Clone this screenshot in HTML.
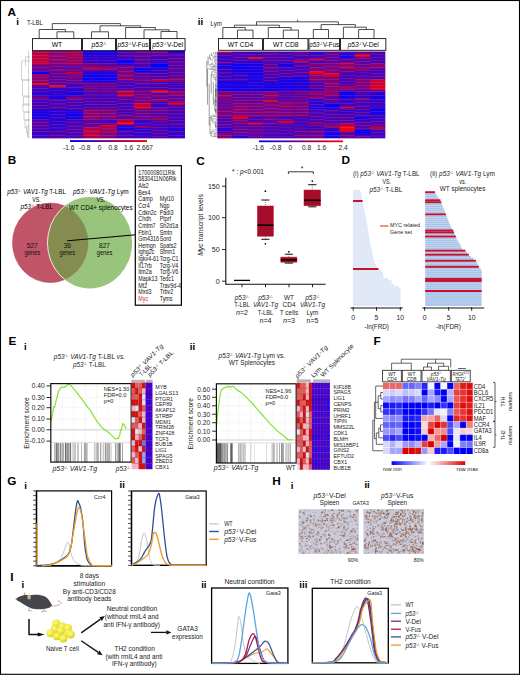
<!DOCTYPE html>
<html><head><meta charset="utf-8"><style>
html,body{margin:0;padding:0;background:#fff;width:520px;height:675px;overflow:hidden}
svg{display:block;font-family:"Liberation Sans",sans-serif}
</style></head><body>
<svg width="520" height="675" viewBox="0 0 520 675" font-family="Liberation Sans, sans-serif">
<rect x="0" y="0" width="520" height="675" fill="#fff"/>
<rect x="32" y="51" width="17.5" height="1.79" fill="#b4004b"/>
<rect x="32" y="52.44" width="17.5" height="1.79" fill="#b0004f"/>
<rect x="32" y="53.89" width="17.5" height="1.79" fill="#bb0044"/>
<rect x="32" y="55.33" width="17.5" height="1.91" fill="#bd0042"/>
<rect x="32" y="56.89" width="17.5" height="1.91" fill="#c80037"/>
<rect x="32" y="58.44" width="17.5" height="1.91" fill="#c4003b"/>
<rect x="32" y="60" width="17.5" height="1.91" fill="#bd0042"/>
<rect x="32" y="61.56" width="17.5" height="1.91" fill="#c70038"/>
<rect x="32" y="63.11" width="17.5" height="1.91" fill="#bc0043"/>
<rect x="32" y="64.67" width="17.5" height="1.68" fill="#71008e"/>
<rect x="32" y="66" width="17.5" height="1.68" fill="#690096"/>
<rect x="32" y="67.33" width="17.5" height="1.68" fill="#690096"/>
<rect x="32" y="68.67" width="17.5" height="1.68" fill="#71008e"/>
<rect x="32" y="70" width="17.5" height="1.68" fill="#7a0085"/>
<rect x="32" y="71.33" width="17.5" height="1.68" fill="#1100ee"/>
<rect x="32" y="72.67" width="17.5" height="1.68" fill="#1300ec"/>
<rect x="32" y="74" width="17.5" height="1.91" fill="#8f0070"/>
<rect x="32" y="75.56" width="17.5" height="1.91" fill="#970068"/>
<rect x="32" y="77.11" width="17.5" height="1.91" fill="#8e0071"/>
<rect x="32" y="78.67" width="17.5" height="1.91" fill="#8a0075"/>
<rect x="32" y="80.22" width="17.5" height="1.91" fill="#970068"/>
<rect x="32" y="81.78" width="17.5" height="1.91" fill="#82007d"/>
<rect x="32" y="83.33" width="17.5" height="1.95" fill="#ff0000"/>
<rect x="32" y="84.93" width="17.5" height="2.04" fill="#5400ab"/>
<rect x="32" y="86.62" width="17.5" height="2.04" fill="#5100ae"/>
<rect x="32" y="88.31" width="17.5" height="2.04" fill="#5000af"/>
<rect x="32" y="90" width="17.5" height="1.68" fill="#2f00d0"/>
<rect x="32" y="91.33" width="17.5" height="1.68" fill="#3a00c5"/>
<rect x="32" y="92.67" width="17.5" height="1.68" fill="#2c00d3"/>
<rect x="32" y="94" width="17.5" height="1.68" fill="#3500ca"/>
<rect x="32" y="95.33" width="17.5" height="1.68" fill="#3600c9"/>
<rect x="32" y="96.67" width="17.5" height="1.68" fill="#7d0082"/>
<rect x="32" y="98" width="17.5" height="1.68" fill="#81007e"/>
<rect x="32" y="99.33" width="17.5" height="1.87" fill="#4200bd"/>
<rect x="32" y="100.86" width="17.5" height="1.87" fill="#4200bd"/>
<rect x="32" y="102.38" width="17.5" height="1.87" fill="#4600b9"/>
<rect x="32" y="103.9" width="17.5" height="1.87" fill="#5100ae"/>
<rect x="32" y="105.43" width="17.5" height="1.87" fill="#4b00b4"/>
<rect x="32" y="106.95" width="17.5" height="1.87" fill="#4800b7"/>
<rect x="32" y="108.48" width="17.5" height="1.87" fill="#4e00b1"/>
<rect x="32" y="110" width="17.5" height="1.91" fill="#1800e7"/>
<rect x="32" y="111.56" width="17.5" height="1.91" fill="#1500ea"/>
<rect x="32" y="113.11" width="17.5" height="1.91" fill="#2000df"/>
<rect x="32" y="114.67" width="17.5" height="1.91" fill="#1e00e1"/>
<rect x="32" y="116.22" width="17.5" height="1.91" fill="#1400eb"/>
<rect x="32" y="117.78" width="17.5" height="1.91" fill="#1b00e4"/>
<rect x="32" y="119.33" width="17.5" height="1.87" fill="#5a00a5"/>
<rect x="32" y="120.86" width="17.5" height="1.87" fill="#62009d"/>
<rect x="32" y="122.38" width="17.5" height="1.87" fill="#5f00a0"/>
<rect x="32" y="123.9" width="17.5" height="1.87" fill="#5400ab"/>
<rect x="32" y="125.43" width="17.5" height="1.87" fill="#64009b"/>
<rect x="32" y="126.95" width="17.5" height="1.87" fill="#5000af"/>
<rect x="32" y="128.48" width="17.5" height="1.87" fill="#5700a8"/>
<rect x="32" y="130" width="17.5" height="1.68" fill="#4600b9"/>
<rect x="32" y="131.33" width="17.5" height="1.68" fill="#3800c7"/>
<rect x="32" y="132.67" width="17.5" height="1.68" fill="#3f00c0"/>
<rect x="32" y="134" width="17.5" height="1.68" fill="#3500ca"/>
<rect x="32" y="135.33" width="17.5" height="1.68" fill="#4400bb"/>
<rect x="32" y="136.67" width="17.5" height="1.68" fill="#4600b9"/>
<rect x="49" y="51" width="17.5" height="1.72" fill="#8e0071"/>
<rect x="49" y="52.37" width="17.5" height="1.72" fill="#95006a"/>
<rect x="49" y="53.74" width="17.5" height="1.72" fill="#880077"/>
<rect x="49" y="55.11" width="17.5" height="1.72" fill="#91006e"/>
<rect x="49" y="56.48" width="17.5" height="1.72" fill="#8e0071"/>
<rect x="49" y="57.85" width="17.5" height="1.72" fill="#8e0071"/>
<rect x="49" y="59.22" width="17.5" height="1.72" fill="#8b0074"/>
<rect x="49" y="60.59" width="17.5" height="1.72" fill="#94006b"/>
<rect x="49" y="61.96" width="17.5" height="1.72" fill="#960069"/>
<rect x="49" y="63.33" width="17.5" height="1.79" fill="#72008d"/>
<rect x="49" y="64.78" width="17.5" height="1.79" fill="#770088"/>
<rect x="49" y="66.22" width="17.5" height="1.79" fill="#690096"/>
<rect x="49" y="67.67" width="17.5" height="1.79" fill="#770088"/>
<rect x="49" y="69.11" width="17.5" height="1.79" fill="#760089"/>
<rect x="49" y="70.56" width="17.5" height="1.79" fill="#7e0081"/>
<rect x="49" y="72" width="17.5" height="1.83" fill="#6d0092"/>
<rect x="49" y="73.48" width="17.5" height="1.83" fill="#61009e"/>
<rect x="49" y="74.96" width="17.5" height="1.83" fill="#63009c"/>
<rect x="49" y="76.44" width="17.5" height="1.83" fill="#6a0095"/>
<rect x="49" y="77.93" width="17.5" height="1.83" fill="#5b00a4"/>
<rect x="49" y="79.41" width="17.5" height="1.83" fill="#65009a"/>
<rect x="49" y="80.89" width="17.5" height="1.83" fill="#5e00a1"/>
<rect x="49" y="82.37" width="17.5" height="1.83" fill="#5d00a2"/>
<rect x="49" y="83.85" width="17.5" height="1.83" fill="#5c00a3"/>
<rect x="49" y="85.33" width="17.5" height="2.35" fill="#ff0000"/>
<rect x="49" y="87.33" width="17.5" height="1.91" fill="#2a00d5"/>
<rect x="49" y="88.89" width="17.5" height="1.91" fill="#2d00d2"/>
<rect x="49" y="90.44" width="17.5" height="1.91" fill="#3000cf"/>
<rect x="49" y="92" width="17.5" height="1.91" fill="#3c00c3"/>
<rect x="49" y="93.56" width="17.5" height="1.91" fill="#2900d6"/>
<rect x="49" y="95.11" width="17.5" height="1.91" fill="#3200cd"/>
<rect x="49" y="96.67" width="17.5" height="1.55" fill="#0e00f1"/>
<rect x="49" y="97.87" width="17.5" height="1.55" fill="#1600e9"/>
<rect x="49" y="99.07" width="17.5" height="1.72" fill="#5400ab"/>
<rect x="49" y="100.43" width="17.5" height="1.72" fill="#5500aa"/>
<rect x="49" y="101.8" width="17.5" height="1.72" fill="#4700b8"/>
<rect x="49" y="103.17" width="17.5" height="1.72" fill="#4b00b4"/>
<rect x="49" y="104.53" width="17.5" height="1.72" fill="#4900b6"/>
<rect x="49" y="105.9" width="17.5" height="1.72" fill="#5500aa"/>
<rect x="49" y="107.27" width="17.5" height="1.72" fill="#5700a8"/>
<rect x="49" y="108.63" width="17.5" height="1.72" fill="#4400bb"/>
<rect x="49" y="110" width="17.5" height="1.78" fill="#2c00d3"/>
<rect x="49" y="111.43" width="17.5" height="1.78" fill="#2d00d2"/>
<rect x="49" y="112.86" width="17.5" height="1.78" fill="#2d00d2"/>
<rect x="49" y="114.29" width="17.5" height="1.78" fill="#3300cc"/>
<rect x="49" y="115.71" width="17.5" height="1.78" fill="#3500ca"/>
<rect x="49" y="117.14" width="17.5" height="1.78" fill="#2e00d1"/>
<rect x="49" y="118.57" width="17.5" height="1.78" fill="#2800d7"/>
<rect x="49" y="120" width="17.5" height="1.78" fill="#3100ce"/>
<rect x="49" y="121.43" width="17.5" height="1.78" fill="#3000cf"/>
<rect x="49" y="122.86" width="17.5" height="1.78" fill="#3500ca"/>
<rect x="49" y="124.29" width="17.5" height="1.78" fill="#3d00c2"/>
<rect x="49" y="125.71" width="17.5" height="1.78" fill="#3700c8"/>
<rect x="49" y="127.14" width="17.5" height="1.78" fill="#3300cc"/>
<rect x="49" y="128.57" width="17.5" height="1.78" fill="#3600c9"/>
<rect x="49" y="130" width="17.5" height="1.68" fill="#5100ae"/>
<rect x="49" y="131.33" width="17.5" height="1.68" fill="#4200bd"/>
<rect x="49" y="132.67" width="17.5" height="1.68" fill="#5600a9"/>
<rect x="49" y="134" width="17.5" height="1.68" fill="#5300ac"/>
<rect x="49" y="135.33" width="17.5" height="1.68" fill="#5500aa"/>
<rect x="49" y="136.67" width="17.5" height="1.68" fill="#5300ac"/>
<rect x="66" y="51" width="17.5" height="1.87" fill="#a3005c"/>
<rect x="66" y="52.52" width="17.5" height="1.87" fill="#a3005c"/>
<rect x="66" y="54.04" width="17.5" height="1.87" fill="#9d0062"/>
<rect x="66" y="55.56" width="17.5" height="1.87" fill="#a90056"/>
<rect x="66" y="57.07" width="17.5" height="1.87" fill="#9c0063"/>
<rect x="66" y="58.59" width="17.5" height="1.87" fill="#9c0063"/>
<rect x="66" y="60.11" width="17.5" height="1.87" fill="#9f0060"/>
<rect x="66" y="61.63" width="17.5" height="1.87" fill="#9e0061"/>
<rect x="66" y="63.15" width="17.5" height="1.87" fill="#a2005d"/>
<rect x="66" y="64.67" width="17.5" height="1.82" fill="#680097"/>
<rect x="66" y="66.13" width="17.5" height="1.82" fill="#670098"/>
<rect x="66" y="67.6" width="17.5" height="1.82" fill="#6b0094"/>
<rect x="66" y="69.07" width="17.5" height="1.82" fill="#6a0095"/>
<rect x="66" y="70.53" width="17.5" height="1.82" fill="#70008f"/>
<rect x="66" y="72" width="17.5" height="2.35" fill="#c1003e"/>
<rect x="66" y="74" width="17.5" height="1.91" fill="#7b0084"/>
<rect x="66" y="75.56" width="17.5" height="1.91" fill="#75008a"/>
<rect x="66" y="77.11" width="17.5" height="1.91" fill="#6b0094"/>
<rect x="66" y="78.67" width="17.5" height="1.91" fill="#6d0092"/>
<rect x="66" y="80.22" width="17.5" height="1.91" fill="#6f0090"/>
<rect x="66" y="81.78" width="17.5" height="1.91" fill="#70008f"/>
<rect x="66" y="83.33" width="17.5" height="1.68" fill="#3700c8"/>
<rect x="66" y="84.67" width="17.5" height="1.68" fill="#4800b7"/>
<rect x="66" y="86" width="17.5" height="1.68" fill="#4b00b4"/>
<rect x="66" y="87.33" width="17.5" height="1.68" fill="#3f00c0"/>
<rect x="66" y="88.67" width="17.5" height="1.68" fill="#3f00c0"/>
<rect x="66" y="90" width="17.5" height="1.68" fill="#1d00e2"/>
<rect x="66" y="91.33" width="17.5" height="1.68" fill="#1d00e2"/>
<rect x="66" y="92.67" width="17.5" height="1.68" fill="#2300dc"/>
<rect x="66" y="94" width="17.5" height="1.68" fill="#2100de"/>
<rect x="66" y="95.33" width="17.5" height="1.68" fill="#2e00d1"/>
<rect x="66" y="96.67" width="17.5" height="1.68" fill="#91006e"/>
<rect x="66" y="98" width="17.5" height="1.68" fill="#8e0071"/>
<rect x="66" y="99.33" width="17.5" height="1.87" fill="#5700a8"/>
<rect x="66" y="100.86" width="17.5" height="1.87" fill="#4d00b2"/>
<rect x="66" y="102.38" width="17.5" height="1.87" fill="#4400bb"/>
<rect x="66" y="103.9" width="17.5" height="1.87" fill="#4d00b2"/>
<rect x="66" y="105.43" width="17.5" height="1.87" fill="#4200bd"/>
<rect x="66" y="106.95" width="17.5" height="1.87" fill="#4d00b2"/>
<rect x="66" y="108.48" width="17.5" height="1.87" fill="#5700a8"/>
<rect x="66" y="110" width="17.5" height="1.91" fill="#2200dd"/>
<rect x="66" y="111.56" width="17.5" height="1.91" fill="#1e00e1"/>
<rect x="66" y="113.11" width="17.5" height="1.91" fill="#1400eb"/>
<rect x="66" y="114.67" width="17.5" height="1.91" fill="#1600e9"/>
<rect x="66" y="116.22" width="17.5" height="1.91" fill="#1200ed"/>
<rect x="66" y="117.78" width="17.5" height="1.91" fill="#2000df"/>
<rect x="66" y="119.33" width="17.5" height="1.79" fill="#4d00b2"/>
<rect x="66" y="120.77" width="17.5" height="1.79" fill="#5300ac"/>
<rect x="66" y="122.21" width="17.5" height="1.79" fill="#4900b6"/>
<rect x="66" y="123.64" width="17.5" height="1.79" fill="#4600b9"/>
<rect x="66" y="125.08" width="17.5" height="1.79" fill="#5400ab"/>
<rect x="66" y="126.51" width="17.5" height="1.79" fill="#5800a7"/>
<rect x="66" y="127.95" width="17.5" height="1.79" fill="#5500aa"/>
<rect x="66" y="129.38" width="17.5" height="1.79" fill="#5400ab"/>
<rect x="66" y="130.82" width="17.5" height="1.79" fill="#5400ab"/>
<rect x="66" y="132.26" width="17.5" height="1.79" fill="#5200ad"/>
<rect x="66" y="133.69" width="17.5" height="1.79" fill="#4600b9"/>
<rect x="66" y="135.13" width="17.5" height="1.79" fill="#4d00b2"/>
<rect x="66" y="136.56" width="17.5" height="1.79" fill="#4900b6"/>
<rect x="83" y="51" width="17.5" height="1.85" fill="#0f00f0"/>
<rect x="83" y="52.5" width="17.5" height="1.85" fill="#0f00f0"/>
<rect x="83" y="54" width="17.5" height="1.91" fill="#2e00d1"/>
<rect x="83" y="55.56" width="17.5" height="1.91" fill="#2d00d2"/>
<rect x="83" y="57.11" width="17.5" height="1.91" fill="#3700c8"/>
<rect x="83" y="58.67" width="17.5" height="1.91" fill="#3d00c2"/>
<rect x="83" y="60.22" width="17.5" height="1.91" fill="#3200cd"/>
<rect x="83" y="61.78" width="17.5" height="1.91" fill="#3d00c2"/>
<rect x="83" y="63.33" width="17.5" height="2.02" fill="#71008e"/>
<rect x="83" y="65" width="17.5" height="2.02" fill="#70008f"/>
<rect x="83" y="66.67" width="17.5" height="1.68" fill="#bc0043"/>
<rect x="83" y="68" width="17.5" height="1.68" fill="#b90046"/>
<rect x="83" y="69.33" width="17.5" height="2.02" fill="#5300ac"/>
<rect x="83" y="71" width="17.5" height="2.02" fill="#5200ad"/>
<rect x="83" y="72.67" width="17.5" height="1.91" fill="#0600f9"/>
<rect x="83" y="74.22" width="17.5" height="1.91" fill="#1000ef"/>
<rect x="83" y="75.78" width="17.5" height="1.91" fill="#1600e9"/>
<rect x="83" y="77.33" width="17.5" height="1.91" fill="#1500ea"/>
<rect x="83" y="78.89" width="17.5" height="1.91" fill="#0c00f3"/>
<rect x="83" y="80.44" width="17.5" height="1.91" fill="#1000ef"/>
<rect x="83" y="82" width="17.5" height="1.87" fill="#6d0092"/>
<rect x="83" y="83.52" width="17.5" height="1.87" fill="#5c00a3"/>
<rect x="83" y="85.05" width="17.5" height="1.87" fill="#6a0095"/>
<rect x="83" y="86.57" width="17.5" height="1.87" fill="#6f0090"/>
<rect x="83" y="88.1" width="17.5" height="1.87" fill="#6c0093"/>
<rect x="83" y="89.62" width="17.5" height="1.87" fill="#6c0093"/>
<rect x="83" y="91.14" width="17.5" height="1.87" fill="#65009a"/>
<rect x="83" y="92.67" width="17.5" height="1.8" fill="#4500ba"/>
<rect x="83" y="94.12" width="17.5" height="1.8" fill="#5300ac"/>
<rect x="83" y="95.58" width="17.5" height="1.8" fill="#4900b6"/>
<rect x="83" y="97.03" width="17.5" height="1.8" fill="#5300ac"/>
<rect x="83" y="98.48" width="17.5" height="1.8" fill="#5700a8"/>
<rect x="83" y="99.94" width="17.5" height="1.8" fill="#4a00b5"/>
<rect x="83" y="101.39" width="17.5" height="1.8" fill="#4a00b5"/>
<rect x="83" y="102.85" width="17.5" height="1.8" fill="#5700a8"/>
<rect x="83" y="104.3" width="17.5" height="1.8" fill="#5200ad"/>
<rect x="83" y="105.76" width="17.5" height="1.8" fill="#4500ba"/>
<rect x="83" y="107.21" width="17.5" height="1.8" fill="#4400bb"/>
<rect x="83" y="108.67" width="17.5" height="1.87" fill="#84007b"/>
<rect x="83" y="110.19" width="17.5" height="1.87" fill="#960069"/>
<rect x="83" y="111.71" width="17.5" height="1.87" fill="#93006c"/>
<rect x="83" y="113.24" width="17.5" height="1.87" fill="#84007b"/>
<rect x="83" y="114.76" width="17.5" height="1.87" fill="#94006b"/>
<rect x="83" y="116.29" width="17.5" height="1.87" fill="#970068"/>
<rect x="83" y="117.81" width="17.5" height="1.87" fill="#90006f"/>
<rect x="83" y="119.33" width="17.5" height="1.68" fill="#63009c"/>
<rect x="83" y="120.67" width="17.5" height="1.68" fill="#670098"/>
<rect x="83" y="122" width="17.5" height="1.68" fill="#5e00a1"/>
<rect x="83" y="123.33" width="17.5" height="1.68" fill="#5b00a4"/>
<rect x="83" y="124.67" width="17.5" height="1.68" fill="#71008e"/>
<rect x="83" y="126" width="17.5" height="1.68" fill="#690096"/>
<rect x="83" y="127.33" width="17.5" height="1.68" fill="#b3004c"/>
<rect x="83" y="128.67" width="17.5" height="1.68" fill="#bc0043"/>
<rect x="83" y="130" width="17.5" height="1.68" fill="#b1004e"/>
<rect x="83" y="131.33" width="17.5" height="1.68" fill="#bb0044"/>
<rect x="83" y="132.67" width="17.5" height="1.68" fill="#ba0045"/>
<rect x="83" y="134" width="17.5" height="1.68" fill="#df0020"/>
<rect x="83" y="135.33" width="17.5" height="1.68" fill="#a0005f"/>
<rect x="83" y="136.67" width="17.5" height="1.68" fill="#a1005e"/>
<rect x="100" y="51" width="17.5" height="1.85" fill="#0700f8"/>
<rect x="100" y="52.5" width="17.5" height="1.85" fill="#0f00f0"/>
<rect x="100" y="54" width="17.5" height="1.91" fill="#2d00d2"/>
<rect x="100" y="55.56" width="17.5" height="1.91" fill="#3100ce"/>
<rect x="100" y="57.11" width="17.5" height="1.91" fill="#2b00d4"/>
<rect x="100" y="58.67" width="17.5" height="1.91" fill="#3c00c3"/>
<rect x="100" y="60.22" width="17.5" height="1.91" fill="#3000cf"/>
<rect x="100" y="61.78" width="17.5" height="1.91" fill="#3200cd"/>
<rect x="100" y="63.33" width="17.5" height="2.02" fill="#5b00a4"/>
<rect x="100" y="65" width="17.5" height="2.02" fill="#63009c"/>
<rect x="100" y="66.67" width="17.5" height="1.68" fill="#a4005b"/>
<rect x="100" y="68" width="17.5" height="1.68" fill="#af0050"/>
<rect x="100" y="69.33" width="17.5" height="2.02" fill="#4d00b2"/>
<rect x="100" y="71" width="17.5" height="2.02" fill="#4d00b2"/>
<rect x="100" y="72.67" width="17.5" height="1.91" fill="#1a00e5"/>
<rect x="100" y="74.22" width="17.5" height="1.91" fill="#0e00f1"/>
<rect x="100" y="75.78" width="17.5" height="1.91" fill="#1800e7"/>
<rect x="100" y="77.33" width="17.5" height="1.91" fill="#1200ed"/>
<rect x="100" y="78.89" width="17.5" height="1.91" fill="#0e00f1"/>
<rect x="100" y="80.44" width="17.5" height="1.91" fill="#2000df"/>
<rect x="100" y="82" width="17.5" height="1.87" fill="#5e00a1"/>
<rect x="100" y="83.52" width="17.5" height="1.87" fill="#65009a"/>
<rect x="100" y="85.05" width="17.5" height="1.87" fill="#6b0094"/>
<rect x="100" y="86.57" width="17.5" height="1.87" fill="#670098"/>
<rect x="100" y="88.1" width="17.5" height="1.87" fill="#62009d"/>
<rect x="100" y="89.62" width="17.5" height="1.87" fill="#660099"/>
<rect x="100" y="91.14" width="17.5" height="1.87" fill="#670098"/>
<rect x="100" y="92.67" width="17.5" height="1.8" fill="#5300ac"/>
<rect x="100" y="94.12" width="17.5" height="1.8" fill="#4300bc"/>
<rect x="100" y="95.58" width="17.5" height="1.8" fill="#4e00b1"/>
<rect x="100" y="97.03" width="17.5" height="1.8" fill="#4700b8"/>
<rect x="100" y="98.48" width="17.5" height="1.8" fill="#4700b8"/>
<rect x="100" y="99.94" width="17.5" height="1.8" fill="#5300ac"/>
<rect x="100" y="101.39" width="17.5" height="1.8" fill="#4d00b2"/>
<rect x="100" y="102.85" width="17.5" height="1.8" fill="#4e00b1"/>
<rect x="100" y="104.3" width="17.5" height="1.8" fill="#5200ad"/>
<rect x="100" y="105.76" width="17.5" height="1.8" fill="#5600a9"/>
<rect x="100" y="107.21" width="17.5" height="1.8" fill="#4b00b4"/>
<rect x="100" y="108.67" width="17.5" height="1.87" fill="#82007d"/>
<rect x="100" y="110.19" width="17.5" height="1.87" fill="#80007f"/>
<rect x="100" y="111.71" width="17.5" height="1.87" fill="#80007f"/>
<rect x="100" y="113.24" width="17.5" height="1.87" fill="#84007b"/>
<rect x="100" y="114.76" width="17.5" height="1.87" fill="#7e0081"/>
<rect x="100" y="116.29" width="17.5" height="1.87" fill="#80007f"/>
<rect x="100" y="117.81" width="17.5" height="1.87" fill="#7f0080"/>
<rect x="100" y="119.33" width="17.5" height="1.68" fill="#4a00b5"/>
<rect x="100" y="120.67" width="17.5" height="1.68" fill="#4400bb"/>
<rect x="100" y="122" width="17.5" height="1.68" fill="#4800b7"/>
<rect x="100" y="123.33" width="17.5" height="1.68" fill="#4a00b5"/>
<rect x="100" y="124.67" width="17.5" height="2.35" fill="#ed0012"/>
<rect x="100" y="126.67" width="17.5" height="1.82" fill="#9a0065"/>
<rect x="100" y="128.13" width="17.5" height="1.82" fill="#a3005c"/>
<rect x="100" y="129.6" width="17.5" height="1.82" fill="#a1005e"/>
<rect x="100" y="131.07" width="17.5" height="1.82" fill="#91006e"/>
<rect x="100" y="132.53" width="17.5" height="1.82" fill="#90006f"/>
<rect x="100" y="134" width="17.5" height="1.68" fill="#8b0074"/>
<rect x="100" y="135.33" width="17.5" height="1.68" fill="#82007d"/>
<rect x="100" y="136.67" width="17.5" height="1.68" fill="#860079"/>
<rect x="117" y="51" width="17.5" height="1.74" fill="#4300bc"/>
<rect x="117" y="52.39" width="17.5" height="1.74" fill="#5000af"/>
<rect x="117" y="53.78" width="17.5" height="1.74" fill="#5300ac"/>
<rect x="117" y="55.17" width="17.5" height="1.74" fill="#5600a9"/>
<rect x="117" y="56.56" width="17.5" height="1.74" fill="#4500ba"/>
<rect x="117" y="57.94" width="17.5" height="1.74" fill="#5100ae"/>
<rect x="117" y="59.33" width="17.5" height="1.68" fill="#1000ef"/>
<rect x="117" y="60.67" width="17.5" height="1.68" fill="#0500fa"/>
<rect x="117" y="62" width="17.5" height="1.68" fill="#1600e9"/>
<rect x="117" y="63.33" width="17.5" height="1.68" fill="#1700e8"/>
<rect x="117" y="64.67" width="17.5" height="1.68" fill="#6c0093"/>
<rect x="117" y="66" width="17.5" height="1.68" fill="#7d0082"/>
<rect x="117" y="67.33" width="17.5" height="1.68" fill="#70008f"/>
<rect x="117" y="68.67" width="17.5" height="1.68" fill="#72008d"/>
<rect x="117" y="70" width="17.5" height="1.68" fill="#7e0081"/>
<rect x="117" y="71.33" width="17.5" height="1.68" fill="#7a0085"/>
<rect x="117" y="72.67" width="17.5" height="1.68" fill="#84007b"/>
<rect x="117" y="74" width="17.5" height="1.68" fill="#8b0074"/>
<rect x="117" y="75.33" width="17.5" height="1.68" fill="#8d0072"/>
<rect x="117" y="76.67" width="17.5" height="1.68" fill="#890076"/>
<rect x="117" y="78" width="17.5" height="1.68" fill="#85007a"/>
<rect x="117" y="79.33" width="17.5" height="1.68" fill="#880077"/>
<rect x="117" y="80.67" width="17.5" height="1.91" fill="#5200ad"/>
<rect x="117" y="82.22" width="17.5" height="1.91" fill="#4100be"/>
<rect x="117" y="83.78" width="17.5" height="1.91" fill="#4e00b1"/>
<rect x="117" y="85.33" width="17.5" height="1.91" fill="#4b00b4"/>
<rect x="117" y="86.89" width="17.5" height="1.91" fill="#4100be"/>
<rect x="117" y="88.44" width="17.5" height="1.91" fill="#4900b6"/>
<rect x="117" y="90" width="17.5" height="1.68" fill="#b5004a"/>
<rect x="117" y="91.33" width="17.5" height="1.68" fill="#b3004c"/>
<rect x="117" y="92.67" width="17.5" height="1.68" fill="#a90056"/>
<rect x="117" y="94" width="17.5" height="1.68" fill="#be0041"/>
<rect x="117" y="95.33" width="17.5" height="1.68" fill="#b90046"/>
<rect x="117" y="96.67" width="17.5" height="1.68" fill="#64009b"/>
<rect x="117" y="98" width="17.5" height="1.68" fill="#5000af"/>
<rect x="117" y="99.33" width="17.5" height="1.68" fill="#5400ab"/>
<rect x="117" y="100.67" width="17.5" height="1.68" fill="#4f00b0"/>
<rect x="117" y="102" width="17.5" height="1.68" fill="#60009f"/>
<rect x="117" y="103.33" width="17.5" height="1.87" fill="#4700b8"/>
<rect x="117" y="104.86" width="17.5" height="1.87" fill="#4400bb"/>
<rect x="117" y="106.38" width="17.5" height="1.87" fill="#4b00b4"/>
<rect x="117" y="107.9" width="17.5" height="1.87" fill="#5600a9"/>
<rect x="117" y="109.43" width="17.5" height="1.87" fill="#5400ab"/>
<rect x="117" y="110.95" width="17.5" height="1.87" fill="#4700b8"/>
<rect x="117" y="112.48" width="17.5" height="1.87" fill="#4400bb"/>
<rect x="117" y="114" width="17.5" height="1.68" fill="#70008f"/>
<rect x="117" y="115.33" width="17.5" height="1.68" fill="#680097"/>
<rect x="117" y="116.67" width="17.5" height="1.68" fill="#6b0094"/>
<rect x="117" y="118" width="17.5" height="1.68" fill="#5d00a2"/>
<rect x="117" y="119.33" width="17.5" height="1.68" fill="#a80057"/>
<rect x="117" y="120.67" width="17.5" height="1.68" fill="#b70048"/>
<rect x="117" y="122" width="17.5" height="1.68" fill="#fd0002"/>
<rect x="117" y="123.33" width="17.5" height="1.68" fill="#f5000a"/>
<rect x="117" y="124.67" width="17.5" height="1.68" fill="#2400db"/>
<rect x="117" y="126" width="17.5" height="1.68" fill="#1d00e2"/>
<rect x="117" y="127.33" width="17.5" height="1.68" fill="#2000df"/>
<rect x="117" y="128.67" width="17.5" height="1.68" fill="#1000ef"/>
<rect x="117" y="130" width="17.5" height="1.68" fill="#5500aa"/>
<rect x="117" y="131.33" width="17.5" height="1.68" fill="#4300bc"/>
<rect x="117" y="132.67" width="17.5" height="1.68" fill="#5500aa"/>
<rect x="117" y="134" width="17.5" height="1.68" fill="#4b00b4"/>
<rect x="117" y="135.33" width="17.5" height="1.68" fill="#4900b6"/>
<rect x="117" y="136.67" width="17.5" height="1.68" fill="#4e00b1"/>
<rect x="134" y="51" width="17.5" height="1.72" fill="#70008f"/>
<rect x="134" y="52.37" width="17.5" height="1.72" fill="#61009e"/>
<rect x="134" y="53.74" width="17.5" height="1.72" fill="#5d00a2"/>
<rect x="134" y="55.11" width="17.5" height="1.72" fill="#670098"/>
<rect x="134" y="56.48" width="17.5" height="1.72" fill="#60009f"/>
<rect x="134" y="57.85" width="17.5" height="1.72" fill="#5d00a2"/>
<rect x="134" y="59.22" width="17.5" height="1.72" fill="#5e00a1"/>
<rect x="134" y="60.59" width="17.5" height="1.72" fill="#5c00a3"/>
<rect x="134" y="61.96" width="17.5" height="1.72" fill="#5f00a0"/>
<rect x="134" y="63.33" width="17.5" height="1.68" fill="#4800b7"/>
<rect x="134" y="64.67" width="17.5" height="1.68" fill="#4800b7"/>
<rect x="134" y="66" width="17.5" height="1.68" fill="#5200ad"/>
<rect x="134" y="67.33" width="17.5" height="1.68" fill="#4800b7"/>
<rect x="134" y="68.67" width="17.5" height="2.02" fill="#0000ff"/>
<rect x="134" y="70.33" width="17.5" height="2.02" fill="#0000ff"/>
<rect x="134" y="72" width="17.5" height="1.76" fill="#62009d"/>
<rect x="134" y="73.41" width="17.5" height="1.76" fill="#5b00a4"/>
<rect x="134" y="74.81" width="17.5" height="1.76" fill="#60009f"/>
<rect x="134" y="76.22" width="17.5" height="1.76" fill="#5b00a4"/>
<rect x="134" y="77.63" width="17.5" height="1.76" fill="#6b0094"/>
<rect x="134" y="79.04" width="17.5" height="1.76" fill="#670098"/>
<rect x="134" y="80.44" width="17.5" height="1.76" fill="#5f00a0"/>
<rect x="134" y="81.85" width="17.5" height="1.76" fill="#65009a"/>
<rect x="134" y="83.26" width="17.5" height="1.76" fill="#70008f"/>
<rect x="134" y="84.67" width="17.5" height="1.68" fill="#4300bc"/>
<rect x="134" y="86" width="17.5" height="1.68" fill="#5400ab"/>
<rect x="134" y="87.33" width="17.5" height="1.68" fill="#4b00b4"/>
<rect x="134" y="88.67" width="17.5" height="1.68" fill="#4c00b3"/>
<rect x="134" y="90" width="17.5" height="1.83" fill="#7a0085"/>
<rect x="134" y="91.48" width="17.5" height="1.83" fill="#70008f"/>
<rect x="134" y="92.96" width="17.5" height="1.83" fill="#73008c"/>
<rect x="134" y="94.44" width="17.5" height="1.83" fill="#770088"/>
<rect x="134" y="95.93" width="17.5" height="1.83" fill="#7e0081"/>
<rect x="134" y="97.41" width="17.5" height="1.83" fill="#6f0090"/>
<rect x="134" y="98.89" width="17.5" height="1.83" fill="#7a0085"/>
<rect x="134" y="100.37" width="17.5" height="1.83" fill="#770088"/>
<rect x="134" y="101.85" width="17.5" height="1.83" fill="#760089"/>
<rect x="134" y="103.33" width="17.5" height="1.68" fill="#d70028"/>
<rect x="134" y="104.67" width="17.5" height="1.68" fill="#d5002a"/>
<rect x="134" y="106" width="17.5" height="1.68" fill="#cf0030"/>
<rect x="134" y="107.33" width="17.5" height="1.68" fill="#d0002f"/>
<rect x="134" y="108.67" width="17.5" height="1.87" fill="#690096"/>
<rect x="134" y="110.19" width="17.5" height="1.87" fill="#780087"/>
<rect x="134" y="111.71" width="17.5" height="1.87" fill="#6d0092"/>
<rect x="134" y="113.24" width="17.5" height="1.87" fill="#6b0094"/>
<rect x="134" y="114.76" width="17.5" height="1.87" fill="#690096"/>
<rect x="134" y="116.29" width="17.5" height="1.87" fill="#7b0084"/>
<rect x="134" y="117.81" width="17.5" height="1.87" fill="#7b0084"/>
<rect x="134" y="119.33" width="17.5" height="1.68" fill="#4400bb"/>
<rect x="134" y="120.67" width="17.5" height="1.68" fill="#3b00c4"/>
<rect x="134" y="122" width="17.5" height="1.68" fill="#3a00c5"/>
<rect x="134" y="123.33" width="17.5" height="1.68" fill="#3b00c4"/>
<rect x="134" y="124.67" width="17.5" height="1.68" fill="#3f00c0"/>
<rect x="134" y="126" width="17.5" height="2.35" fill="#91006e"/>
<rect x="134" y="128" width="17.5" height="1.78" fill="#3200cd"/>
<rect x="134" y="129.43" width="17.5" height="1.78" fill="#2e00d1"/>
<rect x="134" y="130.86" width="17.5" height="1.78" fill="#3e00c1"/>
<rect x="134" y="132.29" width="17.5" height="1.78" fill="#3e00c1"/>
<rect x="134" y="133.71" width="17.5" height="1.78" fill="#3400cb"/>
<rect x="134" y="135.14" width="17.5" height="1.78" fill="#2d00d2"/>
<rect x="134" y="136.57" width="17.5" height="1.78" fill="#3e00c1"/>
<rect x="151" y="51" width="17.5" height="1.79" fill="#6e0091"/>
<rect x="151" y="52.44" width="17.5" height="1.79" fill="#6f0090"/>
<rect x="151" y="53.89" width="17.5" height="1.79" fill="#670098"/>
<rect x="151" y="55.33" width="17.5" height="1.68" fill="#4a00b5"/>
<rect x="151" y="56.67" width="17.5" height="1.68" fill="#4c00b3"/>
<rect x="151" y="58" width="17.5" height="1.68" fill="#4d00b2"/>
<rect x="151" y="59.33" width="17.5" height="1.68" fill="#4600b9"/>
<rect x="151" y="60.67" width="17.5" height="1.68" fill="#4d00b2"/>
<rect x="151" y="62" width="17.5" height="1.68" fill="#4100be"/>
<rect x="151" y="63.33" width="17.5" height="1.68" fill="#0000ff"/>
<rect x="151" y="64.67" width="17.5" height="1.68" fill="#0000ff"/>
<rect x="151" y="66" width="17.5" height="1.68" fill="#0000ff"/>
<rect x="151" y="67.33" width="17.5" height="1.68" fill="#0000ff"/>
<rect x="151" y="68.67" width="17.5" height="1.87" fill="#4200bd"/>
<rect x="151" y="70.19" width="17.5" height="1.87" fill="#4800b7"/>
<rect x="151" y="71.71" width="17.5" height="1.87" fill="#4600b9"/>
<rect x="151" y="73.24" width="17.5" height="1.87" fill="#4e00b1"/>
<rect x="151" y="74.76" width="17.5" height="1.87" fill="#4d00b2"/>
<rect x="151" y="76.29" width="17.5" height="1.87" fill="#5200ad"/>
<rect x="151" y="77.81" width="17.5" height="1.87" fill="#5000af"/>
<rect x="151" y="79.33" width="17.5" height="1.68" fill="#ab0054"/>
<rect x="151" y="80.67" width="17.5" height="1.68" fill="#ae0051"/>
<rect x="151" y="82" width="17.5" height="1.68" fill="#4a00b5"/>
<rect x="151" y="83.33" width="17.5" height="1.68" fill="#4900b6"/>
<rect x="151" y="84.67" width="17.5" height="1.68" fill="#5800a7"/>
<rect x="151" y="86" width="17.5" height="1.68" fill="#4400bb"/>
<rect x="151" y="87.33" width="17.5" height="1.68" fill="#5200ad"/>
<rect x="151" y="88.67" width="17.5" height="1.68" fill="#5000af"/>
<rect x="151" y="90" width="17.5" height="1.55" fill="#db0024"/>
<rect x="151" y="91.2" width="17.5" height="1.55" fill="#ed0012"/>
<rect x="151" y="92.4" width="17.5" height="1.74" fill="#6f0090"/>
<rect x="151" y="93.79" width="17.5" height="1.74" fill="#690096"/>
<rect x="151" y="95.17" width="17.5" height="1.74" fill="#6b0094"/>
<rect x="151" y="96.56" width="17.5" height="1.74" fill="#6d0092"/>
<rect x="151" y="97.95" width="17.5" height="1.74" fill="#5e00a1"/>
<rect x="151" y="99.33" width="17.5" height="1.68" fill="#9a0065"/>
<rect x="151" y="100.67" width="17.5" height="1.68" fill="#990066"/>
<rect x="151" y="102" width="17.5" height="1.68" fill="#3b00c4"/>
<rect x="151" y="103.33" width="17.5" height="1.68" fill="#3a00c5"/>
<rect x="151" y="104.67" width="17.5" height="1.68" fill="#3a00c5"/>
<rect x="151" y="106" width="17.5" height="1.68" fill="#3500ca"/>
<rect x="151" y="107.33" width="17.5" height="1.87" fill="#6f0090"/>
<rect x="151" y="108.86" width="17.5" height="1.87" fill="#6a0095"/>
<rect x="151" y="110.38" width="17.5" height="1.87" fill="#6a0095"/>
<rect x="151" y="111.9" width="17.5" height="1.87" fill="#60009f"/>
<rect x="151" y="113.43" width="17.5" height="1.87" fill="#5b00a4"/>
<rect x="151" y="114.95" width="17.5" height="1.87" fill="#5e00a1"/>
<rect x="151" y="116.48" width="17.5" height="1.87" fill="#63009c"/>
<rect x="151" y="118" width="17.5" height="2.35" fill="#a90056"/>
<rect x="151" y="120" width="17.5" height="1.85" fill="#5400ab"/>
<rect x="151" y="121.5" width="17.5" height="1.85" fill="#4e00b1"/>
<rect x="151" y="123" width="17.5" height="1.85" fill="#4f00b0"/>
<rect x="151" y="124.5" width="17.5" height="1.85" fill="#4f00b0"/>
<rect x="151" y="126" width="17.5" height="1.85" fill="#5100ae"/>
<rect x="151" y="127.5" width="17.5" height="1.85" fill="#4c00b3"/>
<rect x="151" y="129" width="17.5" height="1.85" fill="#4100be"/>
<rect x="151" y="130.5" width="17.5" height="1.85" fill="#5300ac"/>
<rect x="151" y="132" width="17.5" height="1.85" fill="#5200ad"/>
<rect x="151" y="133.5" width="17.5" height="1.85" fill="#4d00b2"/>
<rect x="151" y="135" width="17.5" height="1.85" fill="#4d00b2"/>
<rect x="151" y="136.5" width="17.5" height="1.85" fill="#5000af"/>
<rect x="168" y="51" width="17" height="2.02" fill="#1000ef"/>
<rect x="168" y="52.67" width="17" height="1.76" fill="#5f00a0"/>
<rect x="168" y="54.08" width="17" height="1.76" fill="#5400ab"/>
<rect x="168" y="55.49" width="17" height="1.76" fill="#4f00b0"/>
<rect x="168" y="56.9" width="17" height="1.76" fill="#5400ab"/>
<rect x="168" y="58.31" width="17" height="1.76" fill="#5f00a0"/>
<rect x="168" y="59.73" width="17" height="1.76" fill="#5200ad"/>
<rect x="168" y="61.14" width="17" height="1.76" fill="#5f00a0"/>
<rect x="168" y="62.55" width="17" height="1.76" fill="#64009b"/>
<rect x="168" y="63.96" width="17" height="1.76" fill="#5900a6"/>
<rect x="168" y="65.37" width="17" height="1.76" fill="#5700a8"/>
<rect x="168" y="66.78" width="17" height="1.76" fill="#5900a6"/>
<rect x="168" y="68.2" width="17" height="1.76" fill="#5d00a2"/>
<rect x="168" y="69.61" width="17" height="1.76" fill="#5f00a0"/>
<rect x="168" y="71.02" width="17" height="1.76" fill="#5c00a3"/>
<rect x="168" y="72.43" width="17" height="1.76" fill="#5d00a2"/>
<rect x="168" y="73.84" width="17" height="1.76" fill="#5000af"/>
<rect x="168" y="75.25" width="17" height="1.76" fill="#5100ae"/>
<rect x="168" y="76.67" width="17" height="1.68" fill="#7a0085"/>
<rect x="168" y="78" width="17" height="1.68" fill="#85007a"/>
<rect x="168" y="79.33" width="17" height="1.68" fill="#7b0084"/>
<rect x="168" y="80.67" width="17" height="1.68" fill="#81007e"/>
<rect x="168" y="82" width="17" height="1.91" fill="#4100be"/>
<rect x="168" y="83.56" width="17" height="1.91" fill="#4200bd"/>
<rect x="168" y="85.11" width="17" height="1.91" fill="#4700b8"/>
<rect x="168" y="86.67" width="17" height="1.91" fill="#5000af"/>
<rect x="168" y="88.22" width="17" height="1.91" fill="#5100ae"/>
<rect x="168" y="89.78" width="17" height="1.91" fill="#5100ae"/>
<rect x="168" y="91.33" width="17" height="1.68" fill="#94006b"/>
<rect x="168" y="92.67" width="17" height="1.68" fill="#990066"/>
<rect x="168" y="94" width="17" height="1.68" fill="#980067"/>
<rect x="168" y="95.33" width="17" height="1.82" fill="#65009a"/>
<rect x="168" y="96.8" width="17" height="1.82" fill="#5d00a2"/>
<rect x="168" y="98.27" width="17" height="1.82" fill="#6f0090"/>
<rect x="168" y="99.73" width="17" height="1.82" fill="#5f00a0"/>
<rect x="168" y="101.2" width="17" height="1.82" fill="#71008e"/>
<rect x="168" y="102.67" width="17" height="2.35" fill="#ff0000"/>
<rect x="168" y="104.67" width="17" height="1.77" fill="#4100be"/>
<rect x="168" y="106.08" width="17" height="1.77" fill="#4c00b3"/>
<rect x="168" y="107.5" width="17" height="1.77" fill="#5400ab"/>
<rect x="168" y="108.92" width="17" height="1.77" fill="#5700a8"/>
<rect x="168" y="110.33" width="17" height="1.77" fill="#4b00b4"/>
<rect x="168" y="111.75" width="17" height="1.77" fill="#4700b8"/>
<rect x="168" y="113.17" width="17" height="1.77" fill="#4600b9"/>
<rect x="168" y="114.58" width="17" height="1.77" fill="#5700a8"/>
<rect x="168" y="116" width="17" height="1.77" fill="#4600b9"/>
<rect x="168" y="117.42" width="17" height="1.77" fill="#4e00b1"/>
<rect x="168" y="118.83" width="17" height="1.77" fill="#4400bb"/>
<rect x="168" y="120.25" width="17" height="1.77" fill="#4d00b2"/>
<rect x="168" y="121.67" width="17" height="1.77" fill="#5700a8"/>
<rect x="168" y="123.08" width="17" height="1.77" fill="#4400bb"/>
<rect x="168" y="124.5" width="17" height="1.77" fill="#5400ab"/>
<rect x="168" y="125.92" width="17" height="1.77" fill="#4d00b2"/>
<rect x="168" y="127.33" width="17" height="1.68" fill="#2200dd"/>
<rect x="168" y="128.67" width="17" height="1.68" fill="#1e00e1"/>
<rect x="168" y="130" width="17" height="1.68" fill="#3a00c5"/>
<rect x="168" y="131.33" width="17" height="1.68" fill="#4900b6"/>
<rect x="168" y="132.67" width="17" height="1.68" fill="#3f00c0"/>
<rect x="168" y="134" width="17" height="1.68" fill="#3500ca"/>
<rect x="168" y="135.33" width="17" height="1.68" fill="#3400cb"/>
<rect x="168" y="136.67" width="17" height="1.68" fill="#4000bf"/>
<rect x="217.3" y="51.5" width="15.77" height="1.52" fill="#e4001b"/>
<rect x="217.3" y="52.67" width="15.77" height="1.68" fill="#4800b7"/>
<rect x="217.3" y="54" width="15.77" height="1.68" fill="#4400bb"/>
<rect x="217.3" y="55.33" width="15.77" height="1.68" fill="#4900b6"/>
<rect x="217.3" y="56.67" width="15.77" height="1.68" fill="#4800b7"/>
<rect x="217.3" y="58" width="15.77" height="1.68" fill="#5400ab"/>
<rect x="217.3" y="59.33" width="15.77" height="1.68" fill="#0e00f1"/>
<rect x="217.3" y="60.67" width="15.77" height="2.02" fill="#5f00a0"/>
<rect x="217.3" y="62.33" width="15.77" height="2.02" fill="#61009e"/>
<rect x="217.3" y="64" width="15.77" height="1.68" fill="#1100ee"/>
<rect x="217.3" y="65.33" width="15.77" height="1.68" fill="#2300dc"/>
<rect x="217.3" y="66.67" width="15.77" height="1.68" fill="#1e00e1"/>
<rect x="217.3" y="68" width="15.77" height="1.75" fill="#4900b6"/>
<rect x="217.3" y="69.4" width="15.77" height="1.75" fill="#3b00c4"/>
<rect x="217.3" y="70.8" width="15.77" height="1.75" fill="#3d00c2"/>
<rect x="217.3" y="72.2" width="15.77" height="1.75" fill="#3d00c2"/>
<rect x="217.3" y="73.6" width="15.77" height="1.75" fill="#4b00b4"/>
<rect x="217.3" y="75" width="15.77" height="1.75" fill="#4200bd"/>
<rect x="217.3" y="76.4" width="15.77" height="1.75" fill="#3d00c2"/>
<rect x="217.3" y="77.8" width="15.77" height="1.75" fill="#3e00c1"/>
<rect x="217.3" y="79.2" width="15.77" height="1.75" fill="#3b00c4"/>
<rect x="217.3" y="80.6" width="15.77" height="1.75" fill="#3500ca"/>
<rect x="217.3" y="82" width="15.77" height="1.91" fill="#1000ef"/>
<rect x="217.3" y="83.56" width="15.77" height="1.91" fill="#2100de"/>
<rect x="217.3" y="85.11" width="15.77" height="1.91" fill="#1500ea"/>
<rect x="217.3" y="86.67" width="15.77" height="1.91" fill="#2300dc"/>
<rect x="217.3" y="88.22" width="15.77" height="1.91" fill="#1400eb"/>
<rect x="217.3" y="89.78" width="15.77" height="1.91" fill="#1400eb"/>
<rect x="217.3" y="91.33" width="15.77" height="1.68" fill="#8d0072"/>
<rect x="217.3" y="92.67" width="15.77" height="1.68" fill="#85007a"/>
<rect x="217.3" y="94" width="15.77" height="1.68" fill="#890076"/>
<rect x="217.3" y="95.33" width="15.77" height="1.68" fill="#970068"/>
<rect x="217.3" y="96.67" width="15.77" height="1.68" fill="#95006a"/>
<rect x="217.3" y="98" width="15.77" height="1.87" fill="#6d0092"/>
<rect x="217.3" y="99.52" width="15.77" height="1.87" fill="#690096"/>
<rect x="217.3" y="101.05" width="15.77" height="1.87" fill="#6f0090"/>
<rect x="217.3" y="102.57" width="15.77" height="1.87" fill="#70008f"/>
<rect x="217.3" y="104.1" width="15.77" height="1.87" fill="#670098"/>
<rect x="217.3" y="105.62" width="15.77" height="1.87" fill="#6b0094"/>
<rect x="217.3" y="107.14" width="15.77" height="1.87" fill="#5c00a3"/>
<rect x="217.3" y="108.67" width="15.77" height="1.68" fill="#85007a"/>
<rect x="217.3" y="110" width="15.77" height="1.68" fill="#7e0081"/>
<rect x="217.3" y="111.33" width="15.77" height="1.68" fill="#85007a"/>
<rect x="217.3" y="112.67" width="15.77" height="1.68" fill="#83007c"/>
<rect x="217.3" y="114" width="15.77" height="1.68" fill="#7b0084"/>
<rect x="217.3" y="115.33" width="15.77" height="1.68" fill="#75008a"/>
<rect x="217.3" y="116.67" width="15.77" height="1.87" fill="#63009c"/>
<rect x="217.3" y="118.19" width="15.77" height="1.87" fill="#5100ae"/>
<rect x="217.3" y="119.71" width="15.77" height="1.87" fill="#5900a6"/>
<rect x="217.3" y="121.24" width="15.77" height="1.87" fill="#5600a9"/>
<rect x="217.3" y="122.76" width="15.77" height="1.87" fill="#5500aa"/>
<rect x="217.3" y="124.29" width="15.77" height="1.87" fill="#5f00a0"/>
<rect x="217.3" y="125.81" width="15.77" height="1.87" fill="#64009b"/>
<rect x="217.3" y="127.33" width="15.77" height="1.68" fill="#2d00d2"/>
<rect x="217.3" y="128.67" width="15.77" height="1.68" fill="#3700c8"/>
<rect x="217.3" y="130" width="15.77" height="1.68" fill="#2e00d1"/>
<rect x="217.3" y="131.33" width="15.77" height="1.68" fill="#3400cb"/>
<rect x="217.3" y="132.67" width="15.77" height="1.68" fill="#8a0075"/>
<rect x="217.3" y="134" width="15.77" height="1.68" fill="#85007a"/>
<rect x="217.3" y="135.33" width="15.77" height="1.68" fill="#84007b"/>
<rect x="217.3" y="136.67" width="15.77" height="1.68" fill="#860079"/>
<rect x="232.57" y="51.5" width="15.77" height="1.83" fill="#5600a9"/>
<rect x="232.57" y="52.98" width="15.77" height="1.83" fill="#4c00b3"/>
<rect x="232.57" y="54.46" width="15.77" height="1.83" fill="#4600b9"/>
<rect x="232.57" y="55.94" width="15.77" height="1.83" fill="#5600a9"/>
<rect x="232.57" y="57.42" width="15.77" height="1.83" fill="#5800a7"/>
<rect x="232.57" y="58.9" width="15.77" height="1.83" fill="#4b00b4"/>
<rect x="232.57" y="60.38" width="15.77" height="1.83" fill="#4400bb"/>
<rect x="232.57" y="61.85" width="15.77" height="1.83" fill="#4500ba"/>
<rect x="232.57" y="63.33" width="15.77" height="1.87" fill="#1000ef"/>
<rect x="232.57" y="64.86" width="15.77" height="1.87" fill="#1600e9"/>
<rect x="232.57" y="66.38" width="15.77" height="1.87" fill="#1000ef"/>
<rect x="232.57" y="67.9" width="15.77" height="1.87" fill="#1400eb"/>
<rect x="232.57" y="69.43" width="15.77" height="1.87" fill="#1400eb"/>
<rect x="232.57" y="70.95" width="15.77" height="1.87" fill="#1b00e4"/>
<rect x="232.57" y="72.48" width="15.77" height="1.87" fill="#2200dd"/>
<rect x="232.57" y="74" width="15.77" height="1.68" fill="#4500ba"/>
<rect x="232.57" y="75.33" width="15.77" height="1.68" fill="#3e00c1"/>
<rect x="232.57" y="76.67" width="15.77" height="1.68" fill="#3e00c1"/>
<rect x="232.57" y="78" width="15.77" height="1.68" fill="#4000bf"/>
<rect x="232.57" y="79.33" width="15.77" height="1.68" fill="#3d00c2"/>
<rect x="232.57" y="80.67" width="15.77" height="1.68" fill="#3c00c3"/>
<rect x="232.57" y="82" width="15.77" height="1.91" fill="#0f00f0"/>
<rect x="232.57" y="83.56" width="15.77" height="1.91" fill="#1400eb"/>
<rect x="232.57" y="85.11" width="15.77" height="1.91" fill="#2400db"/>
<rect x="232.57" y="86.67" width="15.77" height="1.91" fill="#1100ee"/>
<rect x="232.57" y="88.22" width="15.77" height="1.91" fill="#1a00e5"/>
<rect x="232.57" y="89.78" width="15.77" height="1.91" fill="#1c00e3"/>
<rect x="232.57" y="91.33" width="15.77" height="1.85" fill="#6e0091"/>
<rect x="232.57" y="92.83" width="15.77" height="1.85" fill="#5f00a0"/>
<rect x="232.57" y="94.33" width="15.77" height="1.85" fill="#61009e"/>
<rect x="232.57" y="95.83" width="15.77" height="1.85" fill="#60009f"/>
<rect x="232.57" y="97.33" width="15.77" height="1.85" fill="#64009b"/>
<rect x="232.57" y="98.83" width="15.77" height="1.85" fill="#65009a"/>
<rect x="232.57" y="100.33" width="15.77" height="1.85" fill="#70008f"/>
<rect x="232.57" y="101.83" width="15.77" height="1.85" fill="#6e0091"/>
<rect x="232.57" y="103.33" width="15.77" height="1.83" fill="#95006a"/>
<rect x="232.57" y="104.81" width="15.77" height="1.83" fill="#81007e"/>
<rect x="232.57" y="106.3" width="15.77" height="1.83" fill="#82007d"/>
<rect x="232.57" y="107.78" width="15.77" height="1.83" fill="#91006e"/>
<rect x="232.57" y="109.26" width="15.77" height="1.83" fill="#95006a"/>
<rect x="232.57" y="110.74" width="15.77" height="1.83" fill="#8c0073"/>
<rect x="232.57" y="112.22" width="15.77" height="1.83" fill="#8e0071"/>
<rect x="232.57" y="113.7" width="15.77" height="1.83" fill="#81007e"/>
<rect x="232.57" y="115.19" width="15.77" height="1.83" fill="#8a0075"/>
<rect x="232.57" y="116.67" width="15.77" height="2.35" fill="#fc0003"/>
<rect x="232.57" y="118.67" width="15.77" height="1.85" fill="#7a0085"/>
<rect x="232.57" y="120.17" width="15.77" height="1.85" fill="#7b0084"/>
<rect x="232.57" y="121.67" width="15.77" height="1.85" fill="#7e0081"/>
<rect x="232.57" y="123.17" width="15.77" height="1.85" fill="#6d0092"/>
<rect x="232.57" y="124.67" width="15.77" height="1.87" fill="#5d00a2"/>
<rect x="232.57" y="126.19" width="15.77" height="1.87" fill="#5e00a1"/>
<rect x="232.57" y="127.71" width="15.77" height="1.87" fill="#670098"/>
<rect x="232.57" y="129.24" width="15.77" height="1.87" fill="#6a0095"/>
<rect x="232.57" y="130.76" width="15.77" height="1.87" fill="#70008f"/>
<rect x="232.57" y="132.29" width="15.77" height="1.87" fill="#6b0094"/>
<rect x="232.57" y="133.81" width="15.77" height="1.87" fill="#690096"/>
<rect x="232.57" y="135.33" width="15.77" height="1.68" fill="#2c00d3"/>
<rect x="232.57" y="136.67" width="15.77" height="1.68" fill="#2500da"/>
<rect x="247.85" y="51.5" width="15.77" height="1.81" fill="#4e00b1"/>
<rect x="247.85" y="52.96" width="15.77" height="1.81" fill="#4200bd"/>
<rect x="247.85" y="54.42" width="15.77" height="1.81" fill="#5300ac"/>
<rect x="247.85" y="55.88" width="15.77" height="1.81" fill="#4600b9"/>
<rect x="247.85" y="57.33" width="15.77" height="2.08" fill="#fc0003"/>
<rect x="247.85" y="59.07" width="15.77" height="1.77" fill="#4300bc"/>
<rect x="247.85" y="60.49" width="15.77" height="1.77" fill="#3b00c4"/>
<rect x="247.85" y="61.91" width="15.77" height="1.77" fill="#3700c8"/>
<rect x="247.85" y="63.33" width="15.77" height="1.82" fill="#1900e6"/>
<rect x="247.85" y="64.81" width="15.77" height="1.82" fill="#2200dd"/>
<rect x="247.85" y="66.28" width="15.77" height="1.82" fill="#2300dc"/>
<rect x="247.85" y="67.75" width="15.77" height="1.82" fill="#1600e9"/>
<rect x="247.85" y="69.23" width="15.77" height="1.82" fill="#1500ea"/>
<rect x="247.85" y="70.7" width="15.77" height="1.82" fill="#1f00e0"/>
<rect x="247.85" y="72.18" width="15.77" height="1.82" fill="#2100de"/>
<rect x="247.85" y="73.65" width="15.77" height="1.82" fill="#1c00e3"/>
<rect x="247.85" y="75.12" width="15.77" height="1.82" fill="#1800e7"/>
<rect x="247.85" y="76.6" width="15.77" height="1.82" fill="#2100de"/>
<rect x="247.85" y="78.07" width="15.77" height="1.82" fill="#1300ec"/>
<rect x="247.85" y="79.54" width="15.77" height="1.82" fill="#1a00e5"/>
<rect x="247.85" y="81.02" width="15.77" height="1.82" fill="#1e00e1"/>
<rect x="247.85" y="82.49" width="15.77" height="1.82" fill="#2900d6"/>
<rect x="247.85" y="83.96" width="15.77" height="1.82" fill="#2200dd"/>
<rect x="247.85" y="85.44" width="15.77" height="1.82" fill="#2700d8"/>
<rect x="247.85" y="86.91" width="15.77" height="1.82" fill="#1e00e1"/>
<rect x="247.85" y="88.39" width="15.77" height="1.82" fill="#1900e6"/>
<rect x="247.85" y="89.86" width="15.77" height="1.82" fill="#1900e6"/>
<rect x="247.85" y="91.33" width="15.77" height="1.85" fill="#71008e"/>
<rect x="247.85" y="92.83" width="15.77" height="1.85" fill="#6b0094"/>
<rect x="247.85" y="94.33" width="15.77" height="1.85" fill="#62009d"/>
<rect x="247.85" y="95.83" width="15.77" height="1.85" fill="#5b00a4"/>
<rect x="247.85" y="97.33" width="15.77" height="1.85" fill="#660099"/>
<rect x="247.85" y="98.83" width="15.77" height="1.85" fill="#6a0095"/>
<rect x="247.85" y="100.33" width="15.77" height="1.85" fill="#64009b"/>
<rect x="247.85" y="101.83" width="15.77" height="1.85" fill="#60009f"/>
<rect x="247.85" y="103.33" width="15.77" height="1.83" fill="#83007c"/>
<rect x="247.85" y="104.81" width="15.77" height="1.83" fill="#890076"/>
<rect x="247.85" y="106.3" width="15.77" height="1.83" fill="#790086"/>
<rect x="247.85" y="107.78" width="15.77" height="1.83" fill="#75008a"/>
<rect x="247.85" y="109.26" width="15.77" height="1.83" fill="#7c0083"/>
<rect x="247.85" y="110.74" width="15.77" height="1.83" fill="#7e0081"/>
<rect x="247.85" y="112.22" width="15.77" height="1.83" fill="#84007b"/>
<rect x="247.85" y="113.7" width="15.77" height="1.83" fill="#790086"/>
<rect x="247.85" y="115.19" width="15.77" height="1.83" fill="#860079"/>
<rect x="247.85" y="116.67" width="15.77" height="1.68" fill="#5200ad"/>
<rect x="247.85" y="118" width="15.77" height="1.68" fill="#4d00b2"/>
<rect x="247.85" y="119.33" width="15.77" height="1.68" fill="#4600b9"/>
<rect x="247.85" y="120.67" width="15.77" height="1.68" fill="#5700a8"/>
<rect x="247.85" y="122" width="15.77" height="1.68" fill="#ae0051"/>
<rect x="247.85" y="123.33" width="15.77" height="1.68" fill="#ba0045"/>
<rect x="247.85" y="124.67" width="15.77" height="1.83" fill="#60009f"/>
<rect x="247.85" y="126.15" width="15.77" height="1.83" fill="#60009f"/>
<rect x="247.85" y="127.63" width="15.77" height="1.83" fill="#6c0093"/>
<rect x="247.85" y="129.11" width="15.77" height="1.83" fill="#61009e"/>
<rect x="247.85" y="130.59" width="15.77" height="1.83" fill="#70008f"/>
<rect x="247.85" y="132.07" width="15.77" height="1.83" fill="#660099"/>
<rect x="247.85" y="133.56" width="15.77" height="1.83" fill="#5f00a0"/>
<rect x="247.85" y="135.04" width="15.77" height="1.83" fill="#60009f"/>
<rect x="247.85" y="136.52" width="15.77" height="1.83" fill="#64009b"/>
<rect x="263.12" y="51.5" width="15.77" height="1.79" fill="#5d00a2"/>
<rect x="263.12" y="52.94" width="15.77" height="1.79" fill="#64009b"/>
<rect x="263.12" y="54.38" width="15.77" height="1.79" fill="#5100ae"/>
<rect x="263.12" y="55.82" width="15.77" height="1.79" fill="#5700a8"/>
<rect x="263.12" y="57.26" width="15.77" height="1.79" fill="#5300ac"/>
<rect x="263.12" y="58.7" width="15.77" height="1.79" fill="#64009b"/>
<rect x="263.12" y="60.14" width="15.77" height="1.79" fill="#5100ae"/>
<rect x="263.12" y="61.58" width="15.77" height="1.79" fill="#4f00b0"/>
<rect x="263.12" y="63.02" width="15.77" height="1.79" fill="#4f00b0"/>
<rect x="263.12" y="64.45" width="15.77" height="1.79" fill="#5700a8"/>
<rect x="263.12" y="65.89" width="15.77" height="1.79" fill="#62009d"/>
<rect x="263.12" y="67.33" width="15.77" height="1.68" fill="#6f0090"/>
<rect x="263.12" y="68.67" width="15.77" height="1.68" fill="#6b0094"/>
<rect x="263.12" y="70" width="15.77" height="1.68" fill="#71008e"/>
<rect x="263.12" y="71.33" width="15.77" height="1.87" fill="#5600a9"/>
<rect x="263.12" y="72.86" width="15.77" height="1.87" fill="#4900b6"/>
<rect x="263.12" y="74.38" width="15.77" height="1.87" fill="#4500ba"/>
<rect x="263.12" y="75.9" width="15.77" height="1.87" fill="#5700a8"/>
<rect x="263.12" y="77.43" width="15.77" height="1.87" fill="#5200ad"/>
<rect x="263.12" y="78.95" width="15.77" height="1.87" fill="#4200bd"/>
<rect x="263.12" y="80.48" width="15.77" height="1.87" fill="#5000af"/>
<rect x="263.12" y="82" width="15.77" height="1.91" fill="#1c00e3"/>
<rect x="263.12" y="83.56" width="15.77" height="1.91" fill="#1c00e3"/>
<rect x="263.12" y="85.11" width="15.77" height="1.91" fill="#1b00e4"/>
<rect x="263.12" y="86.67" width="15.77" height="1.91" fill="#1700e8"/>
<rect x="263.12" y="88.22" width="15.77" height="1.91" fill="#1300ec"/>
<rect x="263.12" y="89.78" width="15.77" height="1.91" fill="#1a00e5"/>
<rect x="263.12" y="91.33" width="15.77" height="1.68" fill="#890076"/>
<rect x="263.12" y="92.67" width="15.77" height="1.68" fill="#970068"/>
<rect x="263.12" y="94" width="15.77" height="1.68" fill="#84007b"/>
<rect x="263.12" y="95.33" width="15.77" height="1.68" fill="#970068"/>
<rect x="263.12" y="96.67" width="15.77" height="1.68" fill="#860079"/>
<rect x="263.12" y="98" width="15.77" height="2.35" fill="#63009c"/>
<rect x="263.12" y="100" width="15.77" height="1.68" fill="#fa0005"/>
<rect x="263.12" y="101.33" width="15.77" height="1.74" fill="#870078"/>
<rect x="263.12" y="102.73" width="15.77" height="1.74" fill="#7e0081"/>
<rect x="263.12" y="104.12" width="15.77" height="1.74" fill="#75008a"/>
<rect x="263.12" y="105.52" width="15.77" height="1.74" fill="#7f0080"/>
<rect x="263.12" y="106.91" width="15.77" height="1.74" fill="#7d0082"/>
<rect x="263.12" y="108.3" width="15.77" height="1.74" fill="#890076"/>
<rect x="263.12" y="109.7" width="15.77" height="1.74" fill="#780087"/>
<rect x="263.12" y="111.09" width="15.77" height="1.74" fill="#7c0083"/>
<rect x="263.12" y="112.48" width="15.77" height="1.74" fill="#890076"/>
<rect x="263.12" y="113.88" width="15.77" height="1.74" fill="#75008a"/>
<rect x="263.12" y="115.27" width="15.77" height="1.74" fill="#7d0082"/>
<rect x="263.12" y="116.67" width="15.77" height="1.68" fill="#6d0092"/>
<rect x="263.12" y="118" width="15.77" height="1.68" fill="#6c0093"/>
<rect x="263.12" y="119.33" width="15.77" height="1.68" fill="#5b00a4"/>
<rect x="263.12" y="120.67" width="15.77" height="1.68" fill="#5b00a4"/>
<rect x="263.12" y="122" width="15.77" height="1.68" fill="#5c00a3"/>
<rect x="263.12" y="123.33" width="15.77" height="1.68" fill="#70008f"/>
<rect x="263.12" y="124.67" width="15.77" height="1.83" fill="#4700b8"/>
<rect x="263.12" y="126.15" width="15.77" height="1.83" fill="#5200ad"/>
<rect x="263.12" y="127.63" width="15.77" height="1.83" fill="#5600a9"/>
<rect x="263.12" y="129.11" width="15.77" height="1.83" fill="#4900b6"/>
<rect x="263.12" y="130.59" width="15.77" height="1.83" fill="#4700b8"/>
<rect x="263.12" y="132.07" width="15.77" height="1.83" fill="#5700a8"/>
<rect x="263.12" y="133.56" width="15.77" height="1.83" fill="#4f00b0"/>
<rect x="263.12" y="135.04" width="15.77" height="1.83" fill="#4700b8"/>
<rect x="263.12" y="136.52" width="15.77" height="1.83" fill="#5100ae"/>
<rect x="278.39" y="51.5" width="15.77" height="1.83" fill="#4800b7"/>
<rect x="278.39" y="52.98" width="15.77" height="1.83" fill="#4700b8"/>
<rect x="278.39" y="54.46" width="15.77" height="1.83" fill="#4100be"/>
<rect x="278.39" y="55.94" width="15.77" height="1.83" fill="#5200ad"/>
<rect x="278.39" y="57.42" width="15.77" height="1.83" fill="#5600a9"/>
<rect x="278.39" y="58.9" width="15.77" height="1.83" fill="#5000af"/>
<rect x="278.39" y="60.38" width="15.77" height="1.83" fill="#5700a8"/>
<rect x="278.39" y="61.85" width="15.77" height="1.83" fill="#4200bd"/>
<rect x="278.39" y="63.33" width="15.77" height="1.68" fill="#1300ec"/>
<rect x="278.39" y="64.67" width="15.77" height="1.68" fill="#1900e6"/>
<rect x="278.39" y="66" width="15.77" height="1.68" fill="#2400db"/>
<rect x="278.39" y="67.33" width="15.77" height="1.87" fill="#5700a8"/>
<rect x="278.39" y="68.86" width="15.77" height="1.87" fill="#4a00b5"/>
<rect x="278.39" y="70.38" width="15.77" height="1.87" fill="#4700b8"/>
<rect x="278.39" y="71.9" width="15.77" height="1.87" fill="#4b00b4"/>
<rect x="278.39" y="73.43" width="15.77" height="1.87" fill="#4c00b3"/>
<rect x="278.39" y="74.95" width="15.77" height="1.87" fill="#5600a9"/>
<rect x="278.39" y="76.48" width="15.77" height="1.87" fill="#4500ba"/>
<rect x="278.39" y="78" width="15.77" height="1.85" fill="#1b00e4"/>
<rect x="278.39" y="79.5" width="15.77" height="1.85" fill="#1a00e5"/>
<rect x="278.39" y="81" width="15.77" height="1.85" fill="#1c00e3"/>
<rect x="278.39" y="82.5" width="15.77" height="1.85" fill="#1b00e4"/>
<rect x="278.39" y="84" width="15.77" height="1.85" fill="#1700e8"/>
<rect x="278.39" y="85.5" width="15.77" height="1.85" fill="#1000ef"/>
<rect x="278.39" y="87" width="15.77" height="1.85" fill="#1000ef"/>
<rect x="278.39" y="88.5" width="15.77" height="1.85" fill="#1100ee"/>
<rect x="278.39" y="90" width="15.77" height="1.87" fill="#60009f"/>
<rect x="278.39" y="91.52" width="15.77" height="1.87" fill="#5000af"/>
<rect x="278.39" y="93.05" width="15.77" height="1.87" fill="#5200ad"/>
<rect x="278.39" y="94.57" width="15.77" height="1.87" fill="#5f00a0"/>
<rect x="278.39" y="96.1" width="15.77" height="1.87" fill="#5300ac"/>
<rect x="278.39" y="97.62" width="15.77" height="1.87" fill="#4f00b0"/>
<rect x="278.39" y="99.14" width="15.77" height="1.87" fill="#4f00b0"/>
<rect x="278.39" y="100.67" width="15.77" height="1.8" fill="#81007e"/>
<rect x="278.39" y="102.12" width="15.77" height="1.8" fill="#7c0083"/>
<rect x="278.39" y="103.58" width="15.77" height="1.8" fill="#8b0074"/>
<rect x="278.39" y="105.03" width="15.77" height="1.8" fill="#880077"/>
<rect x="278.39" y="106.48" width="15.77" height="1.8" fill="#8b0074"/>
<rect x="278.39" y="107.94" width="15.77" height="1.8" fill="#7a0085"/>
<rect x="278.39" y="109.39" width="15.77" height="1.8" fill="#760089"/>
<rect x="278.39" y="110.85" width="15.77" height="1.8" fill="#760089"/>
<rect x="278.39" y="112.3" width="15.77" height="1.8" fill="#7f0080"/>
<rect x="278.39" y="113.76" width="15.77" height="1.8" fill="#84007b"/>
<rect x="278.39" y="115.21" width="15.77" height="1.8" fill="#7e0081"/>
<rect x="278.39" y="116.67" width="15.77" height="1.68" fill="#4600b9"/>
<rect x="278.39" y="118" width="15.77" height="1.68" fill="#4b00b4"/>
<rect x="278.39" y="119.33" width="15.77" height="1.68" fill="#4f00b0"/>
<rect x="278.39" y="120.67" width="15.77" height="1.55" fill="#dd0022"/>
<rect x="278.39" y="121.87" width="15.77" height="1.55" fill="#de0021"/>
<rect x="278.39" y="123.07" width="15.77" height="1.84" fill="#5400ab"/>
<rect x="278.39" y="124.56" width="15.77" height="1.84" fill="#5000af"/>
<rect x="278.39" y="126.05" width="15.77" height="1.84" fill="#4400bb"/>
<rect x="278.39" y="127.55" width="15.77" height="1.84" fill="#5400ab"/>
<rect x="278.39" y="129.04" width="15.77" height="1.84" fill="#4800b7"/>
<rect x="278.39" y="130.53" width="15.77" height="1.84" fill="#4e00b1"/>
<rect x="278.39" y="132.03" width="15.77" height="1.84" fill="#4a00b5"/>
<rect x="278.39" y="133.52" width="15.77" height="1.84" fill="#5200ad"/>
<rect x="278.39" y="135.01" width="15.77" height="1.84" fill="#4600b9"/>
<rect x="278.39" y="136.51" width="15.77" height="1.84" fill="#4700b8"/>
<rect x="293.66" y="51.5" width="15.77" height="1.6" fill="#6d0092"/>
<rect x="293.66" y="52.75" width="15.77" height="1.6" fill="#6b0094"/>
<rect x="293.66" y="54" width="15.77" height="1.68" fill="#5500aa"/>
<rect x="293.66" y="55.33" width="15.77" height="1.68" fill="#4e00b1"/>
<rect x="293.66" y="56.67" width="15.77" height="1.68" fill="#4900b6"/>
<rect x="293.66" y="58" width="15.77" height="1.68" fill="#4a00b5"/>
<rect x="293.66" y="59.33" width="15.77" height="1.68" fill="#5800a7"/>
<rect x="293.66" y="60.67" width="15.77" height="1.95" fill="#e60019"/>
<rect x="293.66" y="62.27" width="15.77" height="1.78" fill="#4600b9"/>
<rect x="293.66" y="63.7" width="15.77" height="1.78" fill="#5400ab"/>
<rect x="293.66" y="65.13" width="15.77" height="1.78" fill="#5000af"/>
<rect x="293.66" y="66.56" width="15.77" height="1.78" fill="#5800a7"/>
<rect x="293.66" y="67.99" width="15.77" height="1.78" fill="#4300bc"/>
<rect x="293.66" y="69.42" width="15.77" height="1.78" fill="#4c00b3"/>
<rect x="293.66" y="70.85" width="15.77" height="1.78" fill="#5400ab"/>
<rect x="293.66" y="72.28" width="15.77" height="1.78" fill="#5400ab"/>
<rect x="293.66" y="73.71" width="15.77" height="1.78" fill="#5600a9"/>
<rect x="293.66" y="75.14" width="15.77" height="1.78" fill="#4200bd"/>
<rect x="293.66" y="76.57" width="15.77" height="1.78" fill="#4800b7"/>
<rect x="293.66" y="78" width="15.77" height="1.85" fill="#1600e9"/>
<rect x="293.66" y="79.5" width="15.77" height="1.85" fill="#1700e8"/>
<rect x="293.66" y="81" width="15.77" height="1.85" fill="#2900d6"/>
<rect x="293.66" y="82.5" width="15.77" height="1.85" fill="#2100de"/>
<rect x="293.66" y="84" width="15.77" height="1.85" fill="#2800d7"/>
<rect x="293.66" y="85.5" width="15.77" height="1.85" fill="#1c00e3"/>
<rect x="293.66" y="87" width="15.77" height="1.85" fill="#2700d8"/>
<rect x="293.66" y="88.5" width="15.77" height="1.85" fill="#1d00e2"/>
<rect x="293.66" y="90" width="15.77" height="1.87" fill="#60009f"/>
<rect x="293.66" y="91.52" width="15.77" height="1.87" fill="#6c0093"/>
<rect x="293.66" y="93.05" width="15.77" height="1.87" fill="#70008f"/>
<rect x="293.66" y="94.57" width="15.77" height="1.87" fill="#5d00a2"/>
<rect x="293.66" y="96.1" width="15.77" height="1.87" fill="#680097"/>
<rect x="293.66" y="97.62" width="15.77" height="1.87" fill="#690096"/>
<rect x="293.66" y="99.14" width="15.77" height="1.87" fill="#60009f"/>
<rect x="293.66" y="100.67" width="15.77" height="1.8" fill="#7c0083"/>
<rect x="293.66" y="102.12" width="15.77" height="1.8" fill="#770088"/>
<rect x="293.66" y="103.58" width="15.77" height="1.8" fill="#790086"/>
<rect x="293.66" y="105.03" width="15.77" height="1.8" fill="#7a0085"/>
<rect x="293.66" y="106.48" width="15.77" height="1.8" fill="#82007d"/>
<rect x="293.66" y="107.94" width="15.77" height="1.8" fill="#83007c"/>
<rect x="293.66" y="109.39" width="15.77" height="1.8" fill="#790086"/>
<rect x="293.66" y="110.85" width="15.77" height="1.8" fill="#74008b"/>
<rect x="293.66" y="112.3" width="15.77" height="1.8" fill="#7c0083"/>
<rect x="293.66" y="113.76" width="15.77" height="1.8" fill="#84007b"/>
<rect x="293.66" y="115.21" width="15.77" height="1.8" fill="#780087"/>
<rect x="293.66" y="116.67" width="15.77" height="1.83" fill="#4800b7"/>
<rect x="293.66" y="118.15" width="15.77" height="1.83" fill="#4600b9"/>
<rect x="293.66" y="119.63" width="15.77" height="1.83" fill="#5300ac"/>
<rect x="293.66" y="121.11" width="15.77" height="1.83" fill="#4e00b1"/>
<rect x="293.66" y="122.59" width="15.77" height="1.83" fill="#4200bd"/>
<rect x="293.66" y="124.07" width="15.77" height="1.83" fill="#4300bc"/>
<rect x="293.66" y="125.56" width="15.77" height="1.83" fill="#4a00b5"/>
<rect x="293.66" y="127.04" width="15.77" height="1.83" fill="#4e00b1"/>
<rect x="293.66" y="128.52" width="15.77" height="1.83" fill="#5000af"/>
<rect x="293.66" y="130" width="15.77" height="1.68" fill="#5d00a2"/>
<rect x="293.66" y="131.33" width="15.77" height="1.68" fill="#5e00a1"/>
<rect x="293.66" y="132.67" width="15.77" height="1.68" fill="#6a0095"/>
<rect x="293.66" y="134" width="15.77" height="1.68" fill="#64009b"/>
<rect x="293.66" y="135.33" width="15.77" height="1.68" fill="#61009e"/>
<rect x="293.66" y="136.67" width="15.77" height="1.68" fill="#62009d"/>
<rect x="308.94" y="51.5" width="15.77" height="1.63" fill="#3d00c2"/>
<rect x="308.94" y="52.78" width="15.77" height="1.63" fill="#2f00d0"/>
<rect x="308.94" y="54.06" width="15.77" height="1.63" fill="#3500ca"/>
<rect x="308.94" y="55.33" width="15.77" height="1.68" fill="#4900b6"/>
<rect x="308.94" y="56.67" width="15.77" height="1.68" fill="#4b00b4"/>
<rect x="308.94" y="58" width="15.77" height="1.68" fill="#a1005e"/>
<rect x="308.94" y="59.33" width="15.77" height="1.68" fill="#a4005b"/>
<rect x="308.94" y="60.67" width="15.77" height="1.68" fill="#4900b6"/>
<rect x="308.94" y="62" width="15.77" height="1.68" fill="#4600b9"/>
<rect x="308.94" y="63.33" width="15.77" height="1.68" fill="#85007a"/>
<rect x="308.94" y="64.67" width="15.77" height="1.68" fill="#790086"/>
<rect x="308.94" y="66" width="15.77" height="1.68" fill="#74008b"/>
<rect x="308.94" y="67.33" width="15.77" height="1.68" fill="#890076"/>
<rect x="308.94" y="68.67" width="15.77" height="1.68" fill="#7e0081"/>
<rect x="308.94" y="70" width="15.77" height="1.68" fill="#6d0092"/>
<rect x="308.94" y="71.33" width="15.77" height="1.68" fill="#f0000f"/>
<rect x="308.94" y="72.67" width="15.77" height="1.68" fill="#fb0004"/>
<rect x="308.94" y="74" width="15.77" height="1.68" fill="#8b0074"/>
<rect x="308.94" y="75.33" width="15.77" height="1.68" fill="#85007a"/>
<rect x="308.94" y="76.67" width="15.77" height="1.68" fill="#81007e"/>
<rect x="308.94" y="78" width="15.77" height="1.68" fill="#8d0072"/>
<rect x="308.94" y="79.33" width="15.77" height="1.68" fill="#8f0070"/>
<rect x="308.94" y="80.67" width="15.77" height="1.85" fill="#63009c"/>
<rect x="308.94" y="82.17" width="15.77" height="1.85" fill="#5000af"/>
<rect x="308.94" y="83.67" width="15.77" height="1.85" fill="#5c00a3"/>
<rect x="308.94" y="85.17" width="15.77" height="1.85" fill="#5600a9"/>
<rect x="308.94" y="86.67" width="15.77" height="1.85" fill="#5900a6"/>
<rect x="308.94" y="88.17" width="15.77" height="1.85" fill="#5100ae"/>
<rect x="308.94" y="89.67" width="15.77" height="1.85" fill="#5400ab"/>
<rect x="308.94" y="91.17" width="15.77" height="1.85" fill="#5a00a5"/>
<rect x="308.94" y="92.67" width="15.77" height="2.35" fill="#bc0043"/>
<rect x="308.94" y="94.67" width="15.77" height="2.35" fill="#5d00a2"/>
<rect x="308.94" y="96.67" width="15.77" height="1.95" fill="#b2004d"/>
<rect x="308.94" y="98.27" width="15.77" height="1.86" fill="#3a00c5"/>
<rect x="308.94" y="99.78" width="15.77" height="1.86" fill="#3e00c1"/>
<rect x="308.94" y="101.29" width="15.77" height="1.86" fill="#2c00d3"/>
<rect x="308.94" y="102.8" width="15.77" height="1.86" fill="#2a00d5"/>
<rect x="308.94" y="104.31" width="15.77" height="1.86" fill="#3d00c2"/>
<rect x="308.94" y="105.82" width="15.77" height="1.86" fill="#3e00c1"/>
<rect x="308.94" y="107.33" width="15.77" height="2.35" fill="#0c00f3"/>
<rect x="308.94" y="109.33" width="15.77" height="1.76" fill="#4200bd"/>
<rect x="308.94" y="110.74" width="15.77" height="1.76" fill="#5600a9"/>
<rect x="308.94" y="112.15" width="15.77" height="1.76" fill="#4a00b5"/>
<rect x="308.94" y="113.56" width="15.77" height="1.76" fill="#5600a9"/>
<rect x="308.94" y="114.96" width="15.77" height="1.76" fill="#4f00b0"/>
<rect x="308.94" y="116.37" width="15.77" height="1.76" fill="#5400ab"/>
<rect x="308.94" y="117.78" width="15.77" height="1.76" fill="#4500ba"/>
<rect x="308.94" y="119.19" width="15.77" height="1.76" fill="#5300ac"/>
<rect x="308.94" y="120.59" width="15.77" height="1.76" fill="#4600b9"/>
<rect x="308.94" y="122" width="15.77" height="2.35" fill="#a4005b"/>
<rect x="308.94" y="124" width="15.77" height="1.85" fill="#5400ab"/>
<rect x="308.94" y="125.5" width="15.77" height="1.85" fill="#5400ab"/>
<rect x="308.94" y="127" width="15.77" height="1.85" fill="#4500ba"/>
<rect x="308.94" y="128.5" width="15.77" height="1.85" fill="#4600b9"/>
<rect x="308.94" y="130" width="15.77" height="1.68" fill="#70008f"/>
<rect x="308.94" y="131.33" width="15.77" height="1.68" fill="#73008c"/>
<rect x="308.94" y="132.67" width="15.77" height="1.68" fill="#70008f"/>
<rect x="308.94" y="134" width="15.77" height="1.68" fill="#6a0095"/>
<rect x="308.94" y="135.33" width="15.77" height="1.68" fill="#6d0092"/>
<rect x="308.94" y="136.67" width="15.77" height="1.68" fill="#780087"/>
<rect x="324.21" y="51.5" width="15.77" height="1.83" fill="#6f0090"/>
<rect x="324.21" y="52.98" width="15.77" height="1.83" fill="#5b00a4"/>
<rect x="324.21" y="54.46" width="15.77" height="1.83" fill="#670098"/>
<rect x="324.21" y="55.94" width="15.77" height="1.83" fill="#6c0093"/>
<rect x="324.21" y="57.42" width="15.77" height="1.83" fill="#5b00a4"/>
<rect x="324.21" y="58.9" width="15.77" height="1.83" fill="#6e0091"/>
<rect x="324.21" y="60.38" width="15.77" height="1.83" fill="#5d00a2"/>
<rect x="324.21" y="61.85" width="15.77" height="1.83" fill="#680097"/>
<rect x="324.21" y="63.33" width="15.77" height="1.78" fill="#81007e"/>
<rect x="324.21" y="64.76" width="15.77" height="1.78" fill="#82007d"/>
<rect x="324.21" y="66.19" width="15.77" height="1.78" fill="#7b0084"/>
<rect x="324.21" y="67.62" width="15.77" height="1.78" fill="#7e0081"/>
<rect x="324.21" y="69.05" width="15.77" height="1.78" fill="#81007e"/>
<rect x="324.21" y="70.48" width="15.77" height="1.78" fill="#7e0081"/>
<rect x="324.21" y="71.9" width="15.77" height="1.78" fill="#83007c"/>
<rect x="324.21" y="73.33" width="15.77" height="2.02" fill="#e4001b"/>
<rect x="324.21" y="75" width="15.77" height="2.02" fill="#e4001b"/>
<rect x="324.21" y="76.67" width="15.77" height="1.68" fill="#75008a"/>
<rect x="324.21" y="78" width="15.77" height="1.68" fill="#82007d"/>
<rect x="324.21" y="79.33" width="15.77" height="1.68" fill="#7f0080"/>
<rect x="324.21" y="80.67" width="15.77" height="1.68" fill="#790086"/>
<rect x="324.21" y="82" width="15.77" height="1.68" fill="#860079"/>
<rect x="324.21" y="83.33" width="15.77" height="1.91" fill="#93006c"/>
<rect x="324.21" y="84.89" width="15.77" height="1.91" fill="#8b0074"/>
<rect x="324.21" y="86.44" width="15.77" height="1.91" fill="#85007a"/>
<rect x="324.21" y="88" width="15.77" height="1.91" fill="#8c0073"/>
<rect x="324.21" y="89.56" width="15.77" height="1.91" fill="#83007c"/>
<rect x="324.21" y="91.11" width="15.77" height="1.91" fill="#84007b"/>
<rect x="324.21" y="92.67" width="15.77" height="1.68" fill="#a4005b"/>
<rect x="324.21" y="94" width="15.77" height="1.68" fill="#9c0063"/>
<rect x="324.21" y="95.33" width="15.77" height="1.68" fill="#65009a"/>
<rect x="324.21" y="96.67" width="15.77" height="1.68" fill="#660099"/>
<rect x="324.21" y="98" width="15.77" height="1.68" fill="#5b00a4"/>
<rect x="324.21" y="99.33" width="15.77" height="1.68" fill="#690096"/>
<rect x="324.21" y="100.67" width="15.77" height="1.68" fill="#5c00a3"/>
<rect x="324.21" y="102" width="15.77" height="1.68" fill="#6b0094"/>
<rect x="324.21" y="103.33" width="15.77" height="1.68" fill="#1300ec"/>
<rect x="324.21" y="104.67" width="15.77" height="1.68" fill="#0d00f2"/>
<rect x="324.21" y="106" width="15.77" height="1.68" fill="#0300fc"/>
<rect x="324.21" y="107.33" width="15.77" height="1.68" fill="#0d00f2"/>
<rect x="324.21" y="108.67" width="15.77" height="1.8" fill="#4a00b5"/>
<rect x="324.21" y="110.12" width="15.77" height="1.8" fill="#5700a8"/>
<rect x="324.21" y="111.58" width="15.77" height="1.8" fill="#4400bb"/>
<rect x="324.21" y="113.03" width="15.77" height="1.8" fill="#5500aa"/>
<rect x="324.21" y="114.48" width="15.77" height="1.8" fill="#5800a7"/>
<rect x="324.21" y="115.94" width="15.77" height="1.8" fill="#5200ad"/>
<rect x="324.21" y="117.39" width="15.77" height="1.8" fill="#5400ab"/>
<rect x="324.21" y="118.85" width="15.77" height="1.8" fill="#4500ba"/>
<rect x="324.21" y="120.3" width="15.77" height="1.8" fill="#5800a7"/>
<rect x="324.21" y="121.76" width="15.77" height="1.8" fill="#4c00b3"/>
<rect x="324.21" y="123.21" width="15.77" height="1.8" fill="#5700a8"/>
<rect x="324.21" y="124.67" width="15.77" height="1.68" fill="#af0050"/>
<rect x="324.21" y="126" width="15.77" height="1.68" fill="#9e0061"/>
<rect x="324.21" y="127.33" width="15.77" height="1.68" fill="#3a00c5"/>
<rect x="324.21" y="128.67" width="15.77" height="1.68" fill="#3d00c2"/>
<rect x="324.21" y="130" width="15.77" height="1.68" fill="#2900d6"/>
<rect x="324.21" y="131.33" width="15.77" height="1.68" fill="#3000cf"/>
<rect x="324.21" y="132.67" width="15.77" height="1.68" fill="#1f00e0"/>
<rect x="324.21" y="134" width="15.77" height="1.68" fill="#1200ed"/>
<rect x="324.21" y="135.33" width="15.77" height="1.68" fill="#2300dc"/>
<rect x="324.21" y="136.67" width="15.77" height="1.68" fill="#1400eb"/>
<rect x="339.48" y="51.5" width="15.77" height="1.6" fill="#5400ab"/>
<rect x="339.48" y="52.75" width="15.77" height="1.6" fill="#4400bb"/>
<rect x="339.48" y="54" width="15.77" height="1.68" fill="#1a00e5"/>
<rect x="339.48" y="55.33" width="15.77" height="1.68" fill="#2300dc"/>
<rect x="339.48" y="56.67" width="15.77" height="1.68" fill="#1300ec"/>
<rect x="339.48" y="58" width="15.77" height="1.68" fill="#5400ab"/>
<rect x="339.48" y="59.33" width="15.77" height="1.68" fill="#5900a6"/>
<rect x="339.48" y="60.67" width="15.77" height="1.68" fill="#5500aa"/>
<rect x="339.48" y="62" width="15.77" height="1.68" fill="#9b0064"/>
<rect x="339.48" y="63.33" width="15.77" height="1.68" fill="#9e0061"/>
<rect x="339.48" y="64.67" width="15.77" height="1.68" fill="#9e0061"/>
<rect x="339.48" y="66" width="15.77" height="1.68" fill="#b0004f"/>
<rect x="339.48" y="67.33" width="15.77" height="1.68" fill="#aa0055"/>
<rect x="339.48" y="68.67" width="15.77" height="1.68" fill="#6f0090"/>
<rect x="339.48" y="70" width="15.77" height="1.68" fill="#5e00a1"/>
<rect x="339.48" y="71.33" width="15.77" height="1.68" fill="#6d0092"/>
<rect x="339.48" y="72.67" width="15.77" height="1.68" fill="#5d00a2"/>
<rect x="339.48" y="74" width="15.77" height="1.85" fill="#4d00b2"/>
<rect x="339.48" y="75.5" width="15.77" height="1.85" fill="#5000af"/>
<rect x="339.48" y="77" width="15.77" height="1.85" fill="#4900b6"/>
<rect x="339.48" y="78.5" width="15.77" height="1.85" fill="#5500aa"/>
<rect x="339.48" y="80" width="15.77" height="1.85" fill="#4e00b1"/>
<rect x="339.48" y="81.5" width="15.77" height="1.85" fill="#4e00b1"/>
<rect x="339.48" y="83" width="15.77" height="1.85" fill="#5500aa"/>
<rect x="339.48" y="84.5" width="15.77" height="1.85" fill="#4300bc"/>
<rect x="339.48" y="86" width="15.77" height="2.02" fill="#b1004e"/>
<rect x="339.48" y="87.67" width="15.77" height="2.02" fill="#a90056"/>
<rect x="339.48" y="89.33" width="15.77" height="2.35" fill="#64009b"/>
<rect x="339.48" y="91.33" width="15.77" height="1.68" fill="#1400eb"/>
<rect x="339.48" y="92.67" width="15.77" height="1.68" fill="#0700f8"/>
<rect x="339.48" y="94" width="15.77" height="1.68" fill="#1800e7"/>
<rect x="339.48" y="95.33" width="15.77" height="1.68" fill="#0f00f0"/>
<rect x="339.48" y="96.67" width="15.77" height="1.68" fill="#0a00f5"/>
<rect x="339.48" y="98" width="15.77" height="1.68" fill="#4600b9"/>
<rect x="339.48" y="99.33" width="15.77" height="1.68" fill="#3e00c1"/>
<rect x="339.48" y="100.67" width="15.77" height="1.68" fill="#3800c7"/>
<rect x="339.48" y="102" width="15.77" height="1.68" fill="#4500ba"/>
<rect x="339.48" y="103.33" width="15.77" height="1.68" fill="#3500ca"/>
<rect x="339.48" y="104.67" width="15.77" height="1.68" fill="#4700b8"/>
<rect x="339.48" y="106" width="15.77" height="1.68" fill="#870078"/>
<rect x="339.48" y="107.33" width="15.77" height="1.68" fill="#8f0070"/>
<rect x="339.48" y="108.67" width="15.77" height="1.68" fill="#970068"/>
<rect x="339.48" y="110" width="15.77" height="1.68" fill="#1b00e4"/>
<rect x="339.48" y="111.33" width="15.77" height="1.68" fill="#1d00e2"/>
<rect x="339.48" y="112.67" width="15.77" height="1.87" fill="#5500aa"/>
<rect x="339.48" y="114.19" width="15.77" height="1.87" fill="#4e00b1"/>
<rect x="339.48" y="115.71" width="15.77" height="1.87" fill="#4f00b0"/>
<rect x="339.48" y="117.24" width="15.77" height="1.87" fill="#5100ae"/>
<rect x="339.48" y="118.76" width="15.77" height="1.87" fill="#5c00a3"/>
<rect x="339.48" y="120.29" width="15.77" height="1.87" fill="#5800a7"/>
<rect x="339.48" y="121.81" width="15.77" height="1.87" fill="#5a00a5"/>
<rect x="339.48" y="123.33" width="15.77" height="1.68" fill="#af0050"/>
<rect x="339.48" y="124.67" width="15.77" height="1.68" fill="#9d0062"/>
<rect x="339.48" y="126" width="15.77" height="1.68" fill="#f90006"/>
<rect x="339.48" y="127.33" width="15.77" height="1.68" fill="#ff0000"/>
<rect x="339.48" y="128.67" width="15.77" height="1.68" fill="#f4000b"/>
<rect x="339.48" y="130" width="15.77" height="1.68" fill="#f4000b"/>
<rect x="339.48" y="131.33" width="15.77" height="1.68" fill="#63009c"/>
<rect x="339.48" y="132.67" width="15.77" height="1.68" fill="#5d00a2"/>
<rect x="339.48" y="134" width="15.77" height="1.68" fill="#63009c"/>
<rect x="339.48" y="135.33" width="15.77" height="1.68" fill="#60009f"/>
<rect x="339.48" y="136.67" width="15.77" height="1.68" fill="#680097"/>
<rect x="354.75" y="51.5" width="15.77" height="1.6" fill="#680097"/>
<rect x="354.75" y="52.75" width="15.77" height="1.6" fill="#5f00a0"/>
<rect x="354.75" y="54" width="15.77" height="1.82" fill="#e80017"/>
<rect x="354.75" y="55.47" width="15.77" height="1.82" fill="#e5001a"/>
<rect x="354.75" y="56.93" width="15.77" height="1.82" fill="#5e00a1"/>
<rect x="354.75" y="58.4" width="15.77" height="1.82" fill="#70008f"/>
<rect x="354.75" y="59.87" width="15.77" height="1.82" fill="#60009f"/>
<rect x="354.75" y="61.33" width="15.77" height="1.82" fill="#5e00a1"/>
<rect x="354.75" y="62.8" width="15.77" height="1.82" fill="#5d00a2"/>
<rect x="354.75" y="64.27" width="15.77" height="1.82" fill="#690096"/>
<rect x="354.75" y="65.73" width="15.77" height="1.82" fill="#6f0090"/>
<rect x="354.75" y="67.2" width="15.77" height="1.82" fill="#6c0093"/>
<rect x="354.75" y="68.67" width="15.77" height="2.35" fill="#b0004f"/>
<rect x="354.75" y="70.67" width="15.77" height="1.82" fill="#4700b8"/>
<rect x="354.75" y="72.13" width="15.77" height="1.82" fill="#4100be"/>
<rect x="354.75" y="73.6" width="15.77" height="1.82" fill="#5000af"/>
<rect x="354.75" y="75.07" width="15.77" height="1.82" fill="#4e00b1"/>
<rect x="354.75" y="76.53" width="15.77" height="1.82" fill="#4900b6"/>
<rect x="354.75" y="78" width="15.77" height="1.85" fill="#83007c"/>
<rect x="354.75" y="79.5" width="15.77" height="1.85" fill="#7e0081"/>
<rect x="354.75" y="81" width="15.77" height="1.85" fill="#8a0075"/>
<rect x="354.75" y="82.5" width="15.77" height="1.85" fill="#85007a"/>
<rect x="354.75" y="84" width="15.77" height="1.85" fill="#7a0085"/>
<rect x="354.75" y="85.5" width="15.77" height="1.85" fill="#890076"/>
<rect x="354.75" y="87" width="15.77" height="1.85" fill="#75008a"/>
<rect x="354.75" y="88.5" width="15.77" height="1.85" fill="#80007f"/>
<rect x="354.75" y="90" width="15.77" height="1.68" fill="#5700a8"/>
<rect x="354.75" y="91.33" width="15.77" height="1.68" fill="#5300ac"/>
<rect x="354.75" y="92.67" width="15.77" height="1.68" fill="#4f00b0"/>
<rect x="354.75" y="94" width="15.77" height="1.68" fill="#4600b9"/>
<rect x="354.75" y="95.33" width="15.77" height="1.68" fill="#3500ca"/>
<rect x="354.75" y="96.67" width="15.77" height="1.68" fill="#4100be"/>
<rect x="354.75" y="98" width="15.77" height="1.68" fill="#960069"/>
<rect x="354.75" y="99.33" width="15.77" height="1.79" fill="#4400bb"/>
<rect x="354.75" y="100.78" width="15.77" height="1.79" fill="#4600b9"/>
<rect x="354.75" y="102.22" width="15.77" height="1.79" fill="#4f00b0"/>
<rect x="354.75" y="103.67" width="15.77" height="1.79" fill="#4d00b2"/>
<rect x="354.75" y="105.11" width="15.77" height="1.79" fill="#5000af"/>
<rect x="354.75" y="106.56" width="15.77" height="1.79" fill="#5400ab"/>
<rect x="354.75" y="108" width="15.77" height="1.79" fill="#4500ba"/>
<rect x="354.75" y="109.44" width="15.77" height="1.79" fill="#4800b7"/>
<rect x="354.75" y="110.89" width="15.77" height="1.79" fill="#4800b7"/>
<rect x="354.75" y="112.33" width="15.77" height="1.79" fill="#4200bd"/>
<rect x="354.75" y="113.78" width="15.77" height="1.79" fill="#5500aa"/>
<rect x="354.75" y="115.22" width="15.77" height="1.79" fill="#5300ac"/>
<rect x="354.75" y="116.67" width="15.77" height="1.68" fill="#1e00e1"/>
<rect x="354.75" y="118" width="15.77" height="1.68" fill="#0e00f1"/>
<rect x="354.75" y="119.33" width="15.77" height="1.68" fill="#2100de"/>
<rect x="354.75" y="120.67" width="15.77" height="1.91" fill="#5f00a0"/>
<rect x="354.75" y="122.22" width="15.77" height="1.91" fill="#5800a7"/>
<rect x="354.75" y="123.78" width="15.77" height="1.91" fill="#5f00a0"/>
<rect x="354.75" y="125.33" width="15.77" height="1.91" fill="#5800a7"/>
<rect x="354.75" y="126.89" width="15.77" height="1.91" fill="#5300ac"/>
<rect x="354.75" y="128.44" width="15.77" height="1.91" fill="#5000af"/>
<rect x="354.75" y="130" width="15.77" height="1.91" fill="#0700f8"/>
<rect x="354.75" y="131.56" width="15.77" height="1.91" fill="#0200fd"/>
<rect x="354.75" y="133.11" width="15.77" height="1.91" fill="#0900f6"/>
<rect x="354.75" y="134.67" width="15.77" height="2.02" fill="#5f00a0"/>
<rect x="354.75" y="136.33" width="15.77" height="2.02" fill="#5e00a1"/>
<rect x="370.03" y="51.5" width="15.27" height="1.83" fill="#5400ab"/>
<rect x="370.03" y="52.98" width="15.27" height="1.83" fill="#5100ae"/>
<rect x="370.03" y="54.46" width="15.27" height="1.83" fill="#4700b8"/>
<rect x="370.03" y="55.94" width="15.27" height="1.83" fill="#4e00b1"/>
<rect x="370.03" y="57.42" width="15.27" height="1.83" fill="#4b00b4"/>
<rect x="370.03" y="58.9" width="15.27" height="1.83" fill="#5300ac"/>
<rect x="370.03" y="60.38" width="15.27" height="1.83" fill="#4d00b2"/>
<rect x="370.03" y="61.85" width="15.27" height="1.83" fill="#4700b8"/>
<rect x="370.03" y="63.33" width="15.27" height="1.68" fill="#90006f"/>
<rect x="370.03" y="64.67" width="15.27" height="1.68" fill="#970068"/>
<rect x="370.03" y="66" width="15.27" height="1.68" fill="#860079"/>
<rect x="370.03" y="67.33" width="15.27" height="1.68" fill="#95006a"/>
<rect x="370.03" y="68.67" width="15.27" height="1.87" fill="#4100be"/>
<rect x="370.03" y="70.19" width="15.27" height="1.87" fill="#4700b8"/>
<rect x="370.03" y="71.71" width="15.27" height="1.87" fill="#4600b9"/>
<rect x="370.03" y="73.24" width="15.27" height="1.87" fill="#5200ad"/>
<rect x="370.03" y="74.76" width="15.27" height="1.87" fill="#5700a8"/>
<rect x="370.03" y="76.29" width="15.27" height="1.87" fill="#5200ad"/>
<rect x="370.03" y="77.81" width="15.27" height="1.87" fill="#4900b6"/>
<rect x="370.03" y="79.33" width="15.27" height="1.87" fill="#d5002a"/>
<rect x="370.03" y="80.86" width="15.27" height="1.87" fill="#c80037"/>
<rect x="370.03" y="82.38" width="15.27" height="1.87" fill="#c60039"/>
<rect x="370.03" y="83.9" width="15.27" height="1.87" fill="#d5002a"/>
<rect x="370.03" y="85.43" width="15.27" height="1.87" fill="#cf0030"/>
<rect x="370.03" y="86.95" width="15.27" height="1.87" fill="#d0002f"/>
<rect x="370.03" y="88.48" width="15.27" height="1.87" fill="#d0002f"/>
<rect x="370.03" y="90" width="15.27" height="1.68" fill="#71008e"/>
<rect x="370.03" y="91.33" width="15.27" height="1.68" fill="#65009a"/>
<rect x="370.03" y="92.67" width="15.27" height="1.68" fill="#2100de"/>
<rect x="370.03" y="94" width="15.27" height="1.68" fill="#1e00e1"/>
<rect x="370.03" y="95.33" width="15.27" height="1.68" fill="#2200dd"/>
<rect x="370.03" y="96.67" width="15.27" height="1.68" fill="#1800e7"/>
<rect x="370.03" y="98" width="15.27" height="1.68" fill="#1f00e0"/>
<rect x="370.03" y="99.33" width="15.27" height="1.91" fill="#4100be"/>
<rect x="370.03" y="100.89" width="15.27" height="1.91" fill="#3b00c4"/>
<rect x="370.03" y="102.44" width="15.27" height="1.91" fill="#3900c6"/>
<rect x="370.03" y="104" width="15.27" height="1.91" fill="#4300bc"/>
<rect x="370.03" y="105.56" width="15.27" height="1.91" fill="#3600c9"/>
<rect x="370.03" y="107.11" width="15.27" height="1.91" fill="#4900b6"/>
<rect x="370.03" y="108.67" width="15.27" height="1.68" fill="#1100ee"/>
<rect x="370.03" y="110" width="15.27" height="1.68" fill="#0f00f0"/>
<rect x="370.03" y="111.33" width="15.27" height="1.68" fill="#1000ef"/>
<rect x="370.03" y="112.67" width="15.27" height="1.68" fill="#2300dc"/>
<rect x="370.03" y="114" width="15.27" height="1.68" fill="#1600e9"/>
<rect x="370.03" y="115.33" width="15.27" height="1.87" fill="#4400bb"/>
<rect x="370.03" y="116.86" width="15.27" height="1.87" fill="#4200bd"/>
<rect x="370.03" y="118.38" width="15.27" height="1.87" fill="#4200bd"/>
<rect x="370.03" y="119.9" width="15.27" height="1.87" fill="#5100ae"/>
<rect x="370.03" y="121.43" width="15.27" height="1.87" fill="#5000af"/>
<rect x="370.03" y="122.95" width="15.27" height="1.87" fill="#5100ae"/>
<rect x="370.03" y="124.48" width="15.27" height="1.87" fill="#5200ad"/>
<rect x="370.03" y="126" width="15.27" height="2.02" fill="#a90056"/>
<rect x="370.03" y="127.67" width="15.27" height="2.02" fill="#b5004a"/>
<rect x="370.03" y="129.33" width="15.27" height="1.79" fill="#3d00c2"/>
<rect x="370.03" y="130.78" width="15.27" height="1.79" fill="#4700b8"/>
<rect x="370.03" y="132.22" width="15.27" height="1.79" fill="#4700b8"/>
<rect x="370.03" y="133.67" width="15.27" height="1.79" fill="#4900b6"/>
<rect x="370.03" y="135.11" width="15.27" height="1.79" fill="#3600c9"/>
<rect x="370.03" y="136.56" width="15.27" height="1.79" fill="#4800b7"/>
<rect x="32.45" y="38.6" width="49.1" height="12" fill="#fff" stroke="#111" stroke-width="0.9"/>
<rect x="82.45" y="38.6" width="33.1" height="12" fill="#fff" stroke="#111" stroke-width="0.9"/>
<rect x="116.45" y="38.6" width="33.1" height="12" fill="#fff" stroke="#111" stroke-width="0.9"/>
<rect x="150.45" y="38.6" width="34.6" height="12" fill="#fff" stroke="#111" stroke-width="0.9"/>
<rect x="218.45" y="38.6" width="44.1" height="11.7" fill="#fff" stroke="#111" stroke-width="0.9"/>
<rect x="263.45" y="38.6" width="44.5" height="11.7" fill="#fff" stroke="#111" stroke-width="0.9"/>
<rect x="308.85" y="38.6" width="30.7" height="11.7" fill="#fff" stroke="#111" stroke-width="0.9"/>
<rect x="340.45" y="38.6" width="45.4" height="11.7" fill="#fff" stroke="#111" stroke-width="0.9"/>
<text x="57" y="47.01" font-size="6.8" text-anchor="middle">WT</text>
<text x="99" y="47.01" font-size="6.8" text-anchor="middle"><tspan font-style="italic">p53</tspan><tspan font-size="4.08" baseline-shift="super">-/-</tspan></text>
<text x="133" y="47.01" font-size="6.8" text-anchor="middle" textLength="31" lengthAdjust="spacingAndGlyphs"><tspan font-style="italic">p53</tspan><tspan font-size="4.08" baseline-shift="super">-/-</tspan>V-Fus</text>
<text x="167.7" y="47.01" font-size="6.8" text-anchor="middle" textLength="31" lengthAdjust="spacingAndGlyphs"><tspan font-style="italic">p53</tspan><tspan font-size="4.08" baseline-shift="super">-/-</tspan>V-Del</text>
<text x="240.5" y="46.81" font-size="6.8" text-anchor="middle" textLength="25.5" lengthAdjust="spacingAndGlyphs">WT CD4</text>
<text x="285.7" y="46.81" font-size="6.8" text-anchor="middle" textLength="25.5" lengthAdjust="spacingAndGlyphs">WT CD8</text>
<text x="324.2" y="46.81" font-size="6.8" text-anchor="middle" textLength="30" lengthAdjust="spacingAndGlyphs"><tspan font-style="italic">p53</tspan><tspan font-size="4.08" baseline-shift="super">-/-</tspan>V-Fus</text>
<text x="363.2" y="46.81" font-size="6.8" text-anchor="middle" textLength="31" lengthAdjust="spacingAndGlyphs"><tspan font-style="italic">p53</tspan><tspan font-size="4.08" baseline-shift="super">-/-</tspan>V-Del</text>
<text x="7.6" y="16.49" font-size="11.8" font-weight="bold">A</text>
<text x="16.3" y="25.01" font-size="9.6" font-weight="bold">i</text>
<text x="27" y="24.85" font-size="6.9" fill="#222" textLength="15.8" lengthAdjust="spacingAndGlyphs">T-LBL</text>
<text x="197.8" y="24.71" font-size="9.6" font-weight="bold">ii</text>
<text x="210.5" y="25.85" font-size="6.9" fill="#222" textLength="11.2" lengthAdjust="spacingAndGlyphs">Lym</text>
<line x1="52.3" y1="23.6" x2="120.4" y2="23.6" stroke="#222" stroke-width="0.8"/>
<line x1="52.3" y1="23.6" x2="52.3" y2="29.5" stroke="#222" stroke-width="0.8"/>
<line x1="120.4" y1="23.6" x2="120.4" y2="25.8" stroke="#222" stroke-width="0.8"/>
<line x1="100" y1="25.8" x2="140.7" y2="25.8" stroke="#222" stroke-width="0.8"/>
<line x1="100" y1="25.8" x2="100" y2="31.8" stroke="#222" stroke-width="0.8"/>
<line x1="91.5" y1="31.8" x2="108.5" y2="31.8" stroke="#222" stroke-width="0.8"/>
<line x1="91.5" y1="31.8" x2="91.5" y2="38.5" stroke="#222" stroke-width="0.8"/>
<line x1="108.5" y1="31.8" x2="108.5" y2="38.5" stroke="#222" stroke-width="0.8"/>
<line x1="140.7" y1="25.8" x2="140.7" y2="27.5" stroke="#222" stroke-width="0.8"/>
<line x1="125.6" y1="27.5" x2="155.4" y2="27.5" stroke="#222" stroke-width="0.8"/>
<line x1="125.6" y1="27.5" x2="125.6" y2="38.5" stroke="#222" stroke-width="0.8"/>
<line x1="155.4" y1="27.5" x2="155.4" y2="29.8" stroke="#222" stroke-width="0.8"/>
<line x1="144" y1="29.8" x2="169.2" y2="29.8" stroke="#222" stroke-width="0.8"/>
<line x1="144" y1="29.8" x2="144" y2="38.5" stroke="#222" stroke-width="0.8"/>
<line x1="169.2" y1="29.8" x2="169.2" y2="31.5" stroke="#222" stroke-width="0.8"/>
<line x1="161" y1="31.5" x2="177" y2="31.5" stroke="#222" stroke-width="0.8"/>
<line x1="161" y1="31.5" x2="161" y2="38.5" stroke="#222" stroke-width="0.8"/>
<line x1="177" y1="31.5" x2="177" y2="38.5" stroke="#222" stroke-width="0.8"/>
<line x1="39.2" y1="29.5" x2="65.4" y2="29.5" stroke="#222" stroke-width="0.8"/>
<line x1="39.2" y1="29.5" x2="39.2" y2="38.5" stroke="#222" stroke-width="0.8"/>
<line x1="65.4" y1="29.5" x2="65.4" y2="31.8" stroke="#222" stroke-width="0.8"/>
<line x1="57" y1="31.8" x2="73.8" y2="31.8" stroke="#222" stroke-width="0.8"/>
<line x1="57" y1="31.8" x2="57" y2="38.5" stroke="#222" stroke-width="0.8"/>
<line x1="73.8" y1="31.8" x2="73.8" y2="38.5" stroke="#222" stroke-width="0.8"/>
<line x1="256.5" y1="21.8" x2="338.3" y2="21.8" stroke="#222" stroke-width="0.8"/>
<line x1="297.7" y1="19.7" x2="297.7" y2="21.8" stroke="#222" stroke-width="0.8"/>
<line x1="256.5" y1="21.8" x2="256.5" y2="25.2" stroke="#222" stroke-width="0.8"/>
<line x1="234.4" y1="25.2" x2="279.4" y2="25.2" stroke="#222" stroke-width="0.8"/>
<line x1="234.4" y1="25.2" x2="234.4" y2="27.5" stroke="#222" stroke-width="0.8"/>
<line x1="222.8" y1="27.5" x2="245.3" y2="27.5" stroke="#222" stroke-width="0.8"/>
<line x1="222.8" y1="27.5" x2="222.8" y2="38.5" stroke="#222" stroke-width="0.8"/>
<line x1="245.3" y1="27.5" x2="245.3" y2="30.1" stroke="#222" stroke-width="0.8"/>
<line x1="237.5" y1="30.1" x2="253" y2="30.1" stroke="#222" stroke-width="0.8"/>
<line x1="237.5" y1="30.1" x2="237.5" y2="38.5" stroke="#222" stroke-width="0.8"/>
<line x1="253" y1="30.1" x2="253" y2="38.5" stroke="#222" stroke-width="0.8"/>
<line x1="279.4" y1="25.2" x2="279.4" y2="27.5" stroke="#222" stroke-width="0.8"/>
<line x1="268.3" y1="27.5" x2="291.1" y2="27.5" stroke="#222" stroke-width="0.8"/>
<line x1="268.3" y1="27.5" x2="268.3" y2="38.5" stroke="#222" stroke-width="0.8"/>
<line x1="291.1" y1="27.5" x2="291.1" y2="30.1" stroke="#222" stroke-width="0.8"/>
<line x1="283.3" y1="30.1" x2="298.4" y2="30.1" stroke="#222" stroke-width="0.8"/>
<line x1="283.3" y1="30.1" x2="283.3" y2="38.5" stroke="#222" stroke-width="0.8"/>
<line x1="298.4" y1="30.1" x2="298.4" y2="38.5" stroke="#222" stroke-width="0.8"/>
<line x1="338.3" y1="21.8" x2="338.3" y2="24.6" stroke="#222" stroke-width="0.8"/>
<line x1="321.1" y1="24.6" x2="355.3" y2="24.6" stroke="#222" stroke-width="0.8"/>
<line x1="321.1" y1="24.6" x2="321.1" y2="29.5" stroke="#222" stroke-width="0.8"/>
<line x1="313.3" y1="29.5" x2="328.5" y2="29.5" stroke="#222" stroke-width="0.8"/>
<line x1="313.3" y1="29.5" x2="313.3" y2="38.5" stroke="#222" stroke-width="0.8"/>
<line x1="328.5" y1="29.5" x2="328.5" y2="38.5" stroke="#222" stroke-width="0.8"/>
<line x1="355.3" y1="24.6" x2="355.3" y2="27.2" stroke="#222" stroke-width="0.8"/>
<line x1="343.4" y1="27.2" x2="366.3" y2="27.2" stroke="#222" stroke-width="0.8"/>
<line x1="343.4" y1="27.2" x2="343.4" y2="38.5" stroke="#222" stroke-width="0.8"/>
<line x1="366.3" y1="27.2" x2="366.3" y2="29.5" stroke="#222" stroke-width="0.8"/>
<line x1="358.6" y1="29.5" x2="374" y2="29.5" stroke="#222" stroke-width="0.8"/>
<line x1="358.6" y1="29.5" x2="358.6" y2="38.5" stroke="#222" stroke-width="0.8"/>
<line x1="374" y1="29.5" x2="374" y2="38.5" stroke="#222" stroke-width="0.8"/>
<line x1="28.6" y1="51" x2="28.6" y2="138" stroke="#b4b4b4" stroke-width="0.6"/>
<line x1="21.5" y1="61" x2="21.5" y2="80" stroke="#b4b4b4" stroke-width="0.6"/>
<line x1="21.5" y1="61" x2="30" y2="61" stroke="#b4b4b4" stroke-width="0.6"/>
<line x1="21.5" y1="80" x2="30" y2="80" stroke="#b4b4b4" stroke-width="0.6"/>
<line x1="22.5" y1="80" x2="22.5" y2="96" stroke="#b4b4b4" stroke-width="0.6"/>
<line x1="22.5" y1="80" x2="30" y2="80" stroke="#b4b4b4" stroke-width="0.6"/>
<line x1="22.5" y1="96" x2="30" y2="96" stroke="#b4b4b4" stroke-width="0.6"/>
<line x1="23.5" y1="97" x2="23.5" y2="105" stroke="#b4b4b4" stroke-width="0.6"/>
<line x1="23.5" y1="97" x2="30" y2="97" stroke="#b4b4b4" stroke-width="0.6"/>
<line x1="23.5" y1="105" x2="30" y2="105" stroke="#b4b4b4" stroke-width="0.6"/>
<line x1="23" y1="104" x2="23" y2="112" stroke="#b4b4b4" stroke-width="0.6"/>
<line x1="23" y1="104" x2="30" y2="104" stroke="#b4b4b4" stroke-width="0.6"/>
<line x1="23" y1="112" x2="30" y2="112" stroke="#b4b4b4" stroke-width="0.6"/>
<line x1="24" y1="112" x2="24" y2="120" stroke="#b4b4b4" stroke-width="0.6"/>
<line x1="24" y1="112" x2="30" y2="112" stroke="#b4b4b4" stroke-width="0.6"/>
<line x1="24" y1="120" x2="30" y2="120" stroke="#b4b4b4" stroke-width="0.6"/>
<line x1="25" y1="120" x2="25" y2="128" stroke="#b4b4b4" stroke-width="0.6"/>
<line x1="25" y1="120" x2="30" y2="120" stroke="#b4b4b4" stroke-width="0.6"/>
<line x1="25" y1="128" x2="30" y2="128" stroke="#b4b4b4" stroke-width="0.6"/>
<line x1="26.5" y1="126" x2="26.5" y2="133" stroke="#b4b4b4" stroke-width="0.6"/>
<line x1="26.5" y1="126" x2="30" y2="126" stroke="#b4b4b4" stroke-width="0.6"/>
<line x1="26.5" y1="133" x2="30" y2="133" stroke="#b4b4b4" stroke-width="0.6"/>
<line x1="27.5" y1="130" x2="27.5" y2="137" stroke="#b4b4b4" stroke-width="0.6"/>
<line x1="27.5" y1="130" x2="30" y2="130" stroke="#b4b4b4" stroke-width="0.6"/>
<line x1="27.5" y1="137" x2="30" y2="137" stroke="#b4b4b4" stroke-width="0.6"/>
<line x1="25.5" y1="57" x2="25.5" y2="66" stroke="#b4b4b4" stroke-width="0.6"/>
<line x1="25.5" y1="57" x2="30" y2="57" stroke="#b4b4b4" stroke-width="0.6"/>
<line x1="214.93" y1="52.2" x2="216.8" y2="52.2" stroke="#5a5a5a" stroke-width="0.6"/>
<line x1="214.5" y1="53.63" x2="216.8" y2="53.63" stroke="#5a5a5a" stroke-width="0.6"/>
<line x1="213.53" y1="52.2" x2="213.53" y2="53.63" stroke="#5a5a5a" stroke-width="0.6"/>
<line x1="214.33" y1="55.06" x2="216.8" y2="55.06" stroke="#5a5a5a" stroke-width="0.6"/>
<line x1="213.52" y1="56.49" x2="216.8" y2="56.49" stroke="#5a5a5a" stroke-width="0.6"/>
<line x1="212.24" y1="55.06" x2="212.24" y2="56.49" stroke="#5a5a5a" stroke-width="0.6"/>
<line x1="211.63" y1="52.92" x2="211.63" y2="55.78" stroke="#5a5a5a" stroke-width="0.6"/>
<line x1="212.59" y1="57.92" x2="216.8" y2="57.92" stroke="#5a5a5a" stroke-width="0.6"/>
<line x1="214.42" y1="59.35" x2="216.8" y2="59.35" stroke="#5a5a5a" stroke-width="0.6"/>
<line x1="214.01" y1="60.78" x2="216.8" y2="60.78" stroke="#5a5a5a" stroke-width="0.6"/>
<line x1="212.23" y1="59.35" x2="212.23" y2="60.78" stroke="#5a5a5a" stroke-width="0.6"/>
<line x1="210.52" y1="57.92" x2="210.52" y2="60.06" stroke="#5a5a5a" stroke-width="0.6"/>
<line x1="209.68" y1="54.35" x2="209.68" y2="58.99" stroke="#5a5a5a" stroke-width="0.6"/>
<line x1="214.48" y1="62.21" x2="216.8" y2="62.21" stroke="#5a5a5a" stroke-width="0.6"/>
<line x1="214.94" y1="63.64" x2="216.8" y2="63.64" stroke="#5a5a5a" stroke-width="0.6"/>
<line x1="212.84" y1="62.21" x2="212.84" y2="63.64" stroke="#5a5a5a" stroke-width="0.6"/>
<line x1="212.01" y1="65.07" x2="216.8" y2="65.07" stroke="#5a5a5a" stroke-width="0.6"/>
<line x1="211.38" y1="62.92" x2="211.38" y2="65.07" stroke="#5a5a5a" stroke-width="0.6"/>
<line x1="211.85" y1="66.5" x2="216.8" y2="66.5" stroke="#5a5a5a" stroke-width="0.6"/>
<line x1="210.07" y1="64" x2="210.07" y2="66.5" stroke="#5a5a5a" stroke-width="0.6"/>
<line x1="208.07" y1="56.67" x2="208.07" y2="65.25" stroke="#5a5a5a" stroke-width="0.6"/>
<line x1="210.11" y1="67.93" x2="216.8" y2="67.93" stroke="#5a5a5a" stroke-width="0.6"/>
<line x1="209.71" y1="69.36" x2="216.8" y2="69.36" stroke="#5a5a5a" stroke-width="0.6"/>
<line x1="208.87" y1="67.93" x2="208.87" y2="69.36" stroke="#5a5a5a" stroke-width="0.6"/>
<line x1="213.64" y1="70.79" x2="216.8" y2="70.79" stroke="#5a5a5a" stroke-width="0.6"/>
<line x1="214.21" y1="72.22" x2="216.8" y2="72.22" stroke="#5a5a5a" stroke-width="0.6"/>
<line x1="212.84" y1="70.79" x2="212.84" y2="72.22" stroke="#5a5a5a" stroke-width="0.6"/>
<line x1="215.8" y1="73.65" x2="216.8" y2="73.65" stroke="#5a5a5a" stroke-width="0.6"/>
<line x1="215.8" y1="75.08" x2="216.8" y2="75.08" stroke="#5a5a5a" stroke-width="0.6"/>
<line x1="214.98" y1="73.65" x2="214.98" y2="75.08" stroke="#5a5a5a" stroke-width="0.6"/>
<line x1="215.8" y1="76.51" x2="216.8" y2="76.51" stroke="#5a5a5a" stroke-width="0.6"/>
<line x1="215.8" y1="77.94" x2="216.8" y2="77.94" stroke="#5a5a5a" stroke-width="0.6"/>
<line x1="215.8" y1="76.51" x2="215.8" y2="77.94" stroke="#5a5a5a" stroke-width="0.6"/>
<line x1="215.8" y1="79.37" x2="216.8" y2="79.37" stroke="#5a5a5a" stroke-width="0.6"/>
<line x1="215.8" y1="80.8" x2="216.8" y2="80.8" stroke="#5a5a5a" stroke-width="0.6"/>
<line x1="215.66" y1="79.37" x2="215.66" y2="80.8" stroke="#5a5a5a" stroke-width="0.6"/>
<line x1="215.02" y1="77.22" x2="215.02" y2="80.09" stroke="#5a5a5a" stroke-width="0.6"/>
<line x1="213.83" y1="74.37" x2="213.83" y2="78.66" stroke="#5a5a5a" stroke-width="0.6"/>
<line x1="211.91" y1="71.5" x2="211.91" y2="76.51" stroke="#5a5a5a" stroke-width="0.6"/>
<line x1="214.75" y1="82.23" x2="216.8" y2="82.23" stroke="#5a5a5a" stroke-width="0.6"/>
<line x1="215.8" y1="83.66" x2="216.8" y2="83.66" stroke="#5a5a5a" stroke-width="0.6"/>
<line x1="215.8" y1="85.09" x2="216.8" y2="85.09" stroke="#5a5a5a" stroke-width="0.6"/>
<line x1="215.8" y1="83.66" x2="215.8" y2="85.09" stroke="#5a5a5a" stroke-width="0.6"/>
<line x1="215.8" y1="86.52" x2="216.8" y2="86.52" stroke="#5a5a5a" stroke-width="0.6"/>
<line x1="215.8" y1="84.38" x2="215.8" y2="86.52" stroke="#5a5a5a" stroke-width="0.6"/>
<line x1="215.8" y1="87.95" x2="216.8" y2="87.95" stroke="#5a5a5a" stroke-width="0.6"/>
<line x1="215.8" y1="89.38" x2="216.8" y2="89.38" stroke="#5a5a5a" stroke-width="0.6"/>
<line x1="215.8" y1="90.81" x2="216.8" y2="90.81" stroke="#5a5a5a" stroke-width="0.6"/>
<line x1="215.8" y1="89.38" x2="215.8" y2="90.81" stroke="#5a5a5a" stroke-width="0.6"/>
<line x1="215.8" y1="87.95" x2="215.8" y2="90.09" stroke="#5a5a5a" stroke-width="0.6"/>
<line x1="215.8" y1="92.24" x2="216.8" y2="92.24" stroke="#5a5a5a" stroke-width="0.6"/>
<line x1="215.8" y1="89.02" x2="215.8" y2="92.24" stroke="#5a5a5a" stroke-width="0.6"/>
<line x1="215.8" y1="93.67" x2="216.8" y2="93.67" stroke="#5a5a5a" stroke-width="0.6"/>
<line x1="215.8" y1="95.1" x2="216.8" y2="95.1" stroke="#5a5a5a" stroke-width="0.6"/>
<line x1="215.8" y1="96.53" x2="216.8" y2="96.53" stroke="#5a5a5a" stroke-width="0.6"/>
<line x1="215.8" y1="95.1" x2="215.8" y2="96.53" stroke="#5a5a5a" stroke-width="0.6"/>
<line x1="215.8" y1="93.67" x2="215.8" y2="95.81" stroke="#5a5a5a" stroke-width="0.6"/>
<line x1="215.8" y1="90.63" x2="215.8" y2="94.74" stroke="#5a5a5a" stroke-width="0.6"/>
<line x1="215.8" y1="85.45" x2="215.8" y2="92.69" stroke="#5a5a5a" stroke-width="0.6"/>
<line x1="215.8" y1="97.96" x2="216.8" y2="97.96" stroke="#5a5a5a" stroke-width="0.6"/>
<line x1="215.8" y1="89.07" x2="215.8" y2="97.96" stroke="#5a5a5a" stroke-width="0.6"/>
<line x1="215.8" y1="99.39" x2="216.8" y2="99.39" stroke="#5a5a5a" stroke-width="0.6"/>
<line x1="215.8" y1="100.82" x2="216.8" y2="100.82" stroke="#5a5a5a" stroke-width="0.6"/>
<line x1="215.8" y1="102.25" x2="216.8" y2="102.25" stroke="#5a5a5a" stroke-width="0.6"/>
<line x1="215.8" y1="100.82" x2="215.8" y2="102.25" stroke="#5a5a5a" stroke-width="0.6"/>
<line x1="215.8" y1="99.39" x2="215.8" y2="101.53" stroke="#5a5a5a" stroke-width="0.6"/>
<line x1="215.8" y1="103.68" x2="216.8" y2="103.68" stroke="#5a5a5a" stroke-width="0.6"/>
<line x1="215.8" y1="105.11" x2="216.8" y2="105.11" stroke="#5a5a5a" stroke-width="0.6"/>
<line x1="215.8" y1="106.54" x2="216.8" y2="106.54" stroke="#5a5a5a" stroke-width="0.6"/>
<line x1="215.8" y1="105.11" x2="215.8" y2="106.54" stroke="#5a5a5a" stroke-width="0.6"/>
<line x1="215.8" y1="103.68" x2="215.8" y2="105.82" stroke="#5a5a5a" stroke-width="0.6"/>
<line x1="215.8" y1="100.46" x2="215.8" y2="104.75" stroke="#5a5a5a" stroke-width="0.6"/>
<line x1="215.8" y1="93.51" x2="215.8" y2="102.61" stroke="#5a5a5a" stroke-width="0.6"/>
<line x1="215.8" y1="107.97" x2="216.8" y2="107.97" stroke="#5a5a5a" stroke-width="0.6"/>
<line x1="215.8" y1="109.4" x2="216.8" y2="109.4" stroke="#5a5a5a" stroke-width="0.6"/>
<line x1="215.8" y1="110.83" x2="216.8" y2="110.83" stroke="#5a5a5a" stroke-width="0.6"/>
<line x1="215.8" y1="112.26" x2="216.8" y2="112.26" stroke="#5a5a5a" stroke-width="0.6"/>
<line x1="215.8" y1="110.83" x2="215.8" y2="112.26" stroke="#5a5a5a" stroke-width="0.6"/>
<line x1="215.8" y1="109.4" x2="215.8" y2="111.54" stroke="#5a5a5a" stroke-width="0.6"/>
<line x1="215.8" y1="107.97" x2="215.8" y2="110.47" stroke="#5a5a5a" stroke-width="0.6"/>
<line x1="215.8" y1="113.69" x2="216.8" y2="113.69" stroke="#5a5a5a" stroke-width="0.6"/>
<line x1="215.8" y1="109.22" x2="215.8" y2="113.69" stroke="#5a5a5a" stroke-width="0.6"/>
<line x1="214.84" y1="98.06" x2="214.84" y2="111.46" stroke="#5a5a5a" stroke-width="0.6"/>
<line x1="213.36" y1="82.23" x2="213.36" y2="104.76" stroke="#5a5a5a" stroke-width="0.6"/>
<line x1="211.19" y1="74.01" x2="211.19" y2="93.49" stroke="#5a5a5a" stroke-width="0.6"/>
<line x1="212.28" y1="115.12" x2="216.8" y2="115.12" stroke="#5a5a5a" stroke-width="0.6"/>
<line x1="212.89" y1="116.55" x2="216.8" y2="116.55" stroke="#5a5a5a" stroke-width="0.6"/>
<line x1="215.8" y1="117.98" x2="216.8" y2="117.98" stroke="#5a5a5a" stroke-width="0.6"/>
<line x1="215.8" y1="119.41" x2="216.8" y2="119.41" stroke="#5a5a5a" stroke-width="0.6"/>
<line x1="214.96" y1="117.98" x2="214.96" y2="119.41" stroke="#5a5a5a" stroke-width="0.6"/>
<line x1="215.8" y1="120.84" x2="216.8" y2="120.84" stroke="#5a5a5a" stroke-width="0.6"/>
<line x1="215.8" y1="122.27" x2="216.8" y2="122.27" stroke="#5a5a5a" stroke-width="0.6"/>
<line x1="215.8" y1="120.84" x2="215.8" y2="122.27" stroke="#5a5a5a" stroke-width="0.6"/>
<line x1="215.8" y1="123.7" x2="216.8" y2="123.7" stroke="#5a5a5a" stroke-width="0.6"/>
<line x1="215.8" y1="125.13" x2="216.8" y2="125.13" stroke="#5a5a5a" stroke-width="0.6"/>
<line x1="215.8" y1="126.56" x2="216.8" y2="126.56" stroke="#5a5a5a" stroke-width="0.6"/>
<line x1="215.8" y1="125.13" x2="215.8" y2="126.56" stroke="#5a5a5a" stroke-width="0.6"/>
<line x1="215.8" y1="127.99" x2="216.8" y2="127.99" stroke="#5a5a5a" stroke-width="0.6"/>
<line x1="215.8" y1="125.84" x2="215.8" y2="127.99" stroke="#5a5a5a" stroke-width="0.6"/>
<line x1="215.8" y1="123.7" x2="215.8" y2="126.92" stroke="#5a5a5a" stroke-width="0.6"/>
<line x1="215.13" y1="121.56" x2="215.13" y2="125.31" stroke="#5a5a5a" stroke-width="0.6"/>
<line x1="212.99" y1="118.69" x2="212.99" y2="123.43" stroke="#5a5a5a" stroke-width="0.6"/>
<line x1="211.87" y1="116.55" x2="211.87" y2="121.06" stroke="#5a5a5a" stroke-width="0.6"/>
<line x1="211.07" y1="115.12" x2="211.07" y2="118.81" stroke="#5a5a5a" stroke-width="0.6"/>
<line x1="214.89" y1="129.42" x2="216.8" y2="129.42" stroke="#5a5a5a" stroke-width="0.6"/>
<line x1="215.8" y1="130.85" x2="216.8" y2="130.85" stroke="#5a5a5a" stroke-width="0.6"/>
<line x1="215.34" y1="132.28" x2="216.8" y2="132.28" stroke="#5a5a5a" stroke-width="0.6"/>
<line x1="214.73" y1="130.85" x2="214.73" y2="132.28" stroke="#5a5a5a" stroke-width="0.6"/>
<line x1="213.32" y1="129.42" x2="213.32" y2="131.56" stroke="#5a5a5a" stroke-width="0.6"/>
<line x1="213.18" y1="133.71" x2="216.8" y2="133.71" stroke="#5a5a5a" stroke-width="0.6"/>
<line x1="211.84" y1="130.49" x2="211.84" y2="133.71" stroke="#5a5a5a" stroke-width="0.6"/>
<line x1="213.59" y1="135.14" x2="216.8" y2="135.14" stroke="#5a5a5a" stroke-width="0.6"/>
<line x1="212.59" y1="136.57" x2="216.8" y2="136.57" stroke="#5a5a5a" stroke-width="0.6"/>
<line x1="211.62" y1="135.14" x2="211.62" y2="136.57" stroke="#5a5a5a" stroke-width="0.6"/>
<line x1="210.92" y1="132.1" x2="210.92" y2="135.85" stroke="#5a5a5a" stroke-width="0.6"/>
<line x1="210.03" y1="116.96" x2="210.03" y2="133.98" stroke="#5a5a5a" stroke-width="0.6"/>
<line x1="209.21" y1="83.75" x2="209.21" y2="125.47" stroke="#5a5a5a" stroke-width="0.6"/>
<line x1="207.54" y1="68.65" x2="207.54" y2="104.61" stroke="#5a5a5a" stroke-width="0.6"/>
<line x1="206.8" y1="60.96" x2="206.8" y2="86.63" stroke="#5a5a5a" stroke-width="0.6"/>
<defs><linearGradient id="gbr" x1="0" x2="1" y1="0" y2="0"><stop offset="0" stop-color="#0000ff"/><stop offset="1" stop-color="#ff0000"/></linearGradient><linearGradient id="gbwr" x1="0" x2="1" y1="0" y2="0"><stop offset="0" stop-color="#0000ff"/><stop offset="0.5" stop-color="#ffffff"/><stop offset="1" stop-color="#dd0000"/></linearGradient></defs>
<rect x="70" y="140.1" width="77" height="1.9" fill="url(#gbr)"/>
<rect x="259" y="140.4" width="84" height="1.8" fill="url(#gbr)"/>
<text x="63" y="150.04" font-size="6.6" fill="#222">-1.6</text>
<text x="79" y="150.04" font-size="6.6" fill="#222">-0.8</text>
<text x="97.7" y="150.04" font-size="6.6" fill="#222">0</text>
<text x="108.6" y="150.04" font-size="6.6" fill="#222">0.8</text>
<text x="124" y="150.04" font-size="6.6" fill="#222">1.6</text>
<text x="136.5" y="150.04" font-size="6.6" fill="#222">2.667</text>
<text x="252.5" y="150.04" font-size="6.6" fill="#222">-1.6</text>
<text x="270" y="150.04" font-size="6.6" fill="#222">-0.8</text>
<text x="288.6" y="150.04" font-size="6.6" fill="#222">0</text>
<text x="302" y="150.04" font-size="6.6" fill="#222">0.8</text>
<text x="317" y="150.04" font-size="6.6" fill="#222">1.6</text>
<text x="338.5" y="150.04" font-size="6.6" fill="#222">2.4</text>
<text x="7.8" y="163.99" font-size="11.8" font-weight="bold">B</text>
<defs><clipPath id="cg"><ellipse cx="89.75" cy="242.8" rx="42.3" ry="45.7"/></clipPath></defs>
<ellipse cx="50.4" cy="242.8" rx="37.9" ry="39.8" fill="#c05568" stroke="#b8455f" stroke-width="0.6"/>
<ellipse cx="89.75" cy="242.8" rx="42.3" ry="45.7" fill="#98c47c"/>
<ellipse cx="50.4" cy="242.8" rx="37.9" ry="39.8" fill="#848c50" clip-path="url(#cg)"/>
<ellipse cx="89.75" cy="242.8" rx="42.3" ry="45.7" fill="none" stroke="#fff" stroke-width="0.8" clip-path="url(#cr)"/>
<defs><clipPath id="cr"><ellipse cx="50.4" cy="242.8" rx="38.2" ry="40.1"/></clipPath></defs>
<text x="7.3" y="193.75" font-size="6.9" textLength="58.7" lengthAdjust="spacingAndGlyphs"><tspan font-style="italic">p53</tspan><tspan font-size="4.14" baseline-shift="super">-/-</tspan> <tspan font-style="italic">VAV1-Tg</tspan> T-LBL</text>
<text x="36.5" y="202.05" font-size="6.9" text-anchor="middle" textLength="8.5" lengthAdjust="spacingAndGlyphs">VS.</text>
<text x="20.6" y="209.45" font-size="6.9" textLength="32.4" lengthAdjust="spacingAndGlyphs"><tspan font-style="italic">p53</tspan><tspan font-size="4.14" baseline-shift="super">-/-</tspan> T-LBL</text>
<text x="73" y="193.95" font-size="6.9" textLength="55.8" lengthAdjust="spacingAndGlyphs"><tspan font-style="italic">p53</tspan><tspan font-size="4.14" baseline-shift="super">-/-</tspan> <tspan font-style="italic">VAV1-Tg</tspan> Lym</text>
<text x="100.8" y="201.65" font-size="6.9" text-anchor="middle" textLength="8.5" lengthAdjust="spacingAndGlyphs">VS.</text>
<text x="69" y="209.65" font-size="6.9" textLength="63.6" lengthAdjust="spacingAndGlyphs">WT CD4+ splenocytes</text>
<text x="32.3" y="247.94" font-size="6.6" text-anchor="middle" fill="#111">527</text>
<text x="32.3" y="255.24" font-size="6.6" text-anchor="middle" fill="#111" textLength="15.5" lengthAdjust="spacingAndGlyphs">genes</text>
<text x="67.3" y="247.94" font-size="6.6" text-anchor="middle" fill="#111">36</text>
<text x="67.3" y="255.24" font-size="6.6" text-anchor="middle" fill="#111" textLength="15.5" lengthAdjust="spacingAndGlyphs">genes</text>
<text x="104.5" y="247.94" font-size="6.6" text-anchor="middle" fill="#111">827</text>
<text x="104.5" y="255.24" font-size="6.6" text-anchor="middle" fill="#111" textLength="15.5" lengthAdjust="spacingAndGlyphs">genes</text>
<line x1="67.3" y1="240.8" x2="135.5" y2="234.8" stroke="#000" stroke-width="1"/>
<rect x="135.3" y="165.7" width="46.1" height="139.5" fill="#fff" stroke="#000" stroke-width="1.2"/>
<g transform="translate(138.3 0) scale(0.84 1)">
<text x="0" y="174.77" font-size="6.4" fill="#111">1700008011Rik</text>
<text x="0" y="181.41" font-size="6.4" fill="#111">5830411N06Rik</text>
<text x="0" y="188.05" font-size="6.4" fill="#111">Als2</text>
<text x="0" y="194.69" font-size="6.4" fill="#111">Bex4</text>
<text x="0" y="201.33" font-size="6.4" fill="#111">Camp</text>
<text x="0" y="207.97" font-size="6.4" fill="#111">Ccr4</text>
<text x="0" y="214.61" font-size="6.4" fill="#111">Cdkn2c</text>
<text x="0" y="221.25" font-size="6.4" fill="#111">Chdh</text>
<text x="0" y="227.89" font-size="6.4" fill="#111">Cmtm7</text>
<text x="0" y="234.53" font-size="6.4" fill="#111">Fbln1</text>
<text x="0" y="241.17" font-size="6.4" fill="#111">Gm4316</text>
<text x="0" y="247.81" font-size="6.4" fill="#111">Hemgn</text>
<text x="0" y="254.45" font-size="6.4" fill="#111">Ighg2c</text>
<text x="0" y="261.09" font-size="6.4" fill="#111">Igkv4-61</text>
<text x="0" y="267.73" font-size="6.4" fill="#111">Il17rb</text>
<text x="0" y="274.37" font-size="6.4" fill="#111">Itm2a</text>
<text x="0" y="281.01" font-size="6.4" fill="#111">Mapk13</text>
<text x="0" y="287.65" font-size="6.4" fill="#111">Mt2</text>
<text x="0" y="294.29" font-size="6.4" fill="#111">Mxd3</text>
<text x="0" y="300.93" font-size="6.4" fill="#d2321e">Myc</text>
</g>
<g transform="translate(159.7 0) scale(0.84 1)">
<text x="0" y="201.33" font-size="6.4" fill="#111">Myl10</text>
<text x="0" y="207.97" font-size="6.4" fill="#111">Ngp</text>
<text x="0" y="214.61" font-size="6.4" fill="#111">Padi3</text>
<text x="0" y="221.25" font-size="6.4" fill="#111">Ptprf</text>
<text x="0" y="227.89" font-size="6.4" fill="#111">Sh2d1a</text>
<text x="0" y="234.53" font-size="6.4" fill="#111">Smtn</text>
<text x="0" y="241.17" font-size="6.4" fill="#111">Sord</text>
<text x="0" y="247.81" font-size="6.4" fill="#111">Spats2</text>
<text x="0" y="254.45" font-size="6.4" fill="#111">Stmn1</text>
<text x="0" y="261.09" font-size="6.4" fill="#111">Tcrg-C1</text>
<text x="0" y="267.73" font-size="6.4" fill="#111">Tcrg-V4</text>
<text x="0" y="274.37" font-size="6.4" fill="#111">Tcrg-V6</text>
<text x="0" y="281.01" font-size="6.4" fill="#111">Tedc1</text>
<text x="0" y="287.65" font-size="6.4" fill="#111">Trav9d-4</text>
<text x="0" y="294.29" font-size="6.4" fill="#111">Trbv2</text>
<text x="0" y="300.93" font-size="6.4" fill="#111">Tyms</text>
</g>
<text x="196.3" y="164.79" font-size="11.8" font-weight="bold">C</text>
<text x="232" y="173.84" font-size="6.6" fill="#111" textLength="32" lengthAdjust="spacingAndGlyphs">* : <tspan font-style="italic">p</tspan>&lt;0.001</text>
<line x1="225.8" y1="177.7" x2="225.8" y2="284.6" stroke="#111" stroke-width="1.1"/>
<line x1="225.3" y1="284.2" x2="325.6" y2="284.2" stroke="#111" stroke-width="1.1"/>
<line x1="222" y1="186.2" x2="225.8" y2="186.2" stroke="#111" stroke-width="0.9"/>
<text x="219.6" y="188.69" font-size="7" text-anchor="end" fill="#222">150</text>
<line x1="222" y1="217.7" x2="225.8" y2="217.7" stroke="#111" stroke-width="0.9"/>
<text x="219.6" y="220.19" font-size="7" text-anchor="end" fill="#222">100</text>
<line x1="222" y1="249.5" x2="225.8" y2="249.5" stroke="#111" stroke-width="0.9"/>
<text x="219.6" y="251.99" font-size="7" text-anchor="end" fill="#222">50</text>
<line x1="222" y1="281.2" x2="225.8" y2="281.2" stroke="#111" stroke-width="0.9"/>
<text x="219.6" y="283.69" font-size="7" text-anchor="end" fill="#222">0</text>
<line x1="242" y1="284.2" x2="242" y2="287.3" stroke="#111" stroke-width="0.9"/>
<line x1="265.5" y1="284.2" x2="265.5" y2="287.3" stroke="#111" stroke-width="0.9"/>
<line x1="289" y1="284.2" x2="289" y2="287.3" stroke="#111" stroke-width="0.9"/>
<line x1="312.5" y1="284.2" x2="312.5" y2="287.3" stroke="#111" stroke-width="0.9"/>
<text x="200.6" y="227.56" font-size="7.2" text-anchor="middle" fill="#222" textLength="61.6" lengthAdjust="spacingAndGlyphs" transform="rotate(-90 200.6 225)"><tspan font-style="italic">Myc</tspan> transcript levels</text>
<line x1="234" y1="280.4" x2="250" y2="280.4" stroke="#000" stroke-width="1.3"/>
<circle cx="242" cy="280.4" r="0.7" fill="#000"/>
<line x1="265.4" y1="200" x2="265.4" y2="206" stroke="#444" stroke-width="0.6" stroke-dasharray="1,1"/>
<line x1="265.4" y1="236.2" x2="265.4" y2="239.3" stroke="#444" stroke-width="0.6" stroke-dasharray="1,1"/>
<rect x="257.4" y="206" width="16" height="30.2" fill="#a50c2a" stroke="#c41232" stroke-width="0.5"/>
<line x1="257.4" y1="225.2" x2="273.4" y2="225.2" stroke="#000" stroke-width="1.6"/>
<line x1="261.3" y1="200" x2="269.5" y2="200" stroke="#111" stroke-width="1"/>
<line x1="261.3" y1="239.3" x2="269.5" y2="239.3" stroke="#111" stroke-width="1"/>
<circle cx="265.4" cy="191.2" r="0.85" fill="#000"/>
<circle cx="265.4" cy="243.8" r="0.85" fill="#000"/>
<line x1="288.85" y1="254.2" x2="288.85" y2="257.1" stroke="#444" stroke-width="0.6" stroke-dasharray="1,1"/>
<line x1="288.85" y1="262.2" x2="288.85" y2="263.1" stroke="#444" stroke-width="0.6" stroke-dasharray="1,1"/>
<rect x="280.8" y="257.1" width="16.1" height="5.1" fill="#a50c2a" stroke="#c41232" stroke-width="0.5"/>
<line x1="280.8" y1="259.8" x2="296.9" y2="259.8" stroke="#000" stroke-width="1.6"/>
<line x1="284.75" y1="254.2" x2="292.95" y2="254.2" stroke="#111" stroke-width="1"/>
<line x1="284.75" y1="263.1" x2="292.95" y2="263.1" stroke="#111" stroke-width="1"/>
<circle cx="288.85" cy="251.8" r="0.85" fill="#000"/>
<line x1="312.3" y1="184.7" x2="312.3" y2="190" stroke="#444" stroke-width="0.6" stroke-dasharray="1,1"/>
<line x1="312.3" y1="205.8" x2="312.3" y2="206.8" stroke="#444" stroke-width="0.6" stroke-dasharray="1,1"/>
<rect x="304" y="190" width="16.6" height="15.8" fill="#a50c2a" stroke="#c41232" stroke-width="0.5"/>
<line x1="304" y1="200.3" x2="320.6" y2="200.3" stroke="#000" stroke-width="1.6"/>
<line x1="308.2" y1="184.7" x2="316.4" y2="184.7" stroke="#111" stroke-width="1"/>
<line x1="308.2" y1="206.8" x2="316.4" y2="206.8" stroke="#111" stroke-width="1"/>
<circle cx="312.3" cy="181.1" r="0.85" fill="#000"/>
<polyline points="288.4,174 288.4,171.8 313.3,171.8 313.3,174" fill="none" stroke="#222" stroke-width="0.9" stroke-linejoin="round"/>
<text x="302" y="170.91" font-size="6.5" text-anchor="middle" fill="#111">*</text>
<text x="242" y="300.18" font-size="6.7" text-anchor="middle" fill="#222" textLength="14.5" lengthAdjust="spacingAndGlyphs"><tspan font-style="italic">p53</tspan><tspan font-size="4.02" baseline-shift="super">-/-</tspan></text>
<text x="242" y="307.48" font-size="6.7" text-anchor="middle" fill="#222" textLength="15.5" lengthAdjust="spacingAndGlyphs">T-LBL</text>
<text x="242" y="315.18" font-size="6.7" text-anchor="middle" fill="#222" textLength="12" lengthAdjust="spacingAndGlyphs"><tspan font-style="italic">n</tspan>=2</text>
<text x="265.5" y="300.18" font-size="6.7" text-anchor="middle" fill="#222" textLength="14.5" lengthAdjust="spacingAndGlyphs"><tspan font-style="italic">p53</tspan><tspan font-size="4.02" baseline-shift="super">-/-</tspan></text>
<text x="265.5" y="307.48" font-size="6.7" text-anchor="middle" fill="#222" textLength="25" lengthAdjust="spacingAndGlyphs"><tspan font-style="italic">VAV1-Tg</tspan></text>
<text x="265.5" y="315.18" font-size="6.7" text-anchor="middle" fill="#222" textLength="15.5" lengthAdjust="spacingAndGlyphs">T-LBL</text>
<text x="265.5" y="322.98" font-size="6.7" text-anchor="middle" fill="#222" textLength="12" lengthAdjust="spacingAndGlyphs">n=4</text>
<text x="289" y="300.18" font-size="6.7" text-anchor="middle" fill="#222" textLength="10" lengthAdjust="spacingAndGlyphs">WT</text>
<text x="289" y="307.48" font-size="6.7" text-anchor="middle" fill="#222" textLength="13" lengthAdjust="spacingAndGlyphs">CD4</text>
<text x="289" y="315.18" font-size="6.7" text-anchor="middle" fill="#222" textLength="18.5" lengthAdjust="spacingAndGlyphs">T cells</text>
<text x="289" y="322.98" font-size="6.7" text-anchor="middle" fill="#222" textLength="12" lengthAdjust="spacingAndGlyphs"><tspan font-style="italic">n</tspan>=3</text>
<text x="312.5" y="300.18" font-size="6.7" text-anchor="middle" fill="#222" textLength="14.5" lengthAdjust="spacingAndGlyphs"><tspan font-style="italic">p53</tspan><tspan font-size="4.02" baseline-shift="super">-/-</tspan></text>
<text x="312.5" y="307.48" font-size="6.7" text-anchor="middle" fill="#222" textLength="25" lengthAdjust="spacingAndGlyphs"><tspan font-style="italic">VAV1-Tg</tspan></text>
<text x="312.5" y="315.18" font-size="6.7" text-anchor="middle" fill="#222" textLength="12" lengthAdjust="spacingAndGlyphs">Lym</text>
<text x="312.5" y="322.98" font-size="6.7" text-anchor="middle" fill="#222" textLength="12" lengthAdjust="spacingAndGlyphs">n=5</text>
<text x="341.6" y="164.09" font-size="11.8" font-weight="bold">D</text>
<text x="353" y="175.91" font-size="6.8" fill="#222" textLength="66.6" lengthAdjust="spacingAndGlyphs">(i) <tspan font-style="italic">p53</tspan><tspan font-size="4.08" baseline-shift="super">-/-</tspan> <tspan font-style="italic">VAV1-Tg</tspan> T-LBL</text>
<text x="386.7" y="183.71" font-size="6.8" text-anchor="middle" fill="#222" textLength="8.5" lengthAdjust="spacingAndGlyphs">VS.</text>
<text x="369.4" y="191.51" font-size="6.8" fill="#222" textLength="32.9" lengthAdjust="spacingAndGlyphs"><tspan font-style="italic">p53</tspan><tspan font-size="4.08" baseline-shift="super">-/-</tspan> T-LBL</text>
<text x="430" y="176.21" font-size="6.8" fill="#222" textLength="65" lengthAdjust="spacingAndGlyphs">(ii) <tspan font-style="italic">p53</tspan><tspan font-size="4.08" baseline-shift="super">-/-</tspan> <tspan font-style="italic">VAV1-Tg</tspan> Lym</text>
<text x="462.7" y="183.71" font-size="6.8" text-anchor="middle" fill="#222" textLength="7" lengthAdjust="spacingAndGlyphs">vs.</text>
<text x="439.8" y="191.21" font-size="6.8" fill="#222" textLength="45.6" lengthAdjust="spacingAndGlyphs">WT splenocytes</text>
<rect x="353.1" y="190.1" width="7.2" height="2" fill="#edf2fa"/>
<rect x="353.1" y="190.1" width="7.2" height="1.44" fill="#dbe4f5"/>
<rect x="353.1" y="192.1" width="7.93" height="2" fill="#edf2fa"/>
<rect x="353.1" y="192.1" width="7.93" height="1.44" fill="#dbe4f5"/>
<rect x="353.1" y="194.1" width="8.42" height="2" fill="#edf2fa"/>
<rect x="353.1" y="194.1" width="8.42" height="1.44" fill="#dbe4f5"/>
<rect x="353.1" y="196.1" width="8.74" height="2" fill="#edf2fa"/>
<rect x="353.1" y="196.1" width="8.74" height="1.44" fill="#dbe4f5"/>
<rect x="353.1" y="198.1" width="9.06" height="2" fill="#edf2fa"/>
<rect x="353.1" y="198.1" width="9.06" height="1.44" fill="#dbe4f5"/>
<rect x="353.1" y="200.1" width="9.35" height="2" fill="#edf2fa"/>
<rect x="353.1" y="200.1" width="9.35" height="1.44" fill="#c8102e"/>
<rect x="353.1" y="200.1" width="9.35" height="2" fill="#c8102e"/>
<rect x="353.1" y="202.1" width="9.62" height="2" fill="#edf2fa"/>
<rect x="353.1" y="202.1" width="9.62" height="1.44" fill="#dbe4f5"/>
<rect x="353.1" y="204.1" width="9.97" height="2" fill="#edf2fa"/>
<rect x="353.1" y="204.1" width="9.97" height="1.44" fill="#dbe4f5"/>
<rect x="353.1" y="206.1" width="10.38" height="2" fill="#edf2fa"/>
<rect x="353.1" y="206.1" width="10.38" height="1.44" fill="#dbe4f5"/>
<rect x="353.1" y="208.1" width="10.87" height="2" fill="#edf2fa"/>
<rect x="353.1" y="208.1" width="10.87" height="1.44" fill="#dbe4f5"/>
<rect x="353.1" y="210.1" width="11.31" height="2" fill="#edf2fa"/>
<rect x="353.1" y="210.1" width="11.31" height="1.44" fill="#dbe4f5"/>
<rect x="353.1" y="212.1" width="11.68" height="2" fill="#edf2fa"/>
<rect x="353.1" y="212.1" width="11.68" height="1.44" fill="#dbe4f5"/>
<rect x="353.1" y="214.1" width="12.06" height="2" fill="#edf2fa"/>
<rect x="353.1" y="214.1" width="12.06" height="1.44" fill="#dbe4f5"/>
<rect x="353.1" y="216.1" width="12.55" height="2" fill="#edf2fa"/>
<rect x="353.1" y="216.1" width="12.55" height="1.44" fill="#dbe4f5"/>
<rect x="353.1" y="218.1" width="13.05" height="2" fill="#edf2fa"/>
<rect x="353.1" y="218.1" width="13.05" height="1.44" fill="#dbe4f5"/>
<rect x="353.1" y="220.1" width="13.42" height="2" fill="#edf2fa"/>
<rect x="353.1" y="220.1" width="13.42" height="1.44" fill="#dbe4f5"/>
<rect x="353.1" y="222.1" width="13.74" height="2" fill="#edf2fa"/>
<rect x="353.1" y="222.1" width="13.74" height="1.44" fill="#dbe4f5"/>
<rect x="353.1" y="224.1" width="14.06" height="2" fill="#edf2fa"/>
<rect x="353.1" y="224.1" width="14.06" height="1.44" fill="#dbe4f5"/>
<rect x="353.1" y="226.1" width="14.37" height="2" fill="#edf2fa"/>
<rect x="353.1" y="226.1" width="14.37" height="1.44" fill="#dbe4f5"/>
<rect x="353.1" y="228.1" width="14.66" height="2" fill="#edf2fa"/>
<rect x="353.1" y="228.1" width="14.66" height="1.44" fill="#dbe4f5"/>
<rect x="353.1" y="230.1" width="14.96" height="2" fill="#edf2fa"/>
<rect x="353.1" y="230.1" width="14.96" height="1.44" fill="#dbe4f5"/>
<rect x="353.1" y="232.1" width="15.26" height="2" fill="#edf2fa"/>
<rect x="353.1" y="232.1" width="15.26" height="1.44" fill="#dbe4f5"/>
<rect x="353.1" y="234.1" width="15.55" height="2" fill="#edf2fa"/>
<rect x="353.1" y="234.1" width="15.55" height="1.44" fill="#dbe4f5"/>
<rect x="353.1" y="236.1" width="15.84" height="2" fill="#edf2fa"/>
<rect x="353.1" y="236.1" width="15.84" height="1.44" fill="#dbe4f5"/>
<rect x="353.1" y="238.1" width="16.19" height="2" fill="#edf2fa"/>
<rect x="353.1" y="238.1" width="16.19" height="1.44" fill="#dbe4f5"/>
<rect x="353.1" y="240.1" width="16.55" height="2" fill="#edf2fa"/>
<rect x="353.1" y="240.1" width="16.55" height="1.44" fill="#dbe4f5"/>
<rect x="353.1" y="242.1" width="16.92" height="2" fill="#edf2fa"/>
<rect x="353.1" y="242.1" width="16.92" height="1.44" fill="#dbe4f5"/>
<rect x="353.1" y="244.1" width="17.41" height="2" fill="#edf2fa"/>
<rect x="353.1" y="244.1" width="17.41" height="1.44" fill="#dbe4f5"/>
<rect x="353.1" y="246.1" width="17.9" height="2" fill="#edf2fa"/>
<rect x="353.1" y="246.1" width="17.9" height="1.44" fill="#dbe4f5"/>
<rect x="353.1" y="248.1" width="18.38" height="2" fill="#edf2fa"/>
<rect x="353.1" y="248.1" width="18.38" height="1.44" fill="#dbe4f5"/>
<rect x="353.1" y="250.1" width="18.8" height="2" fill="#edf2fa"/>
<rect x="353.1" y="250.1" width="18.8" height="1.44" fill="#dbe4f5"/>
<rect x="353.1" y="252.1" width="19.17" height="2" fill="#edf2fa"/>
<rect x="353.1" y="252.1" width="19.17" height="1.44" fill="#dbe4f5"/>
<rect x="353.1" y="254.1" width="19.53" height="2" fill="#edf2fa"/>
<rect x="353.1" y="254.1" width="19.53" height="1.44" fill="#dbe4f5"/>
<rect x="353.1" y="256.1" width="19.9" height="2" fill="#edf2fa"/>
<rect x="353.1" y="256.1" width="19.9" height="1.44" fill="#dbe4f5"/>
<rect x="353.1" y="258.1" width="20.27" height="2" fill="#edf2fa"/>
<rect x="353.1" y="258.1" width="20.27" height="1.44" fill="#dbe4f5"/>
<rect x="353.1" y="260.1" width="20.63" height="2" fill="#edf2fa"/>
<rect x="353.1" y="260.1" width="20.63" height="1.44" fill="#dbe4f5"/>
<rect x="353.1" y="262.1" width="21.38" height="2" fill="#edf2fa"/>
<rect x="353.1" y="262.1" width="21.38" height="1.44" fill="#dbe4f5"/>
<rect x="353.1" y="264.1" width="22.43" height="2" fill="#edf2fa"/>
<rect x="353.1" y="264.1" width="22.43" height="1.44" fill="#dbe4f5"/>
<rect x="353.1" y="266.1" width="23.71" height="2" fill="#edf2fa"/>
<rect x="353.1" y="266.1" width="23.71" height="1.44" fill="#dbe4f5"/>
<rect x="353.1" y="268.1" width="25.22" height="2" fill="#edf2fa"/>
<rect x="353.1" y="268.1" width="25.22" height="1.44" fill="#c8102e"/>
<rect x="353.1" y="268.1" width="25.22" height="2" fill="#c8102e"/>
<rect x="353.1" y="270.1" width="27.6" height="2" fill="#edf2fa"/>
<rect x="353.1" y="270.1" width="27.6" height="1.44" fill="#dbe4f5"/>
<rect x="353.1" y="272.1" width="29.98" height="2" fill="#edf2fa"/>
<rect x="353.1" y="272.1" width="29.98" height="1.44" fill="#dbe4f5"/>
<rect x="353.1" y="274.1" width="30.25" height="2" fill="#edf2fa"/>
<rect x="353.1" y="274.1" width="30.25" height="1.44" fill="#dbe4f5"/>
<rect x="353.1" y="276.1" width="30.41" height="2" fill="#edf2fa"/>
<rect x="353.1" y="276.1" width="30.41" height="1.44" fill="#dbe4f5"/>
<rect x="353.1" y="278.1" width="34.94" height="2" fill="#edf2fa"/>
<rect x="353.1" y="278.1" width="34.94" height="1.44" fill="#dbe4f5"/>
<rect x="353.1" y="280.1" width="38.23" height="2" fill="#edf2fa"/>
<rect x="353.1" y="280.1" width="38.23" height="1.44" fill="#dbe4f5"/>
<rect x="353.1" y="282.1" width="38.69" height="2" fill="#edf2fa"/>
<rect x="353.1" y="282.1" width="38.69" height="1.44" fill="#dbe4f5"/>
<rect x="353.1" y="284.1" width="40.9" height="2" fill="#edf2fa"/>
<rect x="353.1" y="284.1" width="40.9" height="1.44" fill="#dbe4f5"/>
<rect x="353.1" y="286.1" width="45.79" height="2" fill="#edf2fa"/>
<rect x="353.1" y="286.1" width="45.79" height="1.44" fill="#dbe4f5"/>
<rect x="353.1" y="288.1" width="47.4" height="2" fill="#edf2fa"/>
<rect x="353.1" y="288.1" width="47.4" height="1.44" fill="#dbe4f5"/>
<rect x="353.1" y="290.1" width="47.4" height="2" fill="#edf2fa"/>
<rect x="353.1" y="290.1" width="47.4" height="1.44" fill="#dbe4f5"/>
<rect x="353.1" y="292.1" width="47.4" height="2" fill="#edf2fa"/>
<rect x="353.1" y="292.1" width="47.4" height="1.44" fill="#dbe4f5"/>
<rect x="353.1" y="294.1" width="47.4" height="2" fill="#edf2fa"/>
<rect x="353.1" y="294.1" width="47.4" height="1.44" fill="#dbe4f5"/>
<rect x="353.1" y="296.1" width="47.4" height="2" fill="#edf2fa"/>
<rect x="353.1" y="296.1" width="47.4" height="1.44" fill="#dbe4f5"/>
<rect x="353.1" y="298.1" width="47.4" height="2" fill="#edf2fa"/>
<rect x="353.1" y="298.1" width="47.4" height="1.44" fill="#dbe4f5"/>
<rect x="353.1" y="300.1" width="47.4" height="2" fill="#edf2fa"/>
<rect x="353.1" y="300.1" width="47.4" height="1.44" fill="#dbe4f5"/>
<rect x="353.1" y="302.1" width="47.4" height="2" fill="#edf2fa"/>
<rect x="353.1" y="302.1" width="47.4" height="1.44" fill="#dbe4f5"/>
<rect x="353.1" y="304.1" width="47.4" height="2" fill="#edf2fa"/>
<rect x="353.1" y="304.1" width="47.4" height="1.44" fill="#dbe4f5"/>
<rect x="425.3" y="191.5" width="9.7" height="2.01" fill="#c4d7f0"/>
<rect x="425.3" y="191.5" width="9.7" height="1.45" fill="#c8102e"/>
<rect x="425.3" y="191.5" width="9.7" height="2.01" fill="#c8102e"/>
<rect x="425.3" y="193.51" width="10.51" height="2.01" fill="#c4d7f0"/>
<rect x="425.3" y="193.51" width="10.51" height="1.45" fill="#a9c4e8"/>
<rect x="425.3" y="195.52" width="11.84" height="2.01" fill="#c4d7f0"/>
<rect x="425.3" y="195.52" width="11.84" height="1.45" fill="#a9c4e8"/>
<rect x="425.3" y="197.53" width="13.48" height="2.01" fill="#c4d7f0"/>
<rect x="425.3" y="197.53" width="13.48" height="1.45" fill="#a9c4e8"/>
<rect x="425.3" y="199.54" width="14.97" height="2.01" fill="#c4d7f0"/>
<rect x="425.3" y="199.54" width="14.97" height="1.45" fill="#c8102e"/>
<rect x="425.3" y="199.54" width="14.97" height="2.01" fill="#c8102e"/>
<rect x="425.3" y="201.55" width="15.89" height="2.01" fill="#c4d7f0"/>
<rect x="425.3" y="201.55" width="15.89" height="1.45" fill="#c8102e"/>
<rect x="425.3" y="201.55" width="15.89" height="2.01" fill="#c8102e"/>
<rect x="425.3" y="203.56" width="16.56" height="2.01" fill="#c4d7f0"/>
<rect x="425.3" y="203.56" width="16.56" height="1.45" fill="#a9c4e8"/>
<rect x="425.3" y="205.57" width="17.33" height="2.01" fill="#c4d7f0"/>
<rect x="425.3" y="205.57" width="17.33" height="1.45" fill="#a9c4e8"/>
<rect x="425.3" y="207.58" width="18.14" height="2.01" fill="#c4d7f0"/>
<rect x="425.3" y="207.58" width="18.14" height="1.45" fill="#a9c4e8"/>
<rect x="425.3" y="209.59" width="18.93" height="2.01" fill="#c4d7f0"/>
<rect x="425.3" y="209.59" width="18.93" height="1.45" fill="#a9c4e8"/>
<rect x="425.3" y="211.61" width="19.68" height="2.01" fill="#c4d7f0"/>
<rect x="425.3" y="211.61" width="19.68" height="1.45" fill="#a9c4e8"/>
<rect x="425.3" y="213.62" width="20.46" height="2.01" fill="#c4d7f0"/>
<rect x="425.3" y="213.62" width="20.46" height="1.45" fill="#c8102e"/>
<rect x="425.3" y="213.62" width="20.46" height="2.01" fill="#c8102e"/>
<rect x="425.3" y="215.63" width="21.3" height="2.01" fill="#c4d7f0"/>
<rect x="425.3" y="215.63" width="21.3" height="1.45" fill="#a9c4e8"/>
<rect x="425.3" y="217.64" width="22.13" height="2.01" fill="#c4d7f0"/>
<rect x="425.3" y="217.64" width="22.13" height="1.45" fill="#a9c4e8"/>
<rect x="425.3" y="219.65" width="22.96" height="2.01" fill="#c4d7f0"/>
<rect x="425.3" y="219.65" width="22.96" height="1.45" fill="#a9c4e8"/>
<rect x="425.3" y="221.66" width="23.77" height="2.01" fill="#c4d7f0"/>
<rect x="425.3" y="221.66" width="23.77" height="1.45" fill="#a9c4e8"/>
<rect x="425.3" y="223.67" width="24.57" height="2.01" fill="#c4d7f0"/>
<rect x="425.3" y="223.67" width="24.57" height="1.45" fill="#a9c4e8"/>
<rect x="425.3" y="225.68" width="25.26" height="2.01" fill="#c4d7f0"/>
<rect x="425.3" y="225.68" width="25.26" height="1.45" fill="#a9c4e8"/>
<rect x="425.3" y="227.69" width="26.33" height="2.01" fill="#c4d7f0"/>
<rect x="425.3" y="227.69" width="26.33" height="1.45" fill="#a9c4e8"/>
<rect x="425.3" y="229.7" width="27.82" height="2.01" fill="#c4d7f0"/>
<rect x="425.3" y="229.7" width="27.82" height="1.45" fill="#c8102e"/>
<rect x="425.3" y="229.7" width="27.82" height="2.01" fill="#c8102e"/>
<rect x="425.3" y="231.71" width="28.72" height="2.01" fill="#c4d7f0"/>
<rect x="425.3" y="231.71" width="28.72" height="1.45" fill="#c8102e"/>
<rect x="425.3" y="231.71" width="28.72" height="2.01" fill="#c8102e"/>
<rect x="425.3" y="233.72" width="29.59" height="2.01" fill="#c4d7f0"/>
<rect x="425.3" y="233.72" width="29.59" height="1.45" fill="#a9c4e8"/>
<rect x="425.3" y="235.73" width="30.39" height="2.01" fill="#c4d7f0"/>
<rect x="425.3" y="235.73" width="30.39" height="1.45" fill="#c8102e"/>
<rect x="425.3" y="235.73" width="30.39" height="2.01" fill="#c8102e"/>
<rect x="425.3" y="237.74" width="31.22" height="2.01" fill="#c4d7f0"/>
<rect x="425.3" y="237.74" width="31.22" height="1.45" fill="#a9c4e8"/>
<rect x="425.3" y="239.75" width="32.1" height="2.01" fill="#c4d7f0"/>
<rect x="425.3" y="239.75" width="32.1" height="1.45" fill="#a9c4e8"/>
<rect x="425.3" y="241.76" width="33.43" height="2.01" fill="#c4d7f0"/>
<rect x="425.3" y="241.76" width="33.43" height="1.45" fill="#a9c4e8"/>
<rect x="425.3" y="243.77" width="34.78" height="2.01" fill="#c4d7f0"/>
<rect x="425.3" y="243.77" width="34.78" height="1.45" fill="#a9c4e8"/>
<rect x="425.3" y="245.78" width="35.7" height="2.01" fill="#c4d7f0"/>
<rect x="425.3" y="245.78" width="35.7" height="1.45" fill="#a9c4e8"/>
<rect x="425.3" y="247.79" width="36.61" height="2.01" fill="#c4d7f0"/>
<rect x="425.3" y="247.79" width="36.61" height="1.45" fill="#a9c4e8"/>
<rect x="425.3" y="249.81" width="39.96" height="2.01" fill="#c4d7f0"/>
<rect x="425.3" y="249.81" width="39.96" height="1.45" fill="#c8102e"/>
<rect x="425.3" y="249.81" width="39.96" height="2.01" fill="#c8102e"/>
<rect x="425.3" y="251.82" width="41.65" height="2.01" fill="#c4d7f0"/>
<rect x="425.3" y="251.82" width="41.65" height="1.45" fill="#a9c4e8"/>
<rect x="425.3" y="253.83" width="43.45" height="2.01" fill="#c4d7f0"/>
<rect x="425.3" y="253.83" width="43.45" height="1.45" fill="#c8102e"/>
<rect x="425.3" y="253.83" width="43.45" height="2.01" fill="#c8102e"/>
<rect x="425.3" y="255.84" width="45.54" height="2.01" fill="#c4d7f0"/>
<rect x="425.3" y="255.84" width="45.54" height="1.45" fill="#a9c4e8"/>
<rect x="425.3" y="257.85" width="48.17" height="2.01" fill="#c4d7f0"/>
<rect x="425.3" y="257.85" width="48.17" height="1.45" fill="#a9c4e8"/>
<rect x="425.3" y="259.86" width="50.42" height="2.01" fill="#c4d7f0"/>
<rect x="425.3" y="259.86" width="50.42" height="1.45" fill="#c8102e"/>
<rect x="425.3" y="259.86" width="50.42" height="2.01" fill="#c8102e"/>
<rect x="425.3" y="261.87" width="51.56" height="2.01" fill="#c4d7f0"/>
<rect x="425.3" y="261.87" width="51.56" height="1.45" fill="#a9c4e8"/>
<rect x="425.3" y="263.88" width="52.56" height="2.01" fill="#c4d7f0"/>
<rect x="425.3" y="263.88" width="52.56" height="1.45" fill="#a9c4e8"/>
<rect x="425.3" y="265.89" width="53.37" height="2.01" fill="#c4d7f0"/>
<rect x="425.3" y="265.89" width="53.37" height="1.45" fill="#c8102e"/>
<rect x="425.3" y="265.89" width="53.37" height="2.01" fill="#c8102e"/>
<rect x="425.3" y="267.9" width="55.01" height="2.01" fill="#c4d7f0"/>
<rect x="425.3" y="267.9" width="55.01" height="1.45" fill="#a9c4e8"/>
<rect x="425.3" y="269.91" width="56.2" height="2.01" fill="#c4d7f0"/>
<rect x="425.3" y="269.91" width="56.2" height="1.45" fill="#a9c4e8"/>
<rect x="425.3" y="271.92" width="56.2" height="2.01" fill="#c4d7f0"/>
<rect x="425.3" y="271.92" width="56.2" height="1.45" fill="#a9c4e8"/>
<rect x="425.3" y="273.93" width="56.2" height="2.01" fill="#c4d7f0"/>
<rect x="425.3" y="273.93" width="56.2" height="1.45" fill="#a9c4e8"/>
<rect x="425.3" y="275.94" width="56.2" height="2.01" fill="#c4d7f0"/>
<rect x="425.3" y="275.94" width="56.2" height="1.45" fill="#a9c4e8"/>
<rect x="425.3" y="277.95" width="56.2" height="2.01" fill="#c4d7f0"/>
<rect x="425.3" y="277.95" width="56.2" height="1.45" fill="#c8102e"/>
<rect x="425.3" y="277.95" width="56.2" height="2.01" fill="#c8102e"/>
<rect x="425.3" y="279.96" width="56.2" height="2.01" fill="#c4d7f0"/>
<rect x="425.3" y="279.96" width="56.2" height="1.45" fill="#c8102e"/>
<rect x="425.3" y="279.96" width="56.2" height="2.01" fill="#c8102e"/>
<rect x="425.3" y="281.97" width="56.2" height="2.01" fill="#c4d7f0"/>
<rect x="425.3" y="281.97" width="56.2" height="1.45" fill="#a9c4e8"/>
<rect x="425.3" y="283.98" width="56.2" height="2.01" fill="#c4d7f0"/>
<rect x="425.3" y="283.98" width="56.2" height="1.45" fill="#a9c4e8"/>
<rect x="425.3" y="285.99" width="56.2" height="2.01" fill="#c4d7f0"/>
<rect x="425.3" y="285.99" width="56.2" height="1.45" fill="#a9c4e8"/>
<rect x="425.3" y="288.01" width="56.2" height="2.01" fill="#c4d7f0"/>
<rect x="425.3" y="288.01" width="56.2" height="1.45" fill="#a9c4e8"/>
<rect x="425.3" y="290.02" width="56.2" height="2.01" fill="#c4d7f0"/>
<rect x="425.3" y="290.02" width="56.2" height="1.45" fill="#c8102e"/>
<rect x="425.3" y="290.02" width="56.2" height="2.01" fill="#c8102e"/>
<rect x="425.3" y="292.03" width="56.2" height="2.01" fill="#c4d7f0"/>
<rect x="425.3" y="292.03" width="56.2" height="1.45" fill="#a9c4e8"/>
<rect x="425.3" y="294.04" width="56.2" height="2.01" fill="#c4d7f0"/>
<rect x="425.3" y="294.04" width="56.2" height="1.45" fill="#a9c4e8"/>
<rect x="425.3" y="296.05" width="56.2" height="2.01" fill="#c4d7f0"/>
<rect x="425.3" y="296.05" width="56.2" height="1.45" fill="#a9c4e8"/>
<rect x="425.3" y="298.06" width="56.2" height="2.01" fill="#c4d7f0"/>
<rect x="425.3" y="298.06" width="56.2" height="1.45" fill="#a9c4e8"/>
<rect x="425.3" y="300.07" width="56.2" height="2.01" fill="#c4d7f0"/>
<rect x="425.3" y="300.07" width="56.2" height="1.45" fill="#a9c4e8"/>
<rect x="425.3" y="302.08" width="56.2" height="2.01" fill="#c4d7f0"/>
<rect x="425.3" y="302.08" width="56.2" height="1.45" fill="#a9c4e8"/>
<rect x="425.3" y="304.09" width="56.2" height="2.01" fill="#c4d7f0"/>
<rect x="425.3" y="304.09" width="56.2" height="1.45" fill="#a9c4e8"/>
<line x1="350.5" y1="308" x2="402.7" y2="308" stroke="#111" stroke-width="1.1"/>
<line x1="422.3" y1="308" x2="484.2" y2="308" stroke="#111" stroke-width="1.1"/>
<line x1="353.2" y1="307" x2="353.2" y2="310.8" stroke="#111" stroke-width="0.9"/>
<text x="353.2" y="319.51" font-size="6.8" text-anchor="middle" fill="#222">0</text>
<line x1="376.5" y1="307" x2="376.5" y2="310.8" stroke="#111" stroke-width="0.9"/>
<text x="376.5" y="319.51" font-size="6.8" text-anchor="middle" fill="#222">5</text>
<line x1="400.3" y1="307" x2="400.3" y2="310.8" stroke="#111" stroke-width="0.9"/>
<text x="400.3" y="319.51" font-size="6.8" text-anchor="middle" fill="#222">10</text>
<line x1="424.6" y1="307" x2="424.6" y2="310.8" stroke="#111" stroke-width="0.9"/>
<text x="424.6" y="319.51" font-size="6.8" text-anchor="middle" fill="#222">0</text>
<line x1="448.7" y1="307" x2="448.7" y2="310.8" stroke="#111" stroke-width="0.9"/>
<text x="448.7" y="319.51" font-size="6.8" text-anchor="middle" fill="#222">5</text>
<line x1="471.7" y1="307" x2="471.7" y2="310.8" stroke="#111" stroke-width="0.9"/>
<text x="471.7" y="319.51" font-size="6.8" text-anchor="middle" fill="#222">10</text>
<text x="364.6" y="328.71" font-size="6.8" fill="#222" textLength="24.4" lengthAdjust="spacingAndGlyphs">-ln(FRD)</text>
<text x="436" y="329.01" font-size="6.8" fill="#222" textLength="25" lengthAdjust="spacingAndGlyphs">-ln(FDR)</text>
<line x1="380" y1="226" x2="388.4" y2="226" stroke="#e0502e" stroke-width="1.2"/>
<text x="390" y="227.33" font-size="6" fill="#222" textLength="30" lengthAdjust="spacingAndGlyphs">MYC related</text>
<text x="390" y="233.63" font-size="6" fill="#222" textLength="22" lengthAdjust="spacingAndGlyphs">Gene set</text>
<text x="8.5" y="344.79" font-size="11.8" font-weight="bold">E</text>
<text x="24" y="350.31" font-size="9.6" font-weight="bold">i</text>
<text x="189.8" y="350.31" font-size="9.6" font-weight="bold">ii</text>
<text x="53.8" y="359.07" font-size="6.4" fill="#222" textLength="71.2" lengthAdjust="spacingAndGlyphs"><tspan font-style="italic">p53</tspan><tspan font-size="3.84" baseline-shift="super">-/-</tspan> <tspan font-style="italic">VAV1-Tg</tspan> T-LBL <tspan font-style="italic">vs.</tspan></text>
<text x="73" y="366.67" font-size="6.4" fill="#222" textLength="32.8" lengthAdjust="spacingAndGlyphs"><tspan font-style="italic">p53</tspan><tspan font-size="3.84" baseline-shift="super">-/-</tspan> T-LBL</text>
<text x="218.6" y="357.67" font-size="6.4" fill="#222" textLength="66.6" lengthAdjust="spacingAndGlyphs"><tspan font-style="italic">p53</tspan><tspan font-size="3.84" baseline-shift="super">-/-</tspan> <tspan font-style="italic">VAV1-Tg</tspan> Lym vs.</text>
<text x="228.7" y="365.07" font-size="6.4" fill="#222" textLength="46.3" lengthAdjust="spacingAndGlyphs">WT Splenocytes</text>
<line x1="62.29" y1="383.6" x2="62.29" y2="442.6" stroke="#ececec" stroke-width="0.5"/>
<line x1="73.77" y1="383.6" x2="73.77" y2="442.6" stroke="#ececec" stroke-width="0.5"/>
<line x1="85.26" y1="383.6" x2="85.26" y2="442.6" stroke="#ececec" stroke-width="0.5"/>
<line x1="96.74" y1="383.6" x2="96.74" y2="442.6" stroke="#ececec" stroke-width="0.5"/>
<line x1="108.23" y1="383.6" x2="108.23" y2="442.6" stroke="#ececec" stroke-width="0.5"/>
<line x1="119.71" y1="383.6" x2="119.71" y2="442.6" stroke="#ececec" stroke-width="0.5"/>
<line x1="50.8" y1="385.9" x2="131.2" y2="385.9" stroke="#efefef" stroke-width="0.5"/>
<line x1="50.8" y1="397.5" x2="131.2" y2="397.5" stroke="#efefef" stroke-width="0.5"/>
<line x1="50.8" y1="407.7" x2="131.2" y2="407.7" stroke="#efefef" stroke-width="0.5"/>
<line x1="50.8" y1="419" x2="131.2" y2="419" stroke="#efefef" stroke-width="0.5"/>
<line x1="50.8" y1="429.8" x2="131.2" y2="429.8" stroke="#efefef" stroke-width="0.5"/>
<line x1="50.8" y1="441.1" x2="131.2" y2="441.1" stroke="#efefef" stroke-width="0.5"/>
<line x1="50.8" y1="429.8" x2="131.2" y2="429.8" stroke="#bdbdbd" stroke-width="0.6"/>
<line x1="50.8" y1="442.6" x2="131.2" y2="442.6" stroke="#c8c8c8" stroke-width="0.6"/>
<rect x="54" y="443.1" width="0.5" height="19" fill="#999999"/>
<rect x="54.5" y="443.1" width="0.5" height="19" fill="#aaaaaa"/>
<rect x="55" y="443.1" width="0.5" height="19" fill="#8e8e8e"/>
<rect x="55.5" y="443.1" width="0.2" height="19" fill="#acacac"/>
<rect x="56" y="443.1" width="0.5" height="19" fill="#686868"/>
<rect x="56.5" y="443.1" width="0.5" height="19" fill="#424242"/>
<rect x="57" y="443.1" width="0.5" height="19" fill="#858585"/>
<rect x="57.5" y="443.1" width="0.5" height="19" fill="#737373"/>
<rect x="58" y="443.1" width="0.5" height="19" fill="#585858"/>
<rect x="58.5" y="443.1" width="0.4" height="19" fill="#858585"/>
<rect x="59.7" y="443.1" width="0.5" height="19" fill="#808080"/>
<rect x="60.2" y="443.1" width="0.5" height="19" fill="#4d4d4d"/>
<rect x="60.7" y="443.1" width="0.2" height="19" fill="#414141"/>
<rect x="61.3" y="443.1" width="0.5" height="19" fill="#a6a6a6"/>
<rect x="61.8" y="443.1" width="0.5" height="19" fill="#b0b0b0"/>
<rect x="62.3" y="443.1" width="0.5" height="19" fill="#747474"/>
<rect x="62.8" y="443.1" width="0.5" height="19" fill="#a6a6a6"/>
<rect x="63.3" y="443.1" width="0.5" height="19" fill="#919191"/>
<rect x="63.8" y="443.1" width="0.3" height="19" fill="#909090"/>
<rect x="65" y="443.1" width="0.5" height="19" fill="#424242"/>
<rect x="65.5" y="443.1" width="0.5" height="19" fill="#2c2c2c"/>
<rect x="66" y="443.1" width="0.2" height="19" fill="#292929"/>
<rect x="66.6" y="443.1" width="0.5" height="19" fill="#707070"/>
<rect x="67.1" y="443.1" width="0.5" height="19" fill="#666666"/>
<rect x="67.6" y="443.1" width="0.5" height="19" fill="#696969"/>
<rect x="68.1" y="443.1" width="0.5" height="19" fill="#747474"/>
<rect x="68.6" y="443.1" width="0.5" height="19" fill="#848484"/>
<rect x="69.1" y="443.1" width="0.5" height="19" fill="#949494"/>
<rect x="69.6" y="443.1" width="0.2" height="19" fill="#919191"/>
<rect x="70.2" y="443.1" width="0.5" height="19" fill="#2b2b2b"/>
<rect x="70.7" y="443.1" width="0.3" height="19" fill="#3d3d3d"/>
<rect x="71.4" y="443.1" width="0.5" height="19" fill="#eaeaea"/>
<rect x="71.9" y="443.1" width="0.5" height="19" fill="#acacac"/>
<rect x="72.4" y="443.1" width="0.5" height="19" fill="#dddddd"/>
<rect x="72.9" y="443.1" width="0.1" height="19" fill="#bdbdbd"/>
<rect x="73.4" y="443.1" width="0.5" height="19" fill="#a8a8a8"/>
<rect x="73.9" y="443.1" width="0.5" height="19" fill="#b7b7b7"/>
<rect x="74.4" y="443.1" width="0.5" height="19" fill="#bbbbbb"/>
<rect x="74.9" y="443.1" width="0.5" height="19" fill="#9f9f9f"/>
<rect x="75.4" y="443.1" width="0.4" height="19" fill="#acacac"/>
<rect x="77" y="443.1" width="0.5" height="19" fill="#b5b5b5"/>
<rect x="77.5" y="443.1" width="0.5" height="19" fill="#b0b0b0"/>
<rect x="78" y="443.1" width="0.5" height="19" fill="#a6a6a6"/>
<rect x="78.5" y="443.1" width="0.2" height="19" fill="#a4a4a4"/>
<rect x="81.1" y="443.1" width="0.5" height="19" fill="#9c9c9c"/>
<rect x="81.6" y="443.1" width="0.3" height="19" fill="#828282"/>
<rect x="83.9" y="443.1" width="0.5" height="19" fill="#999999"/>
<rect x="84.4" y="443.1" width="0.5" height="19" fill="#7b7b7b"/>
<rect x="84.9" y="443.1" width="0.5" height="19" fill="#808080"/>
<rect x="85.4" y="443.1" width="0.5" height="19" fill="#808080"/>
<rect x="85.9" y="443.1" width="0.5" height="19" fill="#b5b5b5"/>
<rect x="86.4" y="443.1" width="0.5" height="19" fill="#939393"/>
<rect x="86.9" y="443.1" width="0.5" height="19" fill="#979797"/>
<rect x="87.4" y="443.1" width="0.2" height="19" fill="#b8b8b8"/>
<rect x="93.9" y="443.1" width="0.5" height="19" fill="#bcbcbc"/>
<rect x="94.4" y="443.1" width="0.5" height="19" fill="#b1b1b1"/>
<rect x="94.9" y="443.1" width="0.5" height="19" fill="#d8d8d8"/>
<rect x="95.4" y="443.1" width="0.5" height="19" fill="#d8d8d8"/>
<rect x="95.9" y="443.1" width="0.5" height="19" fill="#ababab"/>
<rect x="96.4" y="443.1" width="0.5" height="19" fill="#b9b9b9"/>
<rect x="96.9" y="443.1" width="0.5" height="19" fill="#8d8d8d"/>
<rect x="97.4" y="443.1" width="0.5" height="19" fill="#979797"/>
<rect x="97.9" y="443.1" width="0.5" height="19" fill="#999999"/>
<rect x="98.4" y="443.1" width="0.5" height="19" fill="#9b9b9b"/>
<rect x="98.9" y="443.1" width="0.1" height="19" fill="#c7c7c7"/>
<rect x="100.2" y="443.1" width="0.5" height="19" fill="#545454"/>
<rect x="100.7" y="443.1" width="0.1" height="19" fill="#848484"/>
<rect x="101" y="443.1" width="0.5" height="19" fill="#e7e7e7"/>
<rect x="101.5" y="443.1" width="0.5" height="19" fill="#d5d5d5"/>
<rect x="102" y="443.1" width="0.5" height="19" fill="#dfdfdf"/>
<rect x="102.5" y="443.1" width="0.5" height="19" fill="#efefef"/>
<rect x="103" y="443.1" width="0.5" height="19" fill="#cacaca"/>
<rect x="103.5" y="443.1" width="0.5" height="19" fill="#a8a8a8"/>
<rect x="104" y="443.1" width="0.5" height="19" fill="#ececec"/>
<rect x="104.5" y="443.1" width="0.5" height="19" fill="#e0e0e0"/>
<rect x="105.4" y="443.1" width="0.5" height="19" fill="#454545"/>
<rect x="105.9" y="443.1" width="0.3" height="19" fill="#636363"/>
<rect x="106.6" y="443.1" width="0.5" height="19" fill="#9b9b9b"/>
<rect x="107.1" y="443.1" width="0.5" height="19" fill="#9f9f9f"/>
<rect x="107.6" y="443.1" width="0.5" height="19" fill="#808080"/>
<rect x="108.1" y="443.1" width="0.5" height="19" fill="#9b9b9b"/>
<rect x="108.6" y="443.1" width="0.5" height="19" fill="#a0a0a0"/>
<rect x="109.1" y="443.1" width="0.5" height="19" fill="#a3a3a3"/>
<rect x="109.6" y="443.1" width="0.5" height="19" fill="#838383"/>
<rect x="110.1" y="443.1" width="0.4" height="19" fill="#bdbdbd"/>
<rect x="111.3" y="443.1" width="0.5" height="19" fill="#d0d0d0"/>
<rect x="111.8" y="443.1" width="0.2" height="19" fill="#c1c1c1"/>
<rect x="115" y="443.1" width="0.5" height="19" fill="#8b8b8b"/>
<rect x="115.5" y="443.1" width="0.5" height="19" fill="#747474"/>
<rect x="116.5" y="443.1" width="0.5" height="19" fill="#b1b1b1"/>
<rect x="117" y="443.1" width="0.5" height="19" fill="#9a9a9a"/>
<rect x="117.5" y="443.1" width="0.5" height="19" fill="#a4a4a4"/>
<rect x="118" y="443.1" width="0.5" height="19" fill="#a5a5a5"/>
<rect x="118.5" y="443.1" width="0.5" height="19" fill="#686868"/>
<rect x="119" y="443.1" width="0.5" height="19" fill="#5e5e5e"/>
<rect x="119.5" y="443.1" width="0.5" height="19" fill="#383838"/>
<rect x="120" y="443.1" width="0.5" height="19" fill="#767676"/>
<rect x="120.5" y="443.1" width="0.5" height="19" fill="#787878"/>
<rect x="122" y="443.1" width="0.5" height="19" fill="#808080"/>
<rect x="122.5" y="443.1" width="0.5" height="19" fill="#888888"/>
<polyline points="51,421 52.5,414 53.8,406.4 54.6,407.3 56.3,399.8 58.7,390.7 61.2,387.4 63.7,387.4 65.4,386.6 67.5,384.6 68.7,384.1 71.1,385.8 76.1,391.6 81.1,398.2 86,404.8 91,411.4 95.9,419.7 100.9,426.3 104.2,429.6 109.2,432.9 112.5,436.2 114.9,438.7 118.2,438.7 119.9,434.5 120.7,429.6 121.6,429.6 122.7,423.3 124,424.6 126.5,428.8" fill="none" stroke="#84e236" stroke-width="1.2" stroke-linejoin="round"/>
<rect x="50.8" y="383.6" width="80.4" height="78.5" fill="none" stroke="#111" stroke-width="1.2"/>
<line x1="46.5" y1="385.9" x2="50.8" y2="385.9" stroke="#111" stroke-width="0.9"/>
<text x="44.6" y="388.24" font-size="6.6" text-anchor="end" fill="#222">0.40</text>
<line x1="46.5" y1="397.5" x2="50.8" y2="397.5" stroke="#111" stroke-width="0.9"/>
<text x="44.6" y="399.84" font-size="6.6" text-anchor="end" fill="#222">0.30</text>
<line x1="46.5" y1="407.7" x2="50.8" y2="407.7" stroke="#111" stroke-width="0.9"/>
<text x="44.6" y="410.04" font-size="6.6" text-anchor="end" fill="#222">0.20</text>
<line x1="46.5" y1="419" x2="50.8" y2="419" stroke="#111" stroke-width="0.9"/>
<text x="44.6" y="421.34" font-size="6.6" text-anchor="end" fill="#222">0.10</text>
<line x1="46.5" y1="429.8" x2="50.8" y2="429.8" stroke="#111" stroke-width="0.9"/>
<text x="44.6" y="432.14" font-size="6.6" text-anchor="end" fill="#222">0.00</text>
<line x1="46.5" y1="441.1" x2="50.8" y2="441.1" stroke="#111" stroke-width="0.9"/>
<text x="44.6" y="443.44" font-size="6.6" text-anchor="end" fill="#222">-0.10</text>
<text x="103.8" y="391.39" font-size="5.6" fill="#222">NES=1.50</text>
<text x="103.8" y="396.99" font-size="5.6" fill="#222">FDR=0.0</text>
<text x="103.8" y="402.59" font-size="5.6" fill="#222">p=0</text>
<line x1="227.8" y1="383.8" x2="227.8" y2="442.8" stroke="#ececec" stroke-width="0.5"/>
<line x1="239.2" y1="383.8" x2="239.2" y2="442.8" stroke="#ececec" stroke-width="0.5"/>
<line x1="250.6" y1="383.8" x2="250.6" y2="442.8" stroke="#ececec" stroke-width="0.5"/>
<line x1="262" y1="383.8" x2="262" y2="442.8" stroke="#ececec" stroke-width="0.5"/>
<line x1="273.4" y1="383.8" x2="273.4" y2="442.8" stroke="#ececec" stroke-width="0.5"/>
<line x1="284.8" y1="383.8" x2="284.8" y2="442.8" stroke="#ececec" stroke-width="0.5"/>
<line x1="216.4" y1="389.2" x2="296.2" y2="389.2" stroke="#efefef" stroke-width="0.5"/>
<line x1="216.4" y1="397.3" x2="296.2" y2="397.3" stroke="#efefef" stroke-width="0.5"/>
<line x1="216.4" y1="405.8" x2="296.2" y2="405.8" stroke="#efefef" stroke-width="0.5"/>
<line x1="216.4" y1="414.2" x2="296.2" y2="414.2" stroke="#efefef" stroke-width="0.5"/>
<line x1="216.4" y1="422.7" x2="296.2" y2="422.7" stroke="#efefef" stroke-width="0.5"/>
<line x1="216.4" y1="431.2" x2="296.2" y2="431.2" stroke="#efefef" stroke-width="0.5"/>
<line x1="216.4" y1="440" x2="296.2" y2="440" stroke="#efefef" stroke-width="0.5"/>
<line x1="216.4" y1="440" x2="296.2" y2="440" stroke="#bdbdbd" stroke-width="0.6"/>
<line x1="216.4" y1="442.8" x2="296.2" y2="442.8" stroke="#c8c8c8" stroke-width="0.6"/>
<rect x="216.8" y="443.3" width="0.5" height="19.7" fill="#0c0c0c"/>
<rect x="217.3" y="443.3" width="0.5" height="19.7" fill="#1b1b1b"/>
<rect x="217.8" y="443.3" width="0.5" height="19.7" fill="#161616"/>
<rect x="218.3" y="443.3" width="0.5" height="19.7" fill="#282828"/>
<rect x="218.8" y="443.3" width="0.5" height="19.7" fill="#2f2f2f"/>
<rect x="219.3" y="443.3" width="0.5" height="19.7" fill="#202020"/>
<rect x="219.8" y="443.3" width="0.5" height="19.7" fill="#383838"/>
<rect x="220.3" y="443.3" width="0.5" height="19.7" fill="#0c0c0c"/>
<rect x="220.8" y="443.3" width="0.5" height="19.7" fill="#232323"/>
<rect x="221.3" y="443.3" width="0.3" height="19.7" fill="#0d0d0d"/>
<rect x="221.6" y="443.3" width="0.5" height="19.7" fill="#828282"/>
<rect x="222.1" y="443.3" width="0.5" height="19.7" fill="#656565"/>
<rect x="222.6" y="443.3" width="0.4" height="19.7" fill="#828282"/>
<rect x="223" y="443.3" width="0.5" height="19.7" fill="#afafaf"/>
<rect x="223.5" y="443.3" width="0.5" height="19.7" fill="#7c7c7c"/>
<rect x="224" y="443.3" width="0.5" height="19.7" fill="#696969"/>
<rect x="224.5" y="443.3" width="0.5" height="19.7" fill="#838383"/>
<rect x="225" y="443.3" width="0.5" height="19.7" fill="#7c7c7c"/>
<rect x="225.5" y="443.3" width="0.5" height="19.7" fill="#959595"/>
<rect x="226" y="443.3" width="0.5" height="19.7" fill="#9d9d9d"/>
<rect x="226.5" y="443.3" width="0.5" height="19.7" fill="#9c9c9c"/>
<rect x="227" y="443.3" width="0.5" height="19.7" fill="#828282"/>
<rect x="227.5" y="443.3" width="0.5" height="19.7" fill="#696969"/>
<rect x="228.5" y="443.3" width="0.5" height="19.7" fill="#e8e8e8"/>
<rect x="230" y="443.3" width="0.5" height="19.7" fill="#5a5a5a"/>
<rect x="230.5" y="443.3" width="0.5" height="19.7" fill="#626262"/>
<rect x="231" y="443.3" width="0.5" height="19.7" fill="#2d2d2d"/>
<rect x="231.5" y="443.3" width="0.5" height="19.7" fill="#2a2a2a"/>
<rect x="232" y="443.3" width="0.5" height="19.7" fill="#404040"/>
<rect x="232.5" y="443.3" width="0.1" height="19.7" fill="#535353"/>
<rect x="238.6" y="443.3" width="0.5" height="19.7" fill="#424242"/>
<rect x="239.1" y="443.3" width="0.1" height="19.7" fill="#2e2e2e"/>
<rect x="239.5" y="443.3" width="0.5" height="19.7" fill="#c8c8c8"/>
<rect x="240" y="443.3" width="0.5" height="19.7" fill="#9a9a9a"/>
<rect x="240.5" y="443.3" width="0.5" height="19.7" fill="#9e9e9e"/>
<rect x="241" y="443.3" width="0.5" height="19.7" fill="#bcbcbc"/>
<rect x="241.5" y="443.3" width="0.5" height="19.7" fill="#bbbbbb"/>
<rect x="242" y="443.3" width="0.5" height="19.7" fill="#c1c1c1"/>
<rect x="242.5" y="443.3" width="0.5" height="19.7" fill="#cccccc"/>
<rect x="243" y="443.3" width="0.5" height="19.7" fill="#a9a9a9"/>
<rect x="243.5" y="443.3" width="0.5" height="19.7" fill="#afafaf"/>
<rect x="244" y="443.3" width="0.5" height="19.7" fill="#d1d1d1"/>
<rect x="244.5" y="443.3" width="0.5" height="19.7" fill="#b1b1b1"/>
<rect x="245" y="443.3" width="0.5" height="19.7" fill="#c4c4c4"/>
<rect x="245.5" y="443.3" width="0.5" height="19.7" fill="#c3c3c3"/>
<rect x="250.5" y="443.3" width="0.5" height="19.7" fill="#b4b4b4"/>
<rect x="251" y="443.3" width="0.5" height="19.7" fill="#f0f0f0"/>
<rect x="251.5" y="443.3" width="0.5" height="19.7" fill="#e6e6e6"/>
<rect x="254" y="443.3" width="0.5" height="19.7" fill="#eaeaea"/>
<rect x="254.5" y="443.3" width="0.5" height="19.7" fill="#d9d9d9"/>
<rect x="266.2" y="443.3" width="0.4" height="19.7" fill="#a2a2a2"/>
<rect x="271.7" y="443.3" width="0.5" height="19.7" fill="#9b9b9b"/>
<rect x="272.2" y="443.3" width="0.5" height="19.7" fill="#c6c6c6"/>
<rect x="272.7" y="443.3" width="0.5" height="19.7" fill="#acacac"/>
<rect x="273.2" y="443.3" width="0.5" height="19.7" fill="#b3b3b3"/>
<rect x="273.7" y="443.3" width="0.5" height="19.7" fill="#838383"/>
<rect x="274.2" y="443.3" width="0.5" height="19.7" fill="#9f9f9f"/>
<rect x="274.7" y="443.3" width="0.3" height="19.7" fill="#b6b6b6"/>
<rect x="276" y="443.3" width="0.5" height="19.7" fill="#cfcfcf"/>
<rect x="276.5" y="443.3" width="0.5" height="19.7" fill="#c0c0c0"/>
<rect x="277" y="443.3" width="0.5" height="19.7" fill="#bababa"/>
<rect x="277.5" y="443.3" width="0.5" height="19.7" fill="#c6c6c6"/>
<rect x="279" y="443.3" width="0.5" height="19.7" fill="#979797"/>
<rect x="279.5" y="443.3" width="0.5" height="19.7" fill="#9a9a9a"/>
<rect x="281" y="443.3" width="0.5" height="19.7" fill="#818181"/>
<rect x="281.5" y="443.3" width="0.5" height="19.7" fill="#5a5a5a"/>
<rect x="282" y="443.3" width="0.5" height="19.7" fill="#828282"/>
<rect x="282.5" y="443.3" width="0.5" height="19.7" fill="#8c8c8c"/>
<rect x="283" y="443.3" width="0.5" height="19.7" fill="#717171"/>
<rect x="283.5" y="443.3" width="0.5" height="19.7" fill="#9a9a9a"/>
<rect x="285" y="443.3" width="0.5" height="19.7" fill="#b5b5b5"/>
<rect x="285.5" y="443.3" width="0.5" height="19.7" fill="#cccccc"/>
<rect x="286" y="443.3" width="0.5" height="19.7" fill="#e5e5e5"/>
<rect x="286.5" y="443.3" width="0.5" height="19.7" fill="#adadad"/>
<rect x="287" y="443.3" width="0.5" height="19.7" fill="#ababab"/>
<rect x="287.5" y="443.3" width="0.5" height="19.7" fill="#dddddd"/>
<rect x="288.5" y="443.3" width="0.5" height="19.7" fill="#878787"/>
<rect x="289" y="443.3" width="0.3" height="19.7" fill="#838383"/>
<rect x="290" y="443.3" width="0.5" height="19.7" fill="#a0a0a0"/>
<rect x="290.5" y="443.3" width="0.5" height="19.7" fill="#a1a1a1"/>
<polyline points="216.8,425 217,419.7 218.1,409.8 219.8,396.5 221.4,389.9 223.9,387.9 227.2,386.6 230.5,386.9 233.5,386.3 235.5,388.3 238,390.7 240.4,391.9 243.8,394.9 247.1,398.2 252,403.1 257,408.9 263.6,416.4 270.2,423.8 276.8,430.4 281.8,434.5 285.1,437 287.6,439.5 290,439.8 292.5,439.5" fill="none" stroke="#84e236" stroke-width="1.2" stroke-linejoin="round"/>
<rect x="216.4" y="383.8" width="79.8" height="79.2" fill="none" stroke="#111" stroke-width="1.2"/>
<line x1="212.1" y1="389.2" x2="216.4" y2="389.2" stroke="#111" stroke-width="0.9"/>
<text x="210.2" y="391.54" font-size="6.6" text-anchor="end" fill="#222">0.60</text>
<line x1="212.1" y1="397.3" x2="216.4" y2="397.3" stroke="#111" stroke-width="0.9"/>
<text x="210.2" y="399.64" font-size="6.6" text-anchor="end" fill="#222">0.50</text>
<line x1="212.1" y1="405.8" x2="216.4" y2="405.8" stroke="#111" stroke-width="0.9"/>
<text x="210.2" y="408.14" font-size="6.6" text-anchor="end" fill="#222">0.40</text>
<line x1="212.1" y1="414.2" x2="216.4" y2="414.2" stroke="#111" stroke-width="0.9"/>
<text x="210.2" y="416.54" font-size="6.6" text-anchor="end" fill="#222">0.30</text>
<line x1="212.1" y1="422.7" x2="216.4" y2="422.7" stroke="#111" stroke-width="0.9"/>
<text x="210.2" y="425.04" font-size="6.6" text-anchor="end" fill="#222">0.20</text>
<line x1="212.1" y1="431.2" x2="216.4" y2="431.2" stroke="#111" stroke-width="0.9"/>
<text x="210.2" y="433.54" font-size="6.6" text-anchor="end" fill="#222">0.10</text>
<line x1="212.1" y1="440" x2="216.4" y2="440" stroke="#111" stroke-width="0.9"/>
<text x="210.2" y="442.34" font-size="6.6" text-anchor="end" fill="#222">0.00</text>
<text x="265.6" y="393.19" font-size="5.6" fill="#222">NES=1.96</text>
<text x="265.6" y="398.99" font-size="5.6" fill="#222">FDR=0.0</text>
<text x="265.6" y="404.99" font-size="5.6" fill="#222">p=0</text>
<text x="26.3" y="425.84" font-size="8" text-anchor="middle" fill="#222" textLength="51.5" lengthAdjust="spacingAndGlyphs" transform="rotate(-90 26.3 423)">Enrichment score</text>
<text x="190.3" y="426.64" font-size="8" text-anchor="middle" fill="#222" textLength="51.5" lengthAdjust="spacingAndGlyphs" transform="rotate(-90 190.3 423.8)">Enrichment score</text>
<text x="52.5" y="470.74" font-size="6.6" fill="#222" textLength="44.5" lengthAdjust="spacingAndGlyphs"><tspan font-style="italic">p53</tspan><tspan font-size="3.96" baseline-shift="super">-/-</tspan> <tspan font-style="italic">VAV1-Tg</tspan></text>
<text x="115.8" y="470.74" font-size="6.6" fill="#222" textLength="14.5" lengthAdjust="spacingAndGlyphs"><tspan font-style="italic">p53</tspan><tspan font-size="3.96" baseline-shift="super">-/-</tspan></text>
<text x="213.8" y="470.14" font-size="6.6" fill="#222" textLength="44.6" lengthAdjust="spacingAndGlyphs"><tspan font-style="italic">p53</tspan><tspan font-size="3.96" baseline-shift="super">-/-</tspan> <tspan font-style="italic">VAV1-Tg</tspan></text>
<text x="285.9" y="470.14" font-size="6.6" fill="#222" textLength="9.5" lengthAdjust="spacingAndGlyphs">WT</text>
<rect x="131.6" y="382.4" width="3.48" height="5.79" fill="#d6120e"/>
<rect x="135.08" y="382.4" width="3.48" height="5.79" fill="#e85858"/>
<rect x="138.56" y="382.4" width="3.48" height="5.79" fill="#e85858"/>
<rect x="142.04" y="382.4" width="3.48" height="5.79" fill="#d6120e"/>
<rect x="145.52" y="382.4" width="3.48" height="5.79" fill="#4800d4"/>
<rect x="149" y="382.4" width="3.48" height="5.79" fill="#4800d4"/>
<rect x="131.6" y="388.19" width="3.48" height="5.79" fill="#e85858"/>
<rect x="135.08" y="388.19" width="3.48" height="5.79" fill="#d6120e"/>
<rect x="138.56" y="388.19" width="3.48" height="5.79" fill="#e85858"/>
<rect x="142.04" y="388.19" width="3.48" height="5.79" fill="#f6b2c6"/>
<rect x="145.52" y="388.19" width="3.48" height="5.79" fill="#4800d4"/>
<rect x="149" y="388.19" width="3.48" height="5.79" fill="#4800d4"/>
<rect x="131.6" y="393.97" width="3.48" height="5.79" fill="#e85858"/>
<rect x="135.08" y="393.97" width="3.48" height="5.79" fill="#e85858"/>
<rect x="138.56" y="393.97" width="3.48" height="5.79" fill="#d6120e"/>
<rect x="142.04" y="393.97" width="3.48" height="5.79" fill="#dee0fa"/>
<rect x="145.52" y="393.97" width="3.48" height="5.79" fill="#4800d4"/>
<rect x="149" y="393.97" width="3.48" height="5.79" fill="#4800d4"/>
<rect x="131.6" y="399.76" width="3.48" height="5.79" fill="#d6120e"/>
<rect x="135.08" y="399.76" width="3.48" height="5.79" fill="#d6120e"/>
<rect x="138.56" y="399.76" width="3.48" height="5.79" fill="#d6120e"/>
<rect x="142.04" y="399.76" width="3.48" height="5.79" fill="#dee0fa"/>
<rect x="145.52" y="399.76" width="3.48" height="5.79" fill="#4800d4"/>
<rect x="149" y="399.76" width="3.48" height="5.79" fill="#4800d4"/>
<rect x="131.6" y="405.55" width="3.48" height="5.79" fill="#f6b2c6"/>
<rect x="135.08" y="405.55" width="3.48" height="5.79" fill="#dee0fa"/>
<rect x="138.56" y="405.55" width="3.48" height="5.79" fill="#d6120e"/>
<rect x="142.04" y="405.55" width="3.48" height="5.79" fill="#e85858"/>
<rect x="145.52" y="405.55" width="3.48" height="5.79" fill="#4800d4"/>
<rect x="149" y="405.55" width="3.48" height="5.79" fill="#4800d4"/>
<rect x="131.6" y="411.33" width="3.48" height="5.79" fill="#d6120e"/>
<rect x="135.08" y="411.33" width="3.48" height="5.79" fill="#d6120e"/>
<rect x="138.56" y="411.33" width="3.48" height="5.79" fill="#e85858"/>
<rect x="142.04" y="411.33" width="3.48" height="5.79" fill="#f6b2c6"/>
<rect x="145.52" y="411.33" width="3.48" height="5.79" fill="#4800d4"/>
<rect x="149" y="411.33" width="3.48" height="5.79" fill="#4800d4"/>
<rect x="131.6" y="417.12" width="3.48" height="5.79" fill="#dee0fa"/>
<rect x="135.08" y="417.12" width="3.48" height="5.79" fill="#e85858"/>
<rect x="138.56" y="417.12" width="3.48" height="5.79" fill="#d6120e"/>
<rect x="142.04" y="417.12" width="3.48" height="5.79" fill="#f6b2c6"/>
<rect x="145.52" y="417.12" width="3.48" height="5.79" fill="#4800d4"/>
<rect x="149" y="417.12" width="3.48" height="5.79" fill="#4800d4"/>
<rect x="131.6" y="422.91" width="3.48" height="5.79" fill="#e85858"/>
<rect x="135.08" y="422.91" width="3.48" height="5.79" fill="#e85858"/>
<rect x="138.56" y="422.91" width="3.48" height="5.79" fill="#f6b2c6"/>
<rect x="142.04" y="422.91" width="3.48" height="5.79" fill="#d6120e"/>
<rect x="145.52" y="422.91" width="3.48" height="5.79" fill="#4800d4"/>
<rect x="149" y="422.91" width="3.48" height="5.79" fill="#4800d4"/>
<rect x="131.6" y="428.7" width="3.48" height="5.79" fill="#d6120e"/>
<rect x="135.08" y="428.7" width="3.48" height="5.79" fill="#dee0fa"/>
<rect x="138.56" y="428.7" width="3.48" height="5.79" fill="#f6b2c6"/>
<rect x="142.04" y="428.7" width="3.48" height="5.79" fill="#e85858"/>
<rect x="145.52" y="428.7" width="3.48" height="5.79" fill="#4800d4"/>
<rect x="149" y="428.7" width="3.48" height="5.79" fill="#4800d4"/>
<rect x="131.6" y="434.48" width="3.48" height="5.79" fill="#d6120e"/>
<rect x="135.08" y="434.48" width="3.48" height="5.79" fill="#f6b2c6"/>
<rect x="138.56" y="434.48" width="3.48" height="5.79" fill="#e85858"/>
<rect x="142.04" y="434.48" width="3.48" height="5.79" fill="#d6120e"/>
<rect x="145.52" y="434.48" width="3.48" height="5.79" fill="#4800d4"/>
<rect x="149" y="434.48" width="3.48" height="5.79" fill="#4800d4"/>
<rect x="131.6" y="440.27" width="3.48" height="5.79" fill="#f6b2c6"/>
<rect x="135.08" y="440.27" width="3.48" height="5.79" fill="#d6120e"/>
<rect x="138.56" y="440.27" width="3.48" height="5.79" fill="#d6120e"/>
<rect x="142.04" y="440.27" width="3.48" height="5.79" fill="#6e73f5"/>
<rect x="145.52" y="440.27" width="3.48" height="5.79" fill="#4800d4"/>
<rect x="149" y="440.27" width="3.48" height="5.79" fill="#4800d4"/>
<rect x="131.6" y="446.06" width="3.48" height="5.79" fill="#e85858"/>
<rect x="135.08" y="446.06" width="3.48" height="5.79" fill="#d6120e"/>
<rect x="138.56" y="446.06" width="3.48" height="5.79" fill="#f6b2c6"/>
<rect x="142.04" y="446.06" width="3.48" height="5.79" fill="#d6120e"/>
<rect x="145.52" y="446.06" width="3.48" height="5.79" fill="#4800d4"/>
<rect x="149" y="446.06" width="3.48" height="5.79" fill="#4800d4"/>
<rect x="131.6" y="451.84" width="3.48" height="5.79" fill="#f6b2c6"/>
<rect x="135.08" y="451.84" width="3.48" height="5.79" fill="#e85858"/>
<rect x="138.56" y="451.84" width="3.48" height="5.79" fill="#d6120e"/>
<rect x="142.04" y="451.84" width="3.48" height="5.79" fill="#96a0fa"/>
<rect x="145.52" y="451.84" width="3.48" height="5.79" fill="#4800d4"/>
<rect x="149" y="451.84" width="3.48" height="5.79" fill="#4800d4"/>
<rect x="131.6" y="457.63" width="3.48" height="5.79" fill="#e85858"/>
<rect x="135.08" y="457.63" width="3.48" height="5.79" fill="#f6b2c6"/>
<rect x="138.56" y="457.63" width="3.48" height="5.79" fill="#d6120e"/>
<rect x="142.04" y="457.63" width="3.48" height="5.79" fill="#96a0fa"/>
<rect x="145.52" y="457.63" width="3.48" height="5.79" fill="#4800d4"/>
<rect x="149" y="457.63" width="3.48" height="5.79" fill="#4800d4"/>
<rect x="131.6" y="463.42" width="3.48" height="5.79" fill="#f6b2c6"/>
<rect x="135.08" y="463.42" width="3.48" height="5.79" fill="#f6b2c6"/>
<rect x="138.56" y="463.42" width="3.48" height="5.79" fill="#d6120e"/>
<rect x="142.04" y="463.42" width="3.48" height="5.79" fill="#d6120e"/>
<rect x="145.52" y="463.42" width="3.48" height="5.79" fill="#4800d4"/>
<rect x="149" y="463.42" width="3.48" height="5.79" fill="#4800d4"/>
<line x1="131.6" y1="388.19" x2="152.48" y2="388.19" stroke="#000" stroke-width="0.5" stroke-opacity="0.5"/>
<line x1="131.6" y1="393.97" x2="152.48" y2="393.97" stroke="#000" stroke-width="0.5" stroke-opacity="0.5"/>
<line x1="131.6" y1="399.76" x2="152.48" y2="399.76" stroke="#000" stroke-width="0.5" stroke-opacity="0.5"/>
<line x1="131.6" y1="405.55" x2="152.48" y2="405.55" stroke="#000" stroke-width="0.5" stroke-opacity="0.5"/>
<line x1="131.6" y1="411.33" x2="152.48" y2="411.33" stroke="#000" stroke-width="0.5" stroke-opacity="0.5"/>
<line x1="131.6" y1="417.12" x2="152.48" y2="417.12" stroke="#000" stroke-width="0.5" stroke-opacity="0.5"/>
<line x1="131.6" y1="422.91" x2="152.48" y2="422.91" stroke="#000" stroke-width="0.5" stroke-opacity="0.5"/>
<line x1="131.6" y1="428.7" x2="152.48" y2="428.7" stroke="#000" stroke-width="0.5" stroke-opacity="0.5"/>
<line x1="131.6" y1="434.48" x2="152.48" y2="434.48" stroke="#000" stroke-width="0.5" stroke-opacity="0.5"/>
<line x1="131.6" y1="440.27" x2="152.48" y2="440.27" stroke="#000" stroke-width="0.5" stroke-opacity="0.5"/>
<line x1="131.6" y1="446.06" x2="152.48" y2="446.06" stroke="#000" stroke-width="0.5" stroke-opacity="0.5"/>
<line x1="131.6" y1="451.84" x2="152.48" y2="451.84" stroke="#000" stroke-width="0.5" stroke-opacity="0.5"/>
<line x1="131.6" y1="457.63" x2="152.48" y2="457.63" stroke="#000" stroke-width="0.5" stroke-opacity="0.5"/>
<line x1="131.6" y1="463.42" x2="152.48" y2="463.42" stroke="#000" stroke-width="0.5" stroke-opacity="0.5"/>
<line x1="135.08" y1="382.4" x2="135.08" y2="469.2" stroke="#000" stroke-width="0.3" stroke-opacity="0.2"/>
<line x1="138.56" y1="382.4" x2="138.56" y2="469.2" stroke="#000" stroke-width="0.3" stroke-opacity="0.2"/>
<line x1="142.04" y1="382.4" x2="142.04" y2="469.2" stroke="#000" stroke-width="0.3" stroke-opacity="0.2"/>
<line x1="145.52" y1="382.4" x2="145.52" y2="469.2" stroke="#000" stroke-width="0.3" stroke-opacity="0.2"/>
<line x1="149" y1="382.4" x2="149" y2="469.2" stroke="#000" stroke-width="0.3" stroke-opacity="0.2"/>
<rect x="296.9" y="382.6" width="3" height="5.81" fill="#d6120e"/>
<rect x="299.9" y="382.6" width="3" height="5.81" fill="#e85858"/>
<rect x="302.9" y="382.6" width="3" height="5.81" fill="#e85858"/>
<rect x="305.9" y="382.6" width="3" height="5.81" fill="#f6b2c6"/>
<rect x="308.9" y="382.6" width="3" height="5.81" fill="#d6120e"/>
<rect x="311.9" y="382.6" width="3" height="5.81" fill="#4800d4"/>
<rect x="314.9" y="382.6" width="3" height="5.81" fill="#4800d4"/>
<rect x="317.9" y="382.6" width="3" height="5.81" fill="#4800d4"/>
<rect x="320.9" y="382.6" width="3" height="5.81" fill="#4800d4"/>
<rect x="323.9" y="382.6" width="3" height="5.81" fill="#4800d4"/>
<rect x="326.9" y="382.6" width="3" height="5.81" fill="#4800d4"/>
<rect x="296.9" y="388.41" width="3" height="5.81" fill="#e85858"/>
<rect x="299.9" y="388.41" width="3" height="5.81" fill="#e85858"/>
<rect x="302.9" y="388.41" width="3" height="5.81" fill="#e85858"/>
<rect x="305.9" y="388.41" width="3" height="5.81" fill="#f6b2c6"/>
<rect x="308.9" y="388.41" width="3" height="5.81" fill="#d6120e"/>
<rect x="311.9" y="388.41" width="3" height="5.81" fill="#4800d4"/>
<rect x="314.9" y="388.41" width="3" height="5.81" fill="#4800d4"/>
<rect x="317.9" y="388.41" width="3" height="5.81" fill="#4800d4"/>
<rect x="320.9" y="388.41" width="3" height="5.81" fill="#4800d4"/>
<rect x="323.9" y="388.41" width="3" height="5.81" fill="#4800d4"/>
<rect x="326.9" y="388.41" width="3" height="5.81" fill="#4800d4"/>
<rect x="296.9" y="394.23" width="3" height="5.81" fill="#e85858"/>
<rect x="299.9" y="394.23" width="3" height="5.81" fill="#e85858"/>
<rect x="302.9" y="394.23" width="3" height="5.81" fill="#d6120e"/>
<rect x="305.9" y="394.23" width="3" height="5.81" fill="#f6b2c6"/>
<rect x="308.9" y="394.23" width="3" height="5.81" fill="#d6120e"/>
<rect x="311.9" y="394.23" width="3" height="5.81" fill="#4800d4"/>
<rect x="314.9" y="394.23" width="3" height="5.81" fill="#4800d4"/>
<rect x="317.9" y="394.23" width="3" height="5.81" fill="#4800d4"/>
<rect x="320.9" y="394.23" width="3" height="5.81" fill="#4800d4"/>
<rect x="323.9" y="394.23" width="3" height="5.81" fill="#4800d4"/>
<rect x="326.9" y="394.23" width="3" height="5.81" fill="#4800d4"/>
<rect x="296.9" y="400.04" width="3" height="5.81" fill="#d6120e"/>
<rect x="299.9" y="400.04" width="3" height="5.81" fill="#e85858"/>
<rect x="302.9" y="400.04" width="3" height="5.81" fill="#e85858"/>
<rect x="305.9" y="400.04" width="3" height="5.81" fill="#d6120e"/>
<rect x="308.9" y="400.04" width="3" height="5.81" fill="#d6120e"/>
<rect x="311.9" y="400.04" width="3" height="5.81" fill="#4800d4"/>
<rect x="314.9" y="400.04" width="3" height="5.81" fill="#4800d4"/>
<rect x="317.9" y="400.04" width="3" height="5.81" fill="#4800d4"/>
<rect x="320.9" y="400.04" width="3" height="5.81" fill="#4800d4"/>
<rect x="323.9" y="400.04" width="3" height="5.81" fill="#4800d4"/>
<rect x="326.9" y="400.04" width="3" height="5.81" fill="#2d00fa"/>
<rect x="296.9" y="405.85" width="3" height="5.81" fill="#f6b2c6"/>
<rect x="299.9" y="405.85" width="3" height="5.81" fill="#e85858"/>
<rect x="302.9" y="405.85" width="3" height="5.81" fill="#d6120e"/>
<rect x="305.9" y="405.85" width="3" height="5.81" fill="#f6b2c6"/>
<rect x="308.9" y="405.85" width="3" height="5.81" fill="#d6120e"/>
<rect x="311.9" y="405.85" width="3" height="5.81" fill="#4800d4"/>
<rect x="314.9" y="405.85" width="3" height="5.81" fill="#4800d4"/>
<rect x="317.9" y="405.85" width="3" height="5.81" fill="#4800d4"/>
<rect x="320.9" y="405.85" width="3" height="5.81" fill="#4800d4"/>
<rect x="323.9" y="405.85" width="3" height="5.81" fill="#4800d4"/>
<rect x="326.9" y="405.85" width="3" height="5.81" fill="#2d00fa"/>
<rect x="296.9" y="411.67" width="3" height="5.81" fill="#e85858"/>
<rect x="299.9" y="411.67" width="3" height="5.81" fill="#f6b2c6"/>
<rect x="302.9" y="411.67" width="3" height="5.81" fill="#d6120e"/>
<rect x="305.9" y="411.67" width="3" height="5.81" fill="#dee0fa"/>
<rect x="308.9" y="411.67" width="3" height="5.81" fill="#e85858"/>
<rect x="311.9" y="411.67" width="3" height="5.81" fill="#4800d4"/>
<rect x="314.9" y="411.67" width="3" height="5.81" fill="#4800d4"/>
<rect x="317.9" y="411.67" width="3" height="5.81" fill="#4800d4"/>
<rect x="320.9" y="411.67" width="3" height="5.81" fill="#4800d4"/>
<rect x="323.9" y="411.67" width="3" height="5.81" fill="#4800d4"/>
<rect x="326.9" y="411.67" width="3" height="5.81" fill="#4800d4"/>
<rect x="296.9" y="417.48" width="3" height="5.81" fill="#d6120e"/>
<rect x="299.9" y="417.48" width="3" height="5.81" fill="#e85858"/>
<rect x="302.9" y="417.48" width="3" height="5.81" fill="#d6120e"/>
<rect x="305.9" y="417.48" width="3" height="5.81" fill="#f6b2c6"/>
<rect x="308.9" y="417.48" width="3" height="5.81" fill="#e85858"/>
<rect x="311.9" y="417.48" width="3" height="5.81" fill="#4800d4"/>
<rect x="314.9" y="417.48" width="3" height="5.81" fill="#4800d4"/>
<rect x="317.9" y="417.48" width="3" height="5.81" fill="#4800d4"/>
<rect x="320.9" y="417.48" width="3" height="5.81" fill="#4800d4"/>
<rect x="323.9" y="417.48" width="3" height="5.81" fill="#4800d4"/>
<rect x="326.9" y="417.48" width="3" height="5.81" fill="#4800d4"/>
<rect x="296.9" y="423.29" width="3" height="5.81" fill="#e85858"/>
<rect x="299.9" y="423.29" width="3" height="5.81" fill="#d6120e"/>
<rect x="302.9" y="423.29" width="3" height="5.81" fill="#f6b2c6"/>
<rect x="305.9" y="423.29" width="3" height="5.81" fill="#f6b2c6"/>
<rect x="308.9" y="423.29" width="3" height="5.81" fill="#e85858"/>
<rect x="311.9" y="423.29" width="3" height="5.81" fill="#4800d4"/>
<rect x="314.9" y="423.29" width="3" height="5.81" fill="#4800d4"/>
<rect x="317.9" y="423.29" width="3" height="5.81" fill="#4800d4"/>
<rect x="320.9" y="423.29" width="3" height="5.81" fill="#4800d4"/>
<rect x="323.9" y="423.29" width="3" height="5.81" fill="#4800d4"/>
<rect x="326.9" y="423.29" width="3" height="5.81" fill="#4800d4"/>
<rect x="296.9" y="429.1" width="3" height="5.81" fill="#dee0fa"/>
<rect x="299.9" y="429.1" width="3" height="5.81" fill="#e85858"/>
<rect x="302.9" y="429.1" width="3" height="5.81" fill="#d6120e"/>
<rect x="305.9" y="429.1" width="3" height="5.81" fill="#f6b2c6"/>
<rect x="308.9" y="429.1" width="3" height="5.81" fill="#d6120e"/>
<rect x="311.9" y="429.1" width="3" height="5.81" fill="#4800d4"/>
<rect x="314.9" y="429.1" width="3" height="5.81" fill="#4800d4"/>
<rect x="317.9" y="429.1" width="3" height="5.81" fill="#4800d4"/>
<rect x="320.9" y="429.1" width="3" height="5.81" fill="#4800d4"/>
<rect x="323.9" y="429.1" width="3" height="5.81" fill="#4800d4"/>
<rect x="326.9" y="429.1" width="3" height="5.81" fill="#4800d4"/>
<rect x="296.9" y="434.92" width="3" height="5.81" fill="#e85858"/>
<rect x="299.9" y="434.92" width="3" height="5.81" fill="#e85858"/>
<rect x="302.9" y="434.92" width="3" height="5.81" fill="#f6b2c6"/>
<rect x="305.9" y="434.92" width="3" height="5.81" fill="#f6b2c6"/>
<rect x="308.9" y="434.92" width="3" height="5.81" fill="#d6120e"/>
<rect x="311.9" y="434.92" width="3" height="5.81" fill="#4800d4"/>
<rect x="314.9" y="434.92" width="3" height="5.81" fill="#2d00fa"/>
<rect x="317.9" y="434.92" width="3" height="5.81" fill="#4800d4"/>
<rect x="320.9" y="434.92" width="3" height="5.81" fill="#4800d4"/>
<rect x="323.9" y="434.92" width="3" height="5.81" fill="#4800d4"/>
<rect x="326.9" y="434.92" width="3" height="5.81" fill="#2d00fa"/>
<rect x="296.9" y="440.73" width="3" height="5.81" fill="#e85858"/>
<rect x="299.9" y="440.73" width="3" height="5.81" fill="#e85858"/>
<rect x="302.9" y="440.73" width="3" height="5.81" fill="#d6120e"/>
<rect x="305.9" y="440.73" width="3" height="5.81" fill="#f6b2c6"/>
<rect x="308.9" y="440.73" width="3" height="5.81" fill="#e85858"/>
<rect x="311.9" y="440.73" width="3" height="5.81" fill="#4800d4"/>
<rect x="314.9" y="440.73" width="3" height="5.81" fill="#4800d4"/>
<rect x="317.9" y="440.73" width="3" height="5.81" fill="#4800d4"/>
<rect x="320.9" y="440.73" width="3" height="5.81" fill="#4800d4"/>
<rect x="323.9" y="440.73" width="3" height="5.81" fill="#4800d4"/>
<rect x="326.9" y="440.73" width="3" height="5.81" fill="#4800d4"/>
<rect x="296.9" y="446.54" width="3" height="5.81" fill="#f6b2c6"/>
<rect x="299.9" y="446.54" width="3" height="5.81" fill="#e85858"/>
<rect x="302.9" y="446.54" width="3" height="5.81" fill="#f6b2c6"/>
<rect x="305.9" y="446.54" width="3" height="5.81" fill="#d6120e"/>
<rect x="308.9" y="446.54" width="3" height="5.81" fill="#e85858"/>
<rect x="311.9" y="446.54" width="3" height="5.81" fill="#4800d4"/>
<rect x="314.9" y="446.54" width="3" height="5.81" fill="#2d00fa"/>
<rect x="317.9" y="446.54" width="3" height="5.81" fill="#4800d4"/>
<rect x="320.9" y="446.54" width="3" height="5.81" fill="#4800d4"/>
<rect x="323.9" y="446.54" width="3" height="5.81" fill="#2d00fa"/>
<rect x="326.9" y="446.54" width="3" height="5.81" fill="#4800d4"/>
<rect x="296.9" y="452.36" width="3" height="5.81" fill="#e85858"/>
<rect x="299.9" y="452.36" width="3" height="5.81" fill="#e85858"/>
<rect x="302.9" y="452.36" width="3" height="5.81" fill="#d6120e"/>
<rect x="305.9" y="452.36" width="3" height="5.81" fill="#dee0fa"/>
<rect x="308.9" y="452.36" width="3" height="5.81" fill="#e85858"/>
<rect x="311.9" y="452.36" width="3" height="5.81" fill="#4800d4"/>
<rect x="314.9" y="452.36" width="3" height="5.81" fill="#4800d4"/>
<rect x="317.9" y="452.36" width="3" height="5.81" fill="#4800d4"/>
<rect x="320.9" y="452.36" width="3" height="5.81" fill="#4800d4"/>
<rect x="323.9" y="452.36" width="3" height="5.81" fill="#4800d4"/>
<rect x="326.9" y="452.36" width="3" height="5.81" fill="#4800d4"/>
<rect x="296.9" y="458.17" width="3" height="5.81" fill="#f6b2c6"/>
<rect x="299.9" y="458.17" width="3" height="5.81" fill="#d6120e"/>
<rect x="302.9" y="458.17" width="3" height="5.81" fill="#e85858"/>
<rect x="305.9" y="458.17" width="3" height="5.81" fill="#f6b2c6"/>
<rect x="308.9" y="458.17" width="3" height="5.81" fill="#d6120e"/>
<rect x="311.9" y="458.17" width="3" height="5.81" fill="#4800d4"/>
<rect x="314.9" y="458.17" width="3" height="5.81" fill="#2d00fa"/>
<rect x="317.9" y="458.17" width="3" height="5.81" fill="#4800d4"/>
<rect x="320.9" y="458.17" width="3" height="5.81" fill="#4800d4"/>
<rect x="323.9" y="458.17" width="3" height="5.81" fill="#4800d4"/>
<rect x="326.9" y="458.17" width="3" height="5.81" fill="#4800d4"/>
<rect x="296.9" y="463.98" width="3" height="5.81" fill="#dee0fa"/>
<rect x="299.9" y="463.98" width="3" height="5.81" fill="#d6120e"/>
<rect x="302.9" y="463.98" width="3" height="5.81" fill="#f6b2c6"/>
<rect x="305.9" y="463.98" width="3" height="5.81" fill="#f6b2c6"/>
<rect x="308.9" y="463.98" width="3" height="5.81" fill="#e85858"/>
<rect x="311.9" y="463.98" width="3" height="5.81" fill="#4800d4"/>
<rect x="314.9" y="463.98" width="3" height="5.81" fill="#4800d4"/>
<rect x="317.9" y="463.98" width="3" height="5.81" fill="#4800d4"/>
<rect x="320.9" y="463.98" width="3" height="5.81" fill="#4800d4"/>
<rect x="323.9" y="463.98" width="3" height="5.81" fill="#4800d4"/>
<rect x="326.9" y="463.98" width="3" height="5.81" fill="#4800d4"/>
<line x1="296.9" y1="388.41" x2="329.9" y2="388.41" stroke="#000" stroke-width="0.5" stroke-opacity="0.5"/>
<line x1="296.9" y1="394.23" x2="329.9" y2="394.23" stroke="#000" stroke-width="0.5" stroke-opacity="0.5"/>
<line x1="296.9" y1="400.04" x2="329.9" y2="400.04" stroke="#000" stroke-width="0.5" stroke-opacity="0.5"/>
<line x1="296.9" y1="405.85" x2="329.9" y2="405.85" stroke="#000" stroke-width="0.5" stroke-opacity="0.5"/>
<line x1="296.9" y1="411.67" x2="329.9" y2="411.67" stroke="#000" stroke-width="0.5" stroke-opacity="0.5"/>
<line x1="296.9" y1="417.48" x2="329.9" y2="417.48" stroke="#000" stroke-width="0.5" stroke-opacity="0.5"/>
<line x1="296.9" y1="423.29" x2="329.9" y2="423.29" stroke="#000" stroke-width="0.5" stroke-opacity="0.5"/>
<line x1="296.9" y1="429.1" x2="329.9" y2="429.1" stroke="#000" stroke-width="0.5" stroke-opacity="0.5"/>
<line x1="296.9" y1="434.92" x2="329.9" y2="434.92" stroke="#000" stroke-width="0.5" stroke-opacity="0.5"/>
<line x1="296.9" y1="440.73" x2="329.9" y2="440.73" stroke="#000" stroke-width="0.5" stroke-opacity="0.5"/>
<line x1="296.9" y1="446.54" x2="329.9" y2="446.54" stroke="#000" stroke-width="0.5" stroke-opacity="0.5"/>
<line x1="296.9" y1="452.36" x2="329.9" y2="452.36" stroke="#000" stroke-width="0.5" stroke-opacity="0.5"/>
<line x1="296.9" y1="458.17" x2="329.9" y2="458.17" stroke="#000" stroke-width="0.5" stroke-opacity="0.5"/>
<line x1="296.9" y1="463.98" x2="329.9" y2="463.98" stroke="#000" stroke-width="0.5" stroke-opacity="0.5"/>
<line x1="299.9" y1="382.6" x2="299.9" y2="469.8" stroke="#000" stroke-width="0.3" stroke-opacity="0.2"/>
<line x1="302.9" y1="382.6" x2="302.9" y2="469.8" stroke="#000" stroke-width="0.3" stroke-opacity="0.2"/>
<line x1="305.9" y1="382.6" x2="305.9" y2="469.8" stroke="#000" stroke-width="0.3" stroke-opacity="0.2"/>
<line x1="308.9" y1="382.6" x2="308.9" y2="469.8" stroke="#000" stroke-width="0.3" stroke-opacity="0.2"/>
<line x1="311.9" y1="382.6" x2="311.9" y2="469.8" stroke="#000" stroke-width="0.3" stroke-opacity="0.2"/>
<line x1="314.9" y1="382.6" x2="314.9" y2="469.8" stroke="#000" stroke-width="0.3" stroke-opacity="0.2"/>
<line x1="317.9" y1="382.6" x2="317.9" y2="469.8" stroke="#000" stroke-width="0.3" stroke-opacity="0.2"/>
<line x1="320.9" y1="382.6" x2="320.9" y2="469.8" stroke="#000" stroke-width="0.3" stroke-opacity="0.2"/>
<line x1="323.9" y1="382.6" x2="323.9" y2="469.8" stroke="#000" stroke-width="0.3" stroke-opacity="0.2"/>
<line x1="326.9" y1="382.6" x2="326.9" y2="469.8" stroke="#000" stroke-width="0.3" stroke-opacity="0.2"/>
<rect x="131.3" y="379.8" width="13.5" height="2.6" fill="#b4b4b4"/>
<rect x="146.1" y="379.8" width="6.6" height="2.6" fill="#b4b4b4"/>
<rect x="296.7" y="379.4" width="14.2" height="2.9" fill="#b4b4b4"/>
<rect x="313.1" y="379.4" width="16.9" height="2.9" fill="#b4b4b4"/>
<g transform="translate(155.3 0) scale(0.88 1)">
<text x="0" y="389.43" font-size="6" fill="#222">MYB</text>
<text x="0" y="395.11" font-size="6" fill="#222">LGALS13</text>
<text x="0" y="400.79" font-size="6" fill="#222">PTGR1</text>
<text x="0" y="406.47" font-size="6" fill="#222">CEP89</text>
<text x="0" y="412.15" font-size="6" fill="#222">AKAP12</text>
<text x="0" y="417.83" font-size="6" fill="#222">STRBP</text>
<text x="0" y="423.51" font-size="6" fill="#222">MDM1</text>
<text x="0" y="429.19" font-size="6" fill="#222">TRIM28</text>
<text x="0" y="434.87" font-size="6" fill="#222">ZNF428</text>
<text x="0" y="440.55" font-size="6" fill="#222">TCF3</text>
<text x="0" y="446.23" font-size="6" fill="#222">BUB1B</text>
<text x="0" y="451.91" font-size="6" fill="#222">LIG1</text>
<text x="0" y="457.59" font-size="6" fill="#222">SPAG5</text>
<text x="0" y="463.27" font-size="6" fill="#222">ZBED3</text>
<text x="0" y="468.95" font-size="6" fill="#222">CBX1</text>
</g>
<g transform="translate(333.4 0) scale(0.88 1)">
<text x="0" y="388.53" font-size="6" fill="#222">KIF18B</text>
<text x="0" y="394.33" font-size="6" fill="#222">SPAG5</text>
<text x="0" y="400.13" font-size="6" fill="#222">LIG1</text>
<text x="0" y="405.93" font-size="6" fill="#222">CENPS</text>
<text x="0" y="411.73" font-size="6" fill="#222">PRIM2</text>
<text x="0" y="417.53" font-size="6" fill="#222">UHRF1</text>
<text x="0" y="423.33" font-size="6" fill="#222">TIPIN</text>
<text x="0" y="429.13" font-size="6" fill="#222">MMS22L</text>
<text x="0" y="434.93" font-size="6" fill="#222">CDK1</text>
<text x="0" y="440.73" font-size="6" fill="#222">BLMH</text>
<text x="0" y="446.53" font-size="6" fill="#222">MIS18BP1</text>
<text x="0" y="452.33" font-size="6" fill="#222">GINS2</text>
<text x="0" y="458.13" font-size="6" fill="#222">EFTUD2</text>
<text x="0" y="463.93" font-size="6" fill="#222">CBX1</text>
<text x="0" y="469.73" font-size="6" fill="#222">BUB1B</text>
</g>
<text x="132.8" y="377.3" font-size="6.2" fill="#222" transform="rotate(-45 132.8 377.3)" textLength="43.5" lengthAdjust="spacingAndGlyphs"><tspan font-style="italic">p53</tspan><tspan font-size="3.72" baseline-shift="super">-/-</tspan> <tspan font-style="italic">VAV1-Tg</tspan></text>
<text x="141.8" y="376.8" font-size="6.2" fill="#222" transform="rotate(-45 141.8 376.8)" textLength="14.2" lengthAdjust="spacingAndGlyphs">T-LBL</text>
<text x="150" y="377" font-size="6.2" fill="#222" transform="rotate(-45 150 377)" textLength="33.5" lengthAdjust="spacingAndGlyphs"><tspan font-style="italic">p53</tspan><tspan font-size="3.72" baseline-shift="super">-/-</tspan> T-LBL</text>
<text x="297.4" y="378.6" font-size="6.2" fill="#222" transform="rotate(-45 297.4 378.6)" textLength="43.5" lengthAdjust="spacingAndGlyphs"><tspan font-style="italic">p53</tspan><tspan font-size="3.72" baseline-shift="super">-/-</tspan> <tspan font-style="italic">VAV1-Tg</tspan></text>
<text x="313.4" y="377.9" font-size="6.2" fill="#222" transform="rotate(-45 313.4 377.9)" textLength="12" lengthAdjust="spacingAndGlyphs">Lym</text>
<text x="323" y="377.6" font-size="6.2" fill="#222" transform="rotate(-45 323 377.6)" textLength="44" lengthAdjust="spacingAndGlyphs">WT Splenocyte</text>
<text x="373.4" y="345.49" font-size="11.8" font-weight="bold">F</text>
<rect x="383" y="382.8" width="6.41" height="6.47" fill="#eb6666"/>
<rect x="389.41" y="382.8" width="6.41" height="6.47" fill="#eb6666"/>
<rect x="395.81" y="382.8" width="6.41" height="6.47" fill="#eb6666"/>
<rect x="402.22" y="382.8" width="6.41" height="6.47" fill="#6666fc"/>
<rect x="408.63" y="382.8" width="6.41" height="6.47" fill="#6666fc"/>
<rect x="415.04" y="382.8" width="6.41" height="6.47" fill="#8080fc"/>
<rect x="421.44" y="382.8" width="6.41" height="6.47" fill="#2626fb"/>
<rect x="427.85" y="382.8" width="6.41" height="6.47" fill="#f2f2ff"/>
<rect x="434.26" y="382.8" width="6.41" height="6.47" fill="#0000fa"/>
<rect x="440.66" y="382.8" width="6.41" height="6.47" fill="#fdf2f2"/>
<rect x="447.07" y="382.8" width="6.41" height="6.47" fill="#0000fa"/>
<rect x="453.48" y="382.8" width="6.41" height="6.47" fill="#eb6666"/>
<rect x="459.89" y="382.8" width="6.41" height="6.47" fill="#e11a1a"/>
<rect x="466.29" y="382.8" width="6.41" height="6.47" fill="#e00d0d"/>
<rect x="383" y="389.27" width="6.41" height="6.47" fill="#d9d9fe"/>
<rect x="389.41" y="389.27" width="6.41" height="6.47" fill="#ccccfe"/>
<rect x="395.81" y="389.27" width="6.41" height="6.47" fill="#d9d9fe"/>
<rect x="402.22" y="389.27" width="6.41" height="6.47" fill="#bfbffe"/>
<rect x="408.63" y="389.27" width="6.41" height="6.47" fill="#ccccfe"/>
<rect x="415.04" y="389.27" width="6.41" height="6.47" fill="#d9d9fe"/>
<rect x="421.44" y="389.27" width="6.41" height="6.47" fill="#0000fa"/>
<rect x="427.85" y="389.27" width="6.41" height="6.47" fill="#a6a6fd"/>
<rect x="434.26" y="389.27" width="6.41" height="6.47" fill="#1a1afa"/>
<rect x="440.66" y="389.27" width="6.41" height="6.47" fill="#0000fa"/>
<rect x="447.07" y="389.27" width="6.41" height="6.47" fill="#b2b2fe"/>
<rect x="453.48" y="389.27" width="6.41" height="6.47" fill="#e64040"/>
<rect x="459.89" y="389.27" width="6.41" height="6.47" fill="#e53333"/>
<rect x="466.29" y="389.27" width="6.41" height="6.47" fill="#e00d0d"/>
<rect x="383" y="395.75" width="6.41" height="6.47" fill="#a6a6fd"/>
<rect x="389.41" y="395.75" width="6.41" height="6.47" fill="#8c8cfd"/>
<rect x="395.81" y="395.75" width="6.41" height="6.47" fill="#9999fd"/>
<rect x="402.22" y="395.75" width="6.41" height="6.47" fill="#7373fc"/>
<rect x="408.63" y="395.75" width="6.41" height="6.47" fill="#8080fc"/>
<rect x="415.04" y="395.75" width="6.41" height="6.47" fill="#a6a6fd"/>
<rect x="421.44" y="395.75" width="6.41" height="6.47" fill="#6666fc"/>
<rect x="427.85" y="395.75" width="6.41" height="6.47" fill="#a6a6fd"/>
<rect x="434.26" y="395.75" width="6.41" height="6.47" fill="#8c8cfd"/>
<rect x="440.66" y="395.75" width="6.41" height="6.47" fill="#0000fa"/>
<rect x="447.07" y="395.75" width="6.41" height="6.47" fill="#a6a6fd"/>
<rect x="453.48" y="395.75" width="6.41" height="6.47" fill="#ea5959"/>
<rect x="459.89" y="395.75" width="6.41" height="6.47" fill="#e53333"/>
<rect x="466.29" y="395.75" width="6.41" height="6.47" fill="#e00d0d"/>
<rect x="383" y="402.22" width="6.41" height="6.47" fill="#0d0dfa"/>
<rect x="389.41" y="402.22" width="6.41" height="6.47" fill="#1a1afa"/>
<rect x="395.81" y="402.22" width="6.41" height="6.47" fill="#2626fb"/>
<rect x="402.22" y="402.22" width="6.41" height="6.47" fill="#0000fa"/>
<rect x="408.63" y="402.22" width="6.41" height="6.47" fill="#0000fa"/>
<rect x="415.04" y="402.22" width="6.41" height="6.47" fill="#0000fa"/>
<rect x="421.44" y="402.22" width="6.41" height="6.47" fill="#0000fa"/>
<rect x="427.85" y="402.22" width="6.41" height="6.47" fill="#1a1afa"/>
<rect x="434.26" y="402.22" width="6.41" height="6.47" fill="#0000fa"/>
<rect x="440.66" y="402.22" width="6.41" height="6.47" fill="#3333fb"/>
<rect x="447.07" y="402.22" width="6.41" height="6.47" fill="#0000fa"/>
<rect x="453.48" y="402.22" width="6.41" height="6.47" fill="#e64040"/>
<rect x="459.89" y="402.22" width="6.41" height="6.47" fill="#e00d0d"/>
<rect x="466.29" y="402.22" width="6.41" height="6.47" fill="#e11a1a"/>
<rect x="383" y="408.69" width="6.41" height="6.47" fill="#3333fb"/>
<rect x="389.41" y="408.69" width="6.41" height="6.47" fill="#2626fb"/>
<rect x="395.81" y="408.69" width="6.41" height="6.47" fill="#4040fb"/>
<rect x="402.22" y="408.69" width="6.41" height="6.47" fill="#0000fa"/>
<rect x="408.63" y="408.69" width="6.41" height="6.47" fill="#0000fa"/>
<rect x="415.04" y="408.69" width="6.41" height="6.47" fill="#0000fa"/>
<rect x="421.44" y="408.69" width="6.41" height="6.47" fill="#3333fb"/>
<rect x="427.85" y="408.69" width="6.41" height="6.47" fill="#7373fc"/>
<rect x="434.26" y="408.69" width="6.41" height="6.47" fill="#e6e6fe"/>
<rect x="440.66" y="408.69" width="6.41" height="6.47" fill="#f2f2ff"/>
<rect x="447.07" y="408.69" width="6.41" height="6.47" fill="#8080fc"/>
<rect x="453.48" y="408.69" width="6.41" height="6.47" fill="#ea5959"/>
<rect x="459.89" y="408.69" width="6.41" height="6.47" fill="#e53333"/>
<rect x="466.29" y="408.69" width="6.41" height="6.47" fill="#e00d0d"/>
<rect x="383" y="415.16" width="6.41" height="6.47" fill="#9999fd"/>
<rect x="389.41" y="415.16" width="6.41" height="6.47" fill="#8080fc"/>
<rect x="395.81" y="415.16" width="6.41" height="6.47" fill="#8c8cfd"/>
<rect x="402.22" y="415.16" width="6.41" height="6.47" fill="#1a1afa"/>
<rect x="408.63" y="415.16" width="6.41" height="6.47" fill="#1a1afa"/>
<rect x="415.04" y="415.16" width="6.41" height="6.47" fill="#2626fb"/>
<rect x="421.44" y="415.16" width="6.41" height="6.47" fill="#f3a6a6"/>
<rect x="427.85" y="415.16" width="6.41" height="6.47" fill="#f3a6a6"/>
<rect x="434.26" y="415.16" width="6.41" height="6.47" fill="#eb6666"/>
<rect x="440.66" y="415.16" width="6.41" height="6.47" fill="#d9d9fe"/>
<rect x="447.07" y="415.16" width="6.41" height="6.47" fill="#0000fa"/>
<rect x="453.48" y="415.16" width="6.41" height="6.47" fill="#e32626"/>
<rect x="459.89" y="415.16" width="6.41" height="6.47" fill="#e53333"/>
<rect x="466.29" y="415.16" width="6.41" height="6.47" fill="#e00d0d"/>
<rect x="383" y="421.64" width="6.41" height="6.47" fill="#6666fc"/>
<rect x="389.41" y="421.64" width="6.41" height="6.47" fill="#5959fc"/>
<rect x="395.81" y="421.64" width="6.41" height="6.47" fill="#6666fc"/>
<rect x="402.22" y="421.64" width="6.41" height="6.47" fill="#0000fa"/>
<rect x="408.63" y="421.64" width="6.41" height="6.47" fill="#0000fa"/>
<rect x="415.04" y="421.64" width="6.41" height="6.47" fill="#0d0dfa"/>
<rect x="421.44" y="421.64" width="6.41" height="6.47" fill="#fad9d9"/>
<rect x="427.85" y="421.64" width="6.41" height="6.47" fill="#e64040"/>
<rect x="434.26" y="421.64" width="6.41" height="6.47" fill="#de0000"/>
<rect x="440.66" y="421.64" width="6.41" height="6.47" fill="#e53333"/>
<rect x="447.07" y="421.64" width="6.41" height="6.47" fill="#4c4cfc"/>
<rect x="453.48" y="421.64" width="6.41" height="6.47" fill="#a6a6fd"/>
<rect x="459.89" y="421.64" width="6.41" height="6.47" fill="#0000fa"/>
<rect x="466.29" y="421.64" width="6.41" height="6.47" fill="#ee8080"/>
<rect x="383" y="428.11" width="6.41" height="6.47" fill="#9999fd"/>
<rect x="389.41" y="428.11" width="6.41" height="6.47" fill="#8c8cfd"/>
<rect x="395.81" y="428.11" width="6.41" height="6.47" fill="#a6a6fd"/>
<rect x="402.22" y="428.11" width="6.41" height="6.47" fill="#0000fa"/>
<rect x="408.63" y="428.11" width="6.41" height="6.47" fill="#0000fa"/>
<rect x="415.04" y="428.11" width="6.41" height="6.47" fill="#0d0dfa"/>
<rect x="421.44" y="428.11" width="6.41" height="6.47" fill="#f8cccc"/>
<rect x="427.85" y="428.11" width="6.41" height="6.47" fill="#de0000"/>
<rect x="434.26" y="428.11" width="6.41" height="6.47" fill="#f29999"/>
<rect x="440.66" y="428.11" width="6.41" height="6.47" fill="#f08c8c"/>
<rect x="447.07" y="428.11" width="6.41" height="6.47" fill="#4c4cfc"/>
<rect x="453.48" y="428.11" width="6.41" height="6.47" fill="#e6e6fe"/>
<rect x="459.89" y="428.11" width="6.41" height="6.47" fill="#f8cccc"/>
<rect x="466.29" y="428.11" width="6.41" height="6.47" fill="#fad9d9"/>
<rect x="383" y="434.58" width="6.41" height="6.47" fill="#4c4cfc"/>
<rect x="389.41" y="434.58" width="6.41" height="6.47" fill="#2626fb"/>
<rect x="395.81" y="434.58" width="6.41" height="6.47" fill="#4c4cfc"/>
<rect x="402.22" y="434.58" width="6.41" height="6.47" fill="#0000fa"/>
<rect x="408.63" y="434.58" width="6.41" height="6.47" fill="#0000fa"/>
<rect x="415.04" y="434.58" width="6.41" height="6.47" fill="#0d0dfa"/>
<rect x="421.44" y="434.58" width="6.41" height="6.47" fill="#0000fa"/>
<rect x="427.85" y="434.58" width="6.41" height="6.47" fill="#f5b2b2"/>
<rect x="434.26" y="434.58" width="6.41" height="6.47" fill="#eb6666"/>
<rect x="440.66" y="434.58" width="6.41" height="6.47" fill="#de0000"/>
<rect x="447.07" y="434.58" width="6.41" height="6.47" fill="#0000fa"/>
<rect x="453.48" y="434.58" width="6.41" height="6.47" fill="#e6e6fe"/>
<rect x="459.89" y="434.58" width="6.41" height="6.47" fill="#0000fa"/>
<rect x="466.29" y="434.58" width="6.41" height="6.47" fill="#0000fa"/>
<rect x="383" y="441.05" width="6.41" height="6.47" fill="#d9d9fe"/>
<rect x="389.41" y="441.05" width="6.41" height="6.47" fill="#b2b2fe"/>
<rect x="395.81" y="441.05" width="6.41" height="6.47" fill="#d9d9fe"/>
<rect x="402.22" y="441.05" width="6.41" height="6.47" fill="#9999fd"/>
<rect x="408.63" y="441.05" width="6.41" height="6.47" fill="#8c8cfd"/>
<rect x="415.04" y="441.05" width="6.41" height="6.47" fill="#b2b2fe"/>
<rect x="421.44" y="441.05" width="6.41" height="6.47" fill="#e64040"/>
<rect x="427.85" y="441.05" width="6.41" height="6.47" fill="#de0000"/>
<rect x="434.26" y="441.05" width="6.41" height="6.47" fill="#f29999"/>
<rect x="440.66" y="441.05" width="6.41" height="6.47" fill="#a6a6fd"/>
<rect x="447.07" y="441.05" width="6.41" height="6.47" fill="#0000fa"/>
<rect x="453.48" y="441.05" width="6.41" height="6.47" fill="#f2f2ff"/>
<rect x="459.89" y="441.05" width="6.41" height="6.47" fill="#8080fc"/>
<rect x="466.29" y="441.05" width="6.41" height="6.47" fill="#7373fc"/>
<rect x="383" y="447.53" width="6.41" height="6.47" fill="#d9d9fe"/>
<rect x="389.41" y="447.53" width="6.41" height="6.47" fill="#a6a6fd"/>
<rect x="395.81" y="447.53" width="6.41" height="6.47" fill="#a6a6fd"/>
<rect x="402.22" y="447.53" width="6.41" height="6.47" fill="#de0000"/>
<rect x="408.63" y="447.53" width="6.41" height="6.47" fill="#de0000"/>
<rect x="415.04" y="447.53" width="6.41" height="6.47" fill="#e00d0d"/>
<rect x="421.44" y="447.53" width="6.41" height="6.47" fill="#9999fd"/>
<rect x="427.85" y="447.53" width="6.41" height="6.47" fill="#f8cccc"/>
<rect x="434.26" y="447.53" width="6.41" height="6.47" fill="#1a1afa"/>
<rect x="440.66" y="447.53" width="6.41" height="6.47" fill="#1a1afa"/>
<rect x="447.07" y="447.53" width="6.41" height="6.47" fill="#4c4cfc"/>
<rect x="453.48" y="447.53" width="6.41" height="6.47" fill="#0000fa"/>
<rect x="459.89" y="447.53" width="6.41" height="6.47" fill="#0000fa"/>
<rect x="466.29" y="447.53" width="6.41" height="6.47" fill="#0000fa"/>
<line x1="383" y1="389.27" x2="472.7" y2="389.27" stroke="#fff" stroke-width="0.5" stroke-opacity="0.6"/>
<line x1="383" y1="395.75" x2="472.7" y2="395.75" stroke="#fff" stroke-width="0.5" stroke-opacity="0.6"/>
<line x1="383" y1="402.22" x2="472.7" y2="402.22" stroke="#fff" stroke-width="0.5" stroke-opacity="0.6"/>
<line x1="383" y1="408.69" x2="472.7" y2="408.69" stroke="#fff" stroke-width="0.5" stroke-opacity="0.6"/>
<line x1="383" y1="415.16" x2="472.7" y2="415.16" stroke="#fff" stroke-width="0.5" stroke-opacity="0.6"/>
<line x1="383" y1="421.64" x2="472.7" y2="421.64" stroke="#fff" stroke-width="0.5" stroke-opacity="0.6"/>
<line x1="383" y1="428.11" x2="472.7" y2="428.11" stroke="#fff" stroke-width="0.5" stroke-opacity="0.6"/>
<line x1="383" y1="434.58" x2="472.7" y2="434.58" stroke="#fff" stroke-width="0.5" stroke-opacity="0.6"/>
<line x1="383" y1="441.05" x2="472.7" y2="441.05" stroke="#fff" stroke-width="0.5" stroke-opacity="0.6"/>
<line x1="383" y1="447.53" x2="472.7" y2="447.53" stroke="#fff" stroke-width="0.5" stroke-opacity="0.6"/>
<line x1="389.41" y1="382.8" x2="389.41" y2="454" stroke="#fff" stroke-width="0.5" stroke-opacity="0.6"/>
<line x1="395.81" y1="382.8" x2="395.81" y2="454" stroke="#fff" stroke-width="0.5" stroke-opacity="0.6"/>
<line x1="402.22" y1="382.8" x2="402.22" y2="454" stroke="#fff" stroke-width="0.5" stroke-opacity="0.6"/>
<line x1="408.63" y1="382.8" x2="408.63" y2="454" stroke="#fff" stroke-width="0.5" stroke-opacity="0.6"/>
<line x1="415.04" y1="382.8" x2="415.04" y2="454" stroke="#fff" stroke-width="0.5" stroke-opacity="0.6"/>
<line x1="421.44" y1="382.8" x2="421.44" y2="454" stroke="#fff" stroke-width="0.5" stroke-opacity="0.6"/>
<line x1="427.85" y1="382.8" x2="427.85" y2="454" stroke="#fff" stroke-width="0.5" stroke-opacity="0.6"/>
<line x1="434.26" y1="382.8" x2="434.26" y2="454" stroke="#fff" stroke-width="0.5" stroke-opacity="0.6"/>
<line x1="440.66" y1="382.8" x2="440.66" y2="454" stroke="#fff" stroke-width="0.5" stroke-opacity="0.6"/>
<line x1="447.07" y1="382.8" x2="447.07" y2="454" stroke="#fff" stroke-width="0.5" stroke-opacity="0.6"/>
<line x1="453.48" y1="382.8" x2="453.48" y2="454" stroke="#fff" stroke-width="0.5" stroke-opacity="0.6"/>
<line x1="459.89" y1="382.8" x2="459.89" y2="454" stroke="#fff" stroke-width="0.5" stroke-opacity="0.6"/>
<line x1="466.29" y1="382.8" x2="466.29" y2="454" stroke="#fff" stroke-width="0.5" stroke-opacity="0.6"/>
<rect x="382.6" y="370.3" width="18.7" height="11.5" fill="#fff" stroke="#222" stroke-width="0.8"/>
<text x="391.95" y="375.84" font-size="4.9" text-anchor="middle" fill="#222">WT</text>
<text x="391.95" y="381.04" font-size="4.9" text-anchor="middle" fill="#222">CD4</text>
<rect x="402.3" y="370.3" width="18.7" height="11.5" fill="#fff" stroke="#222" stroke-width="0.8"/>
<text x="411.65" y="375.84" font-size="4.9" text-anchor="middle" fill="#222">WT</text>
<text x="411.65" y="381.04" font-size="4.9" text-anchor="middle" fill="#222">CD8</text>
<rect x="422" y="370.3" width="28.3" height="11.5" fill="#fff" stroke="#222" stroke-width="0.8"/>
<text x="436.15" y="375.84" font-size="4.9" text-anchor="middle" fill="#222"><tspan font-style="italic">p53</tspan><tspan font-size="2.94" baseline-shift="super">-/-</tspan></text>
<text x="436.15" y="381.04" font-size="4.9" text-anchor="middle" fill="#222"><tspan font-style="italic">VAV1-Tg</tspan></text>
<rect x="451.3" y="370.3" width="18.9" height="11.5" fill="#fff" stroke="#222" stroke-width="0.8"/>
<text x="460.75" y="375.84" font-size="4.9" text-anchor="middle" fill="#222" textLength="16.5" lengthAdjust="spacingAndGlyphs"><tspan font-style="italic">RHOA</tspan><tspan font-size="2.94" baseline-shift="super">G17V</tspan></text>
<text x="460.75" y="381.04" font-size="4.9" text-anchor="middle" fill="#222" textLength="11.5" lengthAdjust="spacingAndGlyphs"><tspan font-style="italic">TET2</tspan><tspan font-size="2.94" baseline-shift="super">-/-</tspan></text>
<line x1="401.3" y1="359.2" x2="450.7" y2="359.2" stroke="#222" stroke-width="0.7"/>
<line x1="401.3" y1="359.2" x2="401.3" y2="363.2" stroke="#222" stroke-width="0.7"/>
<line x1="391.6" y1="363.2" x2="411.3" y2="363.2" stroke="#222" stroke-width="0.7"/>
<line x1="391.6" y1="363.2" x2="391.6" y2="370.3" stroke="#222" stroke-width="0.7"/>
<line x1="411.3" y1="363.2" x2="411.3" y2="370.3" stroke="#222" stroke-width="0.7"/>
<line x1="450.7" y1="359.2" x2="450.7" y2="367.5" stroke="#222" stroke-width="0.7"/>
<line x1="427.5" y1="363.2" x2="443.7" y2="363.2" stroke="#222" stroke-width="0.7"/>
<line x1="435.6" y1="359.2" x2="435.6" y2="363.2" stroke="#222" stroke-width="0.7"/>
<line x1="427.5" y1="363.2" x2="427.5" y2="367" stroke="#222" stroke-width="0.7"/>
<line x1="423.5" y1="367" x2="431.5" y2="367" stroke="#222" stroke-width="0.7"/>
<line x1="423.5" y1="367" x2="423.5" y2="370.3" stroke="#222" stroke-width="0.7"/>
<line x1="431.5" y1="367" x2="431.5" y2="370.3" stroke="#222" stroke-width="0.7"/>
<line x1="443.7" y1="363.2" x2="443.7" y2="366.3" stroke="#222" stroke-width="0.7"/>
<line x1="438.5" y1="366.3" x2="448.5" y2="366.3" stroke="#222" stroke-width="0.7"/>
<line x1="438.5" y1="366.3" x2="438.5" y2="370.3" stroke="#222" stroke-width="0.7"/>
<line x1="448.5" y1="366.3" x2="448.5" y2="370.3" stroke="#222" stroke-width="0.7"/>
<line x1="458" y1="368.5" x2="466" y2="368.5" stroke="#222" stroke-width="0.7"/>
<line x1="380.8" y1="392.51" x2="383" y2="392.51" stroke="#333" stroke-width="0.75"/>
<line x1="380.8" y1="398.98" x2="383" y2="398.98" stroke="#333" stroke-width="0.75"/>
<line x1="380.8" y1="392.51" x2="380.8" y2="398.98" stroke="#333" stroke-width="0.75"/>
<line x1="380.8" y1="405.45" x2="383" y2="405.45" stroke="#333" stroke-width="0.75"/>
<line x1="380.8" y1="411.93" x2="383" y2="411.93" stroke="#333" stroke-width="0.75"/>
<line x1="380.8" y1="405.45" x2="380.8" y2="411.93" stroke="#333" stroke-width="0.75"/>
<line x1="378.2" y1="395.75" x2="380.8" y2="395.75" stroke="#333" stroke-width="0.75"/>
<line x1="378.2" y1="408.69" x2="380.8" y2="408.69" stroke="#333" stroke-width="0.75"/>
<line x1="378.2" y1="395.75" x2="378.2" y2="408.69" stroke="#333" stroke-width="0.75"/>
<line x1="375.7" y1="386.04" x2="383" y2="386.04" stroke="#333" stroke-width="0.75"/>
<line x1="375.7" y1="418.4" x2="383" y2="418.4" stroke="#333" stroke-width="0.75"/>
<line x1="375.7" y1="386.04" x2="375.7" y2="418.4" stroke="#333" stroke-width="0.75"/>
<line x1="375.7" y1="402.22" x2="378.2" y2="402.22" stroke="#333" stroke-width="0.75"/>
<line x1="380.5" y1="424.87" x2="383" y2="424.87" stroke="#333" stroke-width="0.75"/>
<line x1="380.5" y1="431.35" x2="383" y2="431.35" stroke="#333" stroke-width="0.75"/>
<line x1="380.5" y1="424.87" x2="380.5" y2="431.35" stroke="#333" stroke-width="0.75"/>
<line x1="378.8" y1="428.11" x2="380.5" y2="428.11" stroke="#333" stroke-width="0.75"/>
<line x1="378.8" y1="437.82" x2="383" y2="437.82" stroke="#333" stroke-width="0.75"/>
<line x1="378.8" y1="428.11" x2="378.8" y2="437.82" stroke="#333" stroke-width="0.75"/>
<line x1="376.3" y1="432.96" x2="378.8" y2="432.96" stroke="#333" stroke-width="0.75"/>
<line x1="376.3" y1="444.29" x2="383" y2="444.29" stroke="#333" stroke-width="0.75"/>
<line x1="376.3" y1="432.96" x2="376.3" y2="444.29" stroke="#333" stroke-width="0.75"/>
<line x1="374.4" y1="402.22" x2="375.7" y2="402.22" stroke="#333" stroke-width="0.75"/>
<line x1="374.4" y1="438.63" x2="376.3" y2="438.63" stroke="#333" stroke-width="0.75"/>
<line x1="374.4" y1="402.22" x2="374.4" y2="438.63" stroke="#333" stroke-width="0.75"/>
<line x1="372.8" y1="420.42" x2="374.4" y2="420.42" stroke="#333" stroke-width="0.75"/>
<line x1="372.8" y1="450.76" x2="383" y2="450.76" stroke="#333" stroke-width="0.75"/>
<line x1="372.8" y1="420.42" x2="372.8" y2="450.76" stroke="#333" stroke-width="0.75"/>
<g transform="translate(473.8 0) scale(0.9 1)">
<text x="0" y="388.57" font-size="6.4" fill="#222">CD4</text>
<text x="0" y="394.98" font-size="6.4" fill="#222">BCL6</text>
<text x="0" y="401.39" font-size="6.4" fill="#222">CXCR5</text>
<text x="0" y="407.8" font-size="6.4" fill="#222">IL21</text>
<text x="0" y="414.21" font-size="6.4" fill="#222">PDCD1</text>
<text x="0" y="420.62" font-size="6.4" fill="#222">MAF</text>
<text x="0" y="427.03" font-size="6.4" fill="#222">CCR4</text>
<text x="0" y="433.44" font-size="6.4" fill="#222">GATA3</text>
<text x="0" y="439.85" font-size="6.4" fill="#222">IL4</text>
<text x="0" y="446.26" font-size="6.4" fill="#222">IL9R</text>
<text x="0" y="452.67" font-size="6.4" fill="#222">CD8a</text>
</g>
<polyline points="493,382.6 495,382.6 495,421.3 493,421.3" fill="none" stroke="#333" stroke-width="0.8" stroke-linejoin="round"/>
<polyline points="493,421.3 495,421.3 495,447.3 493,447.3" fill="none" stroke="#333" stroke-width="0.8" stroke-linejoin="round"/>
<line x1="495" y1="401.6" x2="496.5" y2="401.6" stroke="#333" stroke-width="0.8"/>
<line x1="495" y1="435" x2="496.5" y2="435" stroke="#333" stroke-width="0.8"/>
<text x="503.4" y="403.66" font-size="5.8" text-anchor="middle" fill="#222" textLength="10" lengthAdjust="spacingAndGlyphs" transform="rotate(-90 503.4 401.6)">TFH</text>
<text x="510.2" y="403.66" font-size="5.8" text-anchor="middle" fill="#222" textLength="19" lengthAdjust="spacingAndGlyphs" transform="rotate(-90 510.2 401.6)">markers</text>
<text x="503.4" y="437.36" font-size="5.8" text-anchor="middle" fill="#222" textLength="10" lengthAdjust="spacingAndGlyphs" transform="rotate(-90 503.4 435.3)">TH2</text>
<text x="510.2" y="437.36" font-size="5.8" text-anchor="middle" fill="#222" textLength="19" lengthAdjust="spacingAndGlyphs" transform="rotate(-90 510.2 435.3)">markers</text>
<rect x="391.6" y="461.2" width="73.6" height="3.8" fill="url(#gbwr)"/>
<text x="383" y="471.26" font-size="5.8" fill="#222" textLength="18.7" lengthAdjust="spacingAndGlyphs">row min</text>
<text x="456.5" y="471.26" font-size="5.8" fill="#222" textLength="21.7" lengthAdjust="spacingAndGlyphs">row max</text>
<text x="7.3" y="484.79" font-size="11.8" font-weight="bold">G</text>
<text x="24.2" y="488.71" font-size="9.6" font-weight="bold">i</text>
<text x="119.6" y="488.41" font-size="9.6" font-weight="bold">ii</text>
<rect x="36.5" y="490.9" width="75.1" height="74.9" fill="none" stroke="#000" stroke-width="1.2"/>
<line x1="36.5" y1="565.8" x2="111.6" y2="565.8" stroke="#000" stroke-width="1.4"/>
<line x1="36.5" y1="490.9" x2="36.5" y2="565.8" stroke="#000" stroke-width="1.4"/>
<path d="M36.6,565.6 C38.83,565.53 46.3,566 50,565.2 C53.7,564.4 56.8,562.33 58.8,560.8 C60.8,559.27 61.03,557.93 62,556 C62.97,554.07 63.85,551.2 64.6,549.2 C65.35,547.2 65.92,545.12 66.5,544 C67.08,542.88 67.63,542.17 68.1,542.5 C68.57,542.83 68.92,544.55 69.3,546 C69.68,547.45 69.95,549.45 70.4,551.2 C70.85,552.95 71.37,554.9 72,556.5 C72.63,558.1 73.37,559.63 74.2,560.8 C75.03,561.97 76.03,562.83 77,563.5 C77.97,564.17 78.67,564.45 80,564.8 C81.33,565.15 79.67,565.47 85,565.6 C90.33,565.73 107.5,565.6 112,565.6" fill="none" stroke="#c4c4c4" stroke-width="1" stroke-linejoin="round"/>
<path d="M36.6,565.6 C38.7,565.43 45.82,565.15 49.2,564.6 C52.58,564.05 54.65,563.27 56.9,562.3 C59.15,561.33 60.77,560.18 62.7,558.8 C64.63,557.42 67.07,556.23 68.5,554 C69.93,551.77 70.58,548.73 71.3,545.4 C72.02,542.07 72.32,537.85 72.8,534 C73.28,530.15 73.67,526.63 74.2,522.3 C74.73,517.97 75.45,511.58 76,508 C76.55,504.42 77,501.55 77.5,500.8 C78,500.05 78.52,502.47 79,503.5 C79.48,504.53 79.95,505.25 80.4,507 C80.85,508.75 81.28,511.45 81.7,514 C82.12,516.55 82.38,517.07 82.9,522.3 C83.42,527.53 84.25,539.95 84.8,545.4 C85.35,550.85 85.72,552.43 86.2,555 C86.68,557.57 86.82,559.1 87.7,560.8 C88.58,562.5 90.28,564.38 91.5,565.2 C92.72,566.02 91.58,565.62 95,565.7 C98.42,565.78 109.17,565.7 112,565.7" fill="none" stroke="#2f4f94" stroke-width="1.3" stroke-linejoin="round"/>
<polyline points="36.9,522.9 36.9,565.6" fill="none" stroke="#ee9a23" stroke-width="1.3" stroke-linejoin="round"/>
<path d="M42,565.6 C43.53,565.43 48.4,565.25 51.2,564.6 C54,563.95 56.08,563.13 58.8,561.7 C61.52,560.27 65.57,558.08 67.5,556 C69.43,553.92 69.52,552.53 70.4,549.2 C71.28,545.87 72,540.48 72.8,536 C73.6,531.52 74.45,526.47 75.2,522.3 C75.95,518.13 76.67,513.55 77.3,511 C77.93,508.45 78.47,507.08 79,507 C79.53,506.92 80.02,508.92 80.5,510.5 C80.98,512.08 81.18,511.97 81.9,516.5 C82.62,521.03 84.07,532.28 84.8,537.7 C85.53,543.12 85.82,545.78 86.3,549 C86.78,552.22 86.83,554.4 87.7,557 C88.57,559.6 90.22,563.15 91.5,564.6 C92.78,566.05 91.98,565.52 95.4,565.7 C98.82,565.88 109.23,565.7 112,565.7" fill="none" stroke="#ee9a23" stroke-width="1.3" stroke-linejoin="round"/>
<line x1="33.1" y1="490.9" x2="36.5" y2="490.9" stroke="#222" stroke-width="0.8"/>
<line x1="33.1" y1="495.58" x2="36.5" y2="495.58" stroke="#222" stroke-width="0.8"/>
<line x1="33.1" y1="500.26" x2="36.5" y2="500.26" stroke="#222" stroke-width="0.8"/>
<line x1="33.1" y1="504.94" x2="36.5" y2="504.94" stroke="#222" stroke-width="0.8"/>
<line x1="33.1" y1="509.62" x2="36.5" y2="509.62" stroke="#222" stroke-width="0.8"/>
<line x1="33.1" y1="514.31" x2="36.5" y2="514.31" stroke="#222" stroke-width="0.8"/>
<line x1="33.1" y1="518.99" x2="36.5" y2="518.99" stroke="#222" stroke-width="0.8"/>
<line x1="33.1" y1="523.67" x2="36.5" y2="523.67" stroke="#222" stroke-width="0.8"/>
<line x1="33.1" y1="528.35" x2="36.5" y2="528.35" stroke="#222" stroke-width="0.8"/>
<line x1="33.1" y1="533.03" x2="36.5" y2="533.03" stroke="#222" stroke-width="0.8"/>
<line x1="33.1" y1="537.71" x2="36.5" y2="537.71" stroke="#222" stroke-width="0.8"/>
<line x1="33.1" y1="542.39" x2="36.5" y2="542.39" stroke="#222" stroke-width="0.8"/>
<line x1="33.1" y1="547.07" x2="36.5" y2="547.07" stroke="#222" stroke-width="0.8"/>
<line x1="33.1" y1="551.76" x2="36.5" y2="551.76" stroke="#222" stroke-width="0.8"/>
<line x1="33.1" y1="556.44" x2="36.5" y2="556.44" stroke="#222" stroke-width="0.8"/>
<line x1="33.1" y1="561.12" x2="36.5" y2="561.12" stroke="#222" stroke-width="0.8"/>
<line x1="33.1" y1="565.8" x2="36.5" y2="565.8" stroke="#222" stroke-width="0.8"/>
<text x="94.1" y="499.46" font-size="5.8" fill="#222" textLength="11.3" lengthAdjust="spacingAndGlyphs">Ccr4</text>
<rect x="131.5" y="491" width="74.7" height="74.4" fill="none" stroke="#000" stroke-width="1.2"/>
<line x1="131.5" y1="565.4" x2="206.2" y2="565.4" stroke="#000" stroke-width="1.4"/>
<line x1="131.5" y1="491" x2="131.5" y2="565.4" stroke="#000" stroke-width="1.4"/>
<path d="M131.3,565.2 C132.08,564.83 134.72,564.57 136,563 C137.28,561.43 138.22,558.63 139,555.8 C139.78,552.97 140.22,548.88 140.7,546 C141.18,543.12 141.48,540.47 141.9,538.5 C142.32,536.53 142.82,535.1 143.2,534.2 C143.58,533.3 143.85,532.97 144.2,533.1 C144.55,533.23 144.88,533.78 145.3,535 C145.72,536.22 146.25,538.07 146.7,540.4 C147.15,542.73 147.52,546.12 148,549 C148.48,551.88 149.02,555.45 149.6,557.7 C150.18,559.95 150.85,561.28 151.5,562.5 C152.15,563.72 152.08,564.55 153.5,565 C154.92,565.45 158.92,565.17 160,565.2" fill="none" stroke="#c4c4c4" stroke-width="1" stroke-linejoin="round"/>
<path d="M131.6,565.2 C132.33,564.75 134.6,563.43 136,562.5 C137.4,561.57 138.83,560.85 140,559.6 C141.17,558.35 142.03,556.6 143,555 C143.97,553.4 144.85,551.47 145.8,550 C146.75,548.53 147.95,547.37 148.7,546.2 C149.45,545.03 149.83,544.28 150.3,543 C150.77,541.72 151.05,541.67 151.5,538.5 C151.95,535.33 152.52,528.82 153,524 C153.48,519.18 153.93,513.43 154.4,509.6 C154.87,505.77 155.32,503.23 155.8,501 C156.28,498.77 156.88,497.37 157.3,496.2 C157.72,495.03 157.98,494.4 158.3,494 C158.62,493.6 158.88,492.97 159.2,493.8 C159.52,494.63 159.87,497 160.2,499 C160.53,501 160.8,502.47 161.2,505.8 C161.6,509.13 162.13,514.52 162.6,519 C163.07,523.48 163.53,528.37 164,532.7 C164.47,537.03 164.92,541.15 165.4,545 C165.88,548.85 166.35,553.05 166.9,555.8 C167.45,558.55 168.05,560.07 168.7,561.5 C169.35,562.93 169.92,563.78 170.8,564.4 C171.68,565.02 168.13,565.07 174,565.2 C179.87,565.33 200.67,565.2 206,565.2" fill="none" stroke="#2f4f94" stroke-width="1.3" stroke-linejoin="round"/>
<path d="M131.6,565.2 C132.33,564.92 134.28,564.43 136,563.5 C137.72,562.57 139.95,561.05 141.9,559.6 C143.85,558.15 146.35,556.48 147.7,554.8 C149.05,553.12 149.37,551.27 150,549.5 C150.63,547.73 151.07,546.2 151.5,544.2 C151.93,542.2 152.27,539.33 152.6,537.5 C152.93,535.67 153.13,534.03 153.5,533.2 C153.87,532.37 154.33,532.42 154.8,532.5 C155.27,532.58 155.8,532.7 156.3,533.7 C156.8,534.7 157.32,536.75 157.8,538.5 C158.28,540.25 158.73,542.2 159.2,544.2 C159.67,546.2 160.12,548.57 160.6,550.5 C161.08,552.43 161.53,554.22 162.1,555.8 C162.67,557.38 163.35,558.72 164,560 C164.65,561.28 165,562.67 166,563.5 C167,564.33 168.5,564.68 170,565 C171.5,565.32 168.97,565.33 175,565.4 C181.03,565.47 201,565.4 206.2,565.4" fill="none" stroke="#ee9a23" stroke-width="1.3" stroke-linejoin="round"/>
<line x1="128.1" y1="491" x2="131.5" y2="491" stroke="#222" stroke-width="0.8"/>
<line x1="128.1" y1="495.65" x2="131.5" y2="495.65" stroke="#222" stroke-width="0.8"/>
<line x1="128.1" y1="500.3" x2="131.5" y2="500.3" stroke="#222" stroke-width="0.8"/>
<line x1="128.1" y1="504.95" x2="131.5" y2="504.95" stroke="#222" stroke-width="0.8"/>
<line x1="128.1" y1="509.6" x2="131.5" y2="509.6" stroke="#222" stroke-width="0.8"/>
<line x1="128.1" y1="514.25" x2="131.5" y2="514.25" stroke="#222" stroke-width="0.8"/>
<line x1="128.1" y1="518.9" x2="131.5" y2="518.9" stroke="#222" stroke-width="0.8"/>
<line x1="128.1" y1="523.55" x2="131.5" y2="523.55" stroke="#222" stroke-width="0.8"/>
<line x1="128.1" y1="528.2" x2="131.5" y2="528.2" stroke="#222" stroke-width="0.8"/>
<line x1="128.1" y1="532.85" x2="131.5" y2="532.85" stroke="#222" stroke-width="0.8"/>
<line x1="128.1" y1="537.5" x2="131.5" y2="537.5" stroke="#222" stroke-width="0.8"/>
<line x1="128.1" y1="542.15" x2="131.5" y2="542.15" stroke="#222" stroke-width="0.8"/>
<line x1="128.1" y1="546.8" x2="131.5" y2="546.8" stroke="#222" stroke-width="0.8"/>
<line x1="128.1" y1="551.45" x2="131.5" y2="551.45" stroke="#222" stroke-width="0.8"/>
<line x1="128.1" y1="556.1" x2="131.5" y2="556.1" stroke="#222" stroke-width="0.8"/>
<line x1="128.1" y1="560.75" x2="131.5" y2="560.75" stroke="#222" stroke-width="0.8"/>
<line x1="128.1" y1="565.4" x2="131.5" y2="565.4" stroke="#222" stroke-width="0.8"/>
<text x="185.2" y="498.66" font-size="5.8" fill="#222" textLength="14.4" lengthAdjust="spacingAndGlyphs">Gata3</text>
<line x1="209.2" y1="523.9" x2="218.8" y2="523.9" stroke="#c4c4c4" stroke-width="1.2"/>
<line x1="209.2" y1="531.5" x2="218.8" y2="531.5" stroke="#2f4f94" stroke-width="1.4"/>
<line x1="209.2" y1="539.3" x2="218.8" y2="539.3" stroke="#ee9a23" stroke-width="1.4"/>
<text x="224.2" y="526.24" font-size="6.6" fill="#222" textLength="8.5" lengthAdjust="spacingAndGlyphs">WT</text>
<text x="224.2" y="533.84" font-size="6.6" fill="#222" textLength="32.1" lengthAdjust="spacingAndGlyphs"><tspan font-style="italic">p53</tspan><tspan font-size="3.96" baseline-shift="super">-/-</tspan>V-Del</text>
<text x="224.2" y="541.64" font-size="6.6" fill="#222" textLength="32.1" lengthAdjust="spacingAndGlyphs"><tspan font-style="italic">p53</tspan><tspan font-size="3.96" baseline-shift="super">-/-</tspan>V-Fus</text>
<text x="272.2" y="484.89" font-size="11.8" font-weight="bold">H</text>
<text x="290.8" y="488.61" font-size="9.6" font-weight="bold">i</text>
<text x="364.4" y="488.41" font-size="9.6" font-weight="bold">ii</text>
<text x="313.5" y="498.41" font-size="6.8" fill="#222" textLength="32.3" lengthAdjust="spacingAndGlyphs"><tspan font-style="italic">p53</tspan><tspan font-size="4.08" baseline-shift="super">-/-</tspan>V-Del</text>
<text x="329.6" y="505.21" font-size="6.8" text-anchor="middle" fill="#222" textLength="19.5" lengthAdjust="spacingAndGlyphs">Spleen</text>
<text x="352.5" y="504.79" font-size="5.6" fill="#222" textLength="16.5" lengthAdjust="spacingAndGlyphs">GATA3</text>
<text x="381" y="498.41" font-size="6.8" fill="#222" textLength="32.3" lengthAdjust="spacingAndGlyphs"><tspan font-style="italic">p53</tspan><tspan font-size="4.08" baseline-shift="super">-/-</tspan>V-Fus</text>
<text x="397.2" y="505.21" font-size="6.8" text-anchor="middle" fill="#222" textLength="19.5" lengthAdjust="spacingAndGlyphs">Spleen</text>
<text x="347.7" y="561.96" font-size="5.8" fill="#222" textLength="10.6" lengthAdjust="spacingAndGlyphs">90%</text>
<text x="413.7" y="561.96" font-size="5.8" fill="#222" textLength="10.1" lengthAdjust="spacingAndGlyphs">80%</text>
<defs><filter id="ihc1" x="0" y="0" width="1" height="1" color-interpolation-filters="sRGB"><feTurbulence type="fractalNoise" baseFrequency="0.9" numOctaves="2" seed="5" result="n"/><feColorMatrix in="n" type="matrix" values="1 0 0 0 0 1 0 0 0 0 1 0 0 0 0 0 0 0 0 1" result="g"/><feComponentTransfer in="g"><feFuncR type="table" tableValues=".80 .80 .80 .80 .79 .78 .72 .58 .55 .55 .55"/><feFuncG type="table" tableValues=".81 .81 .81 .81 .80 .78 .66 .42 .38 .38 .38"/><feFuncB type="table" tableValues=".88 .88 .88 .88 .87 .85 .70 .38 .33 .33 .33"/><feFuncA type="linear" slope="0" intercept="1"/></feComponentTransfer></filter></defs>
<defs><filter id="ihc2" x="0" y="0" width="1" height="1" color-interpolation-filters="sRGB"><feTurbulence type="fractalNoise" baseFrequency="0.9" numOctaves="2" seed="9" result="n"/><feColorMatrix in="n" type="matrix" values="1 0 0 0 0 1 0 0 0 0 1 0 0 0 0 0 0 0 0 1" result="g"/><feComponentTransfer in="g"><feFuncR type="table" tableValues=".80 .80 .80 .80 .79 .76 .66 .56 .54 .54 .54"/><feFuncG type="table" tableValues=".81 .81 .81 .81 .80 .74 .56 .40 .37 .37 .37"/><feFuncB type="table" tableValues=".88 .88 .88 .88 .86 .78 .56 .35 .31 .31 .31"/><feFuncA type="linear" slope="0" intercept="1"/></feComponentTransfer></filter></defs>
<defs><filter id="mot" x="0" y="0" width="1" height="1" color-interpolation-filters="sRGB"><feTurbulence type="fractalNoise" baseFrequency="0.35" numOctaves="1" seed="4" result="n"/><feColorMatrix in="n" type="matrix" values="1 0 0 0 0 1 0 0 0 0 1 0 0 0 0 0 0 0 0 1" result="g"/><feComponentTransfer in="g"><feFuncR type="table" tableValues=".70 .74 .80 .86 .90"/><feFuncG type="table" tableValues=".72 .76 .81 .86 .90"/><feFuncB type="table" tableValues=".82 .85 .88 .92 .94"/><feFuncA type="linear" slope="0" intercept="1"/></feComponentTransfer></filter></defs>
<rect x="298.8" y="509.3" width="60" height="44.7" fill="#c6c8d8"/>
<rect x="298.8" y="509.3" width="60" height="44.7" filter="url(#mot)" opacity="0.55"/>
<path d="M305.44 526.5h0.91v0.78h-0.91zM333.28 533.19h1.05v1.19h-1.05zM355.05 551.5h1.49v1.66h-1.49zM353.11 535.56h1.03v1.11h-1.03zM318.49 526.89h1.04v1.07h-1.04zM304.63 552.27h0.98v1.16h-0.98zM339.4 551.43h1.41v1.27h-1.41zM356.49 524.39h1.44v1.2h-1.44zM332.78 516.5h1.38v1.51h-1.38zM320.38 542.7h1.39v1.65h-1.39zM356.68 544.01h1.13v1.05h-1.13zM343.34 527.81h1.41v1.3h-1.41zM321.71 527.51h1.13v1.21h-1.13zM346.96 527.53h1.32v1.15h-1.32zM310.53 530.25h1.24v1.24h-1.24zM320.63 527.42h1.07v1.26h-1.07zM344 541.23h1.1v1.02h-1.1zM312.94 518.6h1.34v1.15h-1.34zM331.27 509.34h1.27v1.51h-1.27zM314.94 552.32h1.08v0.88h-1.08zM301.31 538.54h1.18v1.15h-1.18zM305.74 520.24h1.52v1.25h-1.52zM343.32 525.82h1.4v1.14h-1.4zM307.81 514.4h1.3v1.08h-1.3zM320.42 536.03h1.48v1.69h-1.48zM339.17 519.15h1.23v1.38h-1.23zM325.62 515.65h1v1.08h-1zM331.89 515.88h0.97v1.13h-0.97zM304.99 545.11h1.48v1.32h-1.48zM310.47 521.72h1.15v1.22h-1.15zM342.01 531.28h1.03v1.21h-1.03zM320.75 520.9h1.57v1.48h-1.57zM301.67 529.59h1.26v1.48h-1.26zM340.11 534.53h1.38v1.55h-1.38zM350.96 543.96h1.23v1.03h-1.23zM342.67 517.16h1.48v1.55h-1.48zM319.76 536.14h0.91v0.92h-0.91zM351.51 521.21h0.99v0.96h-0.99zM334.7 540.29h1.07v0.95h-1.07zM299.82 537.77h1.21v1.12h-1.21zM354.63 548h1.07v0.91h-1.07zM327.07 514.38h1.59v1.39h-1.59zM298.98 515.97h1.6v1.7h-1.6zM306.73 524.71h1.08v0.97h-1.08zM309.95 515.39h1.36v1.44h-1.36zM324 520.34h1.35v1.08h-1.35zM301.95 552.23h1.13v1.08h-1.13zM310.31 545.57h1.4v1.28h-1.4zM332.8 524.07h1.55v1.81h-1.55zM323.62 542.58h1.07v1.23h-1.07zM301.47 540.58h1.31v1.44h-1.31zM315.53 541.58h1.29v1.29h-1.29zM324.6 530.4h1.46v1.53h-1.46zM316.64 541.02h1.18v1.23h-1.18zM327.03 552.65h1.02v0.83h-1.02zM303.56 527.26h1.47v1.37h-1.47zM308.95 524.38h1.09v0.96h-1.09zM350.1 515.16h1.58v1.59h-1.58zM337.33 531.47h1.09v0.98h-1.09zM309.63 536.19h1.41v1.26h-1.41zM318.97 539.31h1.54v1.58h-1.54zM349.06 542.07h1.09v0.9h-1.09zM300.15 532.22h1.2v1.32h-1.2zM352.41 548.4h1.4v1.13h-1.4zM301.67 531.82h1.54v1.37h-1.54zM301.45 525.92h1.34v1.17h-1.34zM312.4 528.94h1.36v1.25h-1.36zM302.97 522.63h1.2v1.32h-1.2zM330.62 550.19h1.26v1.15h-1.26zM350.01 530.84h1.56v1.33h-1.56zM347.46 510.23h1.19v1.42h-1.19zM331.31 540.64h1.07v1.1h-1.07zM343.43 542.21h0.94v0.98h-0.94zM331.58 524.68h1.09v1.26h-1.09zM306.57 548.16h1.47v1.75h-1.47zM338.4 509.58h1.58v1.49h-1.58zM337.8 526.34h1.5v1.74h-1.5zM347.02 522.56h1.52v1.6h-1.52zM342.98 521.2h0.96v0.88h-0.96zM319.53 519.95h1.13v0.97h-1.13zM338.42 518.02h0.99v0.94h-0.99zM303.58 521.89h1.11v1.04h-1.11zM299.05 529.23h0.96v0.8h-0.96zM344.1 532.32h1.41v1.32h-1.41zM309.49 548.3h1.12v1.32h-1.12zM345.7 544.92h1.29v1.15h-1.29zM320.38 514.81h1.19v1.01h-1.19zM324.58 509.59h1.28v1.39h-1.28zM344.72 534.34h1.21v1.15h-1.21zM310.59 532.51h1.44v1.32h-1.44zM340.89 514.75h1.41v1.28h-1.41zM333.81 519.18h0.92v1.03h-0.92zM323.23 523.02h1.3v1.23h-1.3zM325.7 530.45h1.41v1.32h-1.41zM329.74 551.97h0.97v1.08h-0.97zM329.36 541.45h1.45v1.71h-1.45zM340.13 525.22h0.96v0.92h-0.96zM342.61 510.81h1.25v1.07h-1.25zM322.62 526.47h1.19v1.21h-1.19zM316.04 538.84h1.41v1.4h-1.41zM343.32 534.21h1.37v1.25h-1.37zM304.22 532.06h1.37v1.32h-1.37zM314.88 522.92h1.45v1.44h-1.45zM302.54 550.39h1.08v1.17h-1.08zM298.89 551.35h1.08v1.01h-1.08zM326.32 526.28h1.11v1.01h-1.11zM320.05 542.81h1.04v1h-1.04zM328.12 534.4h1.34v1.24h-1.34zM322.61 533.81h0.96v0.9h-0.96zM318.7 523.7h1.34v1.52h-1.34zM325.63 524.36h0.99v0.86h-0.99zM313.85 538.68h0.96v0.81h-0.96zM337.05 522.96h1.4v1.5h-1.4zM347.53 547.23h1.11v1.14h-1.11zM308.85 527.57h1.29v1.24h-1.29zM354.8 550.73h1.11v1.11h-1.11zM315.37 543.51h1.57v1.43h-1.57zM303.02 538.18h0.92v0.94h-0.92z" fill="#a07866" fill-opacity="0.85"/>
<path d="M312.48 542.42h0.98v1.17h-0.98zM321.91 535.36h1.04v0.92h-1.04zM349.67 537.49h1.41v1.25h-1.41zM320.41 523.68h1.2v1.19h-1.2zM316.8 545.89h1.1v0.93h-1.1zM308.37 552.53h1.04v1.03h-1.04zM324.97 552.39h1.31v1.11h-1.31zM301.72 535.82h1.51v1.68h-1.51zM340.48 531.17h1.26v1.27h-1.26zM329.55 524.4h1.16v1.37h-1.16zM313.27 547.82h1.05v1.01h-1.05zM344.87 528.99h1.29v1.48h-1.29zM314.12 548.85h1.06v0.9h-1.06zM334.58 546.15h1.39v1.42h-1.39zM308.66 539.12h1.35v1.34h-1.35zM346.8 547.07h1.27v1.24h-1.27zM304.58 513.51h1.18v1.19h-1.18zM300.95 512.54h1.01v0.97h-1.01zM325.05 519.96h1.07v1.15h-1.07zM301.5 533.2h1.05v0.95h-1.05zM347.38 552.44h1.39v1.46h-1.39zM313.38 530.86h1.47v1.58h-1.47zM320.67 547.84h1.27v1.06h-1.27zM337.18 542.77h1.56v1.59h-1.56zM324.24 534.77h1.56v1.87h-1.56zM338.91 513.43h1.27v1.24h-1.27zM318.85 533.62h0.97v1.02h-0.97zM349 516.58h1.2v1.23h-1.2zM304.75 550.94h1v0.81h-1zM330.24 531.01h0.99v0.89h-0.99zM314.89 512.21h0.94v0.83h-0.94zM356.76 527.67h1.04v1.02h-1.04zM299.98 521.11h1.41v1.16h-1.41zM341.3 516.32h1.34v1.24h-1.34zM310.45 537.16h0.92v1.09h-0.92zM338.63 539.39h1.27v1.02h-1.27zM345.78 544.09h1.07v1.18h-1.07zM350.35 531.18h1.36v1.47h-1.36zM324.12 515.33h1.24v1.23h-1.24zM316.94 518.9h1.36v1.13h-1.36zM352.49 516.67h1.21v1.32h-1.21zM309.09 533.16h1.13v1.25h-1.13zM335.32 530.99h1.34v1.11h-1.34zM353.86 542.68h1.25v1.34h-1.25zM331 522.17h1.35v1.3h-1.35zM310.77 515.8h0.9v0.97h-0.9zM324.07 512.89h1.48v1.5h-1.48zM333.49 517.22h1.34v1.26h-1.34zM332.49 539.03h1v1.06h-1zM316.58 544.47h1.07v1.13h-1.07zM345.21 548.35h1.1v0.99h-1.1zM317.42 531.51h1.29v1.17h-1.29zM348.98 521.09h0.91v0.74h-0.91zM312.32 532.76h1.54v1.23h-1.54zM316.56 541.26h0.98v0.83h-0.98zM331.88 527.31h1.24v1.18h-1.24zM308.81 546.22h1.54v1.69h-1.54zM330.61 509.96h1.24v1.15h-1.24zM343.78 543.52h1.51v1.6h-1.51zM340.38 538.15h0.96v1.08h-0.96zM353.22 513.76h1.53v1.5h-1.53zM312.7 547.32h1.38v1.26h-1.38zM300.13 524.9h0.96v0.97h-0.96zM303.66 514.19h1.31v1.23h-1.31zM302.75 537.74h1.35v1.36h-1.35zM310.04 515.44h1.09v0.9h-1.09zM326.96 543.68h1.25v1.35h-1.25zM351.06 549.8h1.46v1.71h-1.46zM306.32 519.14h1.57v1.28h-1.57zM323.62 533.5h1.41v1.41h-1.41zM299.16 511.06h1.38v1.41h-1.38zM352.81 550.52h1.21v1.43h-1.21zM323.57 552.36h1.19v1.38h-1.19zM313.99 515.25h0.99v0.86h-0.99zM303.82 510.59h1.03v0.85h-1.03zM343.44 517.04h1.59v1.88h-1.59zM316.89 523.78h1.21v1.13h-1.21zM328.52 526.5h1.31v1.34h-1.31zM344.4 517.73h1.41v1.68h-1.41zM354.58 536.58h1.46v1.41h-1.46zM342.89 528.87h1.57v1.39h-1.57zM343.27 524.01h1.02v1h-1.02zM331.23 521.67h1.54v1.3h-1.54zM301.38 546.37h1.1v1.04h-1.1zM305.51 533.93h1.06v1.11h-1.06zM326.63 548.54h1.2v1.1h-1.2zM324.8 511.53h0.98v0.9h-0.98zM325.03 511.93h0.98v0.91h-0.98zM328.77 527.46h1.33v1.59h-1.33zM332.16 520.08h1.55v1.57h-1.55zM324.72 541.49h1.12v1.24h-1.12zM313.71 516.14h1.3v1.1h-1.3zM351.87 531.07h1.51v1.23h-1.51zM326.44 529.23h1.02v0.97h-1.02zM306.33 530.52h0.91v0.9h-0.91zM348.22 547.88h0.95v1.08h-0.95zM356.69 512.06h1.12v1.25h-1.12zM350.38 517.31h0.97v0.89h-0.97zM332.98 551.4h1.33v1.26h-1.33zM327.83 510.16h1.43v1.19h-1.43zM336.37 516.15h1.51v1.74h-1.51zM331.94 551.41h1.05v1.11h-1.05zM355.03 515.45h1.17v1.27h-1.17zM332.37 517.91h1.38v1.37h-1.38zM355.57 517.4h1.34v1.13h-1.34zM310.51 528.58h1.35v1.52h-1.35zM355.54 549.43h0.98v0.99h-0.98zM302.78 527.52h1.55v1.35h-1.55zM331.27 552.64h1.34v1.37h-1.34zM343.18 519.22h1.33v1.3h-1.33zM342.4 513.61h1.36v1.41h-1.36zM335.55 551.25h1.58v1.39h-1.58z" fill="#b4917f" fill-opacity="0.85"/>
<path d="M309.18 536.49h1.11v0.93h-1.11zM345.12 521.38h1.25v1.49h-1.25zM330.54 519.81h1.4v1.53h-1.4zM300.73 535.87h1.48v1.34h-1.48zM340.38 519.74h1.21v1.14h-1.21zM347.49 551.72h1.47v1.4h-1.47zM316.4 548.79h1.43v1.38h-1.43zM312.46 535.48h1.44v1.65h-1.44zM329.25 546.49h1.37v1.53h-1.37zM327.94 530.01h0.95v0.95h-0.95zM339.09 548.45h1.23v1.1h-1.23zM355.74 543.69h1v0.97h-1zM318.87 549.38h1.09v1.24h-1.09zM324.53 516.11h1v1.04h-1zM348.65 533.23h1.12v0.95h-1.12zM343.81 520.74h1.31v1.47h-1.31zM330.64 546.43h1.32v1.45h-1.32zM308.87 531.39h1.58v1.77h-1.58zM309.81 515.2h1.36v1.18h-1.36zM342.05 534.92h1.4v1.64h-1.4zM352.84 542.24h0.99v1.12h-0.99zM299.91 511.55h0.95v0.97h-0.95zM350.06 535.75h1.07v1.08h-1.07zM357.17 537.49h1.2v1.3h-1.2zM336.89 513.86h1.38v1.47h-1.38zM315.01 524.7h1.56v1.85h-1.56zM341.47 510.01h1.28v1.29h-1.28zM315.27 551.24h1.56v1.3h-1.56zM306.27 537.65h1.57v1.47h-1.57zM326.11 538.52h1.57v1.84h-1.57zM318.83 550.79h1.02v0.97h-1.02zM306.72 525.77h0.95v0.89h-0.95zM333.25 512.88h1.17v1.17h-1.17zM345.74 539.72h1.49v1.2h-1.49zM337.94 526.46h1.52v1.7h-1.52zM323.65 523.08h1.34v1.36h-1.34zM349.38 510.98h1.4v1.6h-1.4zM328.95 535.12h1.39v1.25h-1.39zM317.33 531.73h1.55v1.78h-1.55zM356.59 535.13h1.34v1.19h-1.34zM352.34 528.23h1.2v1.31h-1.2zM338.92 511.96h1.15v1.04h-1.15zM299.77 544.86h1.03v1.06h-1.03zM331 538.37h1.5v1.32h-1.5zM347.21 539.59h0.95v1.11h-0.95zM300.63 549.24h1.16v1.06h-1.16zM353.32 542.18h1.23v1.39h-1.23zM314.6 550.1h1.57v1.56h-1.57zM343.28 535.33h1.4v1.57h-1.4zM328.34 537.6h1.4v1.42h-1.4zM340.89 509.77h0.98v1.16h-0.98zM347.32 539.38h1.44v1.5h-1.44zM349.46 552.63h1.14v1.25h-1.14zM306.4 519.93h1.22v1.17h-1.22zM321.83 511.4h1.57v1.84h-1.57zM306.68 517.4h1.49v1.54h-1.49zM327.88 550.04h1.33v1.32h-1.33zM343.44 546.27h1.25v1.2h-1.25zM355.48 510.24h1.32v1.59h-1.32zM356.85 509.63h1.48v1.69h-1.48zM345.85 529.46h1v1.19h-1zM310.96 515.89h1.01v1.06h-1.01zM354.55 531.32h1.23v1.31h-1.23zM304.72 535.95h1.23v1.04h-1.23zM344.37 543.03h1.19v1.41h-1.19zM299.16 542.89h1.3v1.37h-1.3zM337.63 527.07h1.29v1.45h-1.29zM326.65 514.06h1.39v1.39h-1.39zM350.88 546.18h1.2v1.36h-1.2zM315.83 525.37h1.29v1.2h-1.29zM346.28 517.42h1.34v1.47h-1.34zM318.1 551.02h1.31v1.28h-1.31zM324.62 520h1.22v1.34h-1.22zM356.52 539.03h1.4v1.38h-1.4zM313.54 520.26h0.94v0.98h-0.94zM316.66 534.08h1.14v1.18h-1.14zM333.61 541.69h1.15v1.19h-1.15zM321.71 519.44h1.55v1.82h-1.55zM325.14 514.24h1.14v1.19h-1.14zM322.87 516.09h1.15v0.92h-1.15zM312.76 522.83h1.09v1h-1.09zM320.87 511.82h1.02v0.82h-1.02zM342.96 509.57h1.18v1.23h-1.18zM308.17 535.15h1.53v1.76h-1.53zM329.61 547.73h1.14v1.34h-1.14zM343.46 526.61h1.17v1.29h-1.17zM350.39 551.38h1.03v0.88h-1.03zM345.65 545.09h1.53v1.75h-1.53zM331.58 514.44h1.27v1.2h-1.27zM350.67 539.35h0.95v1.12h-0.95zM332.18 509.39h1.3v1.24h-1.3zM301.92 523.25h1.2v1.11h-1.2zM326.57 519.78h1.58v1.34h-1.58zM302.93 512h1.52v1.51h-1.52zM349.31 544.01h1.34v1.57h-1.34zM306.82 522.42h0.92v0.86h-0.92zM299.47 523.9h1.02v1.11h-1.02zM331.01 546.4h1.53v1.53h-1.53zM317.66 520.04h1.42v1.28h-1.42zM309.77 519.8h1.48v1.34h-1.48zM351.7 530.39h1.54v1.42h-1.54zM350.64 530.25h1.15v1.21h-1.15zM336.83 514.86h1.36v1.27h-1.36zM328.22 533.58h1.37v1.55h-1.37zM302.65 552.75h1.22v1.05h-1.22zM346.35 552.84h1.09v1.2h-1.09zM302.39 521.29h1.5v1.74h-1.5zM298.95 533.83h1.17v1.15h-1.17zM340.26 510.77h1.16v1.04h-1.16zM352.45 516.35h1.46v1.34h-1.46zM353.41 513.92h1.49v1.7h-1.49zM326.2 540.68h1.07v1.15h-1.07zM328.93 544.81h1.52v1.61h-1.52zM304.78 527.41h1.54v1.45h-1.54zM306.06 540.9h1.31v1.14h-1.31zM345.15 546.91h1.47v1.3h-1.47zM354.02 529.36h1.26v1.17h-1.26zM330.91 517.97h1.56v1.37h-1.56zM326.24 518.08h1.55v1.54h-1.55zM355.2 519.65h1.47v1.74h-1.47zM337.09 540.46h1.48v1.43h-1.48zM319.16 538.65h1.49v1.73h-1.49zM335.54 543.3h1.17v1.34h-1.17zM335.01 549.5h1.35v1.29h-1.35z" fill="#8c6250" fill-opacity="0.85"/>
<path d="M302.38 519.42h0.92v0.93h-0.92zM333.77 514.46h1.04v0.98h-1.04zM310.8 545.73h1.15v0.93h-1.15zM316.08 534.24h1.08v1.15h-1.08zM333.51 546.44h1.24v1.06h-1.24zM349.44 539.03h1.56v1.6h-1.56zM325.85 540.35h1.4v1.3h-1.4zM346.78 525.19h1.04v0.85h-1.04zM339.36 547.66h1.52v1.78h-1.52zM309.5 510.77h1.09v0.94h-1.09zM340.3 510.19h1.37v1.61h-1.37zM311.36 547.88h1.18v0.97h-1.18zM355.1 519.69h1.3v1.4h-1.3zM353.51 519.05h1.46v1.49h-1.46zM325.97 524.77h1.6v1.86h-1.6zM301.07 540.86h1.49v1.64h-1.49zM340.56 517.85h1.11v1.1h-1.11zM340.24 522.7h1.5v1.46h-1.5zM304.38 544.29h0.95v0.95h-0.95zM319.02 516.27h1.24v1.34h-1.24zM340.89 525.61h1.23v1.18h-1.23zM347.43 527.6h1.32v1.31h-1.32zM348.15 547.45h1.51v1.35h-1.51zM315.94 533.09h1.27v1.27h-1.27zM322.57 509.71h1.13v0.92h-1.13zM310.2 513.21h0.96v1.03h-0.96zM346.91 538.86h1.13v0.9h-1.13zM327.49 550.78h1.45v1.59h-1.45zM352.19 538.49h1.21v1.05h-1.21zM314.16 522.17h1.22v1.15h-1.22zM306.63 536.46h1v0.8h-1zM330.5 548.22h1.48v1.69h-1.48zM352.11 546.47h1.47v1.44h-1.47zM307.24 544.29h1.41v1.46h-1.41zM340.22 519.55h1.41v1.19h-1.41zM305.86 528.56h1.14v1.23h-1.14zM313.46 543.09h1.51v1.26h-1.51zM353.97 546.6h1.2v1.1h-1.2zM298.85 535.37h1.57v1.78h-1.57zM326.99 550.8h1.22v1.03h-1.22zM321.72 524.38h1.05v1.03h-1.05zM305.03 543.11h1.04v1.16h-1.04zM310.34 519.53h1.41v1.14h-1.41zM320.57 518.62h0.99v0.92h-0.99zM328.3 527.82h1.53v1.68h-1.53zM303.46 529.34h1.26v1.47h-1.26zM320.47 539.84h0.92v0.91h-0.92zM327 549.07h0.91v0.74h-0.91zM339.74 538.79h1.33v1.44h-1.33zM317.4 535.07h1.2v1.02h-1.2zM326.47 549.27h1.38v1.21h-1.38zM336.88 517.38h1.37v1.38h-1.37zM301.86 528.81h1.5v1.62h-1.5zM303.16 523.14h0.92v1.02h-0.92zM326.11 543.71h1.16v1h-1.16zM338.37 518.24h1.16v1.21h-1.16zM307.95 518.08h1.34v1.31h-1.34zM320.14 525.37h1.05v1.12h-1.05zM322.02 521.77h1.1v0.9h-1.1zM347.33 515.01h1.09v1.02h-1.09zM334.65 532.8h1.46v1.68h-1.46zM324.47 550.76h1.4v1.36h-1.4zM320.97 514.82h1.01v1.02h-1.01zM349.05 537.39h1.39v1.28h-1.39zM321.21 548.1h1.48v1.33h-1.48zM328.32 515.93h1.04v0.96h-1.04zM326.68 545.42h1.3v1.5h-1.3zM340.25 531.18h1.41v1.49h-1.41zM345.64 552.53h1.41v1.63h-1.41zM354.44 532.75h1.09v1.04h-1.09zM335.86 527.53h1.26v1.39h-1.26zM315.01 551.39h1.4v1.68h-1.4zM354.43 537.58h1.46v1.72h-1.46zM302.57 517.64h1.14v1.19h-1.14zM324.56 512.29h1.06v1.06h-1.06zM357.54 546.43h0.98v1.14h-0.98zM326.32 544.54h1.48v1.64h-1.48zM336.3 519.07h1.07v0.88h-1.07zM351.84 530.34h1.24v1.47h-1.24zM351.63 543h1.4v1.58h-1.4zM312.16 523.25h1.25v1.19h-1.25zM329.16 520.9h1.24v1.07h-1.24zM354.81 540.42h1.37v1.53h-1.37zM315.89 540.25h1.08v1.18h-1.08zM342.85 514.12h1.02v1.08h-1.02zM347.11 535.18h1.59v1.46h-1.59zM320.65 546.76h1.12v1.03h-1.12zM308.1 524.98h0.99v1.05h-0.99zM334.51 520.52h1.34v1.42h-1.34zM302.47 525.59h1.08v1.27h-1.08zM314.54 523.74h1.58v1.77h-1.58zM333.62 538.81h1.47v1.75h-1.47zM314.41 539.84h1.12v1.18h-1.12zM312.85 524.04h1.58v1.64h-1.58zM307.04 511.1h1.3v1.16h-1.3zM348.26 524.89h1.26v1.49h-1.26zM309.55 523.36h1.41v1.28h-1.41zM311.88 511.93h1v0.96h-1zM336.11 515.18h1.32v1.35h-1.32zM333.05 540.33h1.32v1.46h-1.32zM338.7 547.55h1.22v1.09h-1.22zM343.6 547.88h1.21v1.27h-1.21zM328.18 527.32h0.97v1.1h-0.97zM343.03 517.99h1.49v1.62h-1.49zM320.11 528.23h1.17v1.17h-1.17zM321.39 537.67h0.94v0.97h-0.94zM322.52 548.73h1.38v1.25h-1.38zM329.65 517.41h1.21v1.29h-1.21zM337.89 541.19h1.36v1.44h-1.36zM342.17 550.32h1.07v1h-1.07zM298.99 548.95h0.92v0.79h-0.92zM352.4 543.28h1.05v1.18h-1.05zM328.92 548.28h1.08v0.88h-1.08zM311.42 541.44h1.15v1.15h-1.15zM313.89 524.41h0.9v0.99h-0.9zM320.88 517.13h1.58v1.68h-1.58zM337.49 513.26h1.26v1.18h-1.26zM324.49 517.21h1.3v1.14h-1.3zM351.57 538.06h1.38v1.45h-1.38zM328.7 548.05h1.43v1.55h-1.43zM338.68 550.6h0.91v0.95h-0.91zM312.02 523.4h1.06v1.05h-1.06zM332.8 550.94h1.53v1.81h-1.53zM339.85 538.55h1.33v1.09h-1.33zM320.15 551.76h1.25v1.2h-1.25zM346.24 543.44h1.18v1.01h-1.18z" fill="#c0a498" fill-opacity="0.85"/>
<rect x="363.8" y="509.1" width="60" height="44.9" fill="#c6c8d8"/>
<rect x="363.8" y="509.1" width="60" height="44.9" filter="url(#mot)" opacity="0.55"/>
<path d="M369.67 531.24h1.4v1.42h-1.4zM415.33 525.18h1.56v1.59h-1.56zM375.58 512.63h1.57v1.28h-1.57zM386.45 517.57h1.11v1.11h-1.11zM385.86 544.71h1.54v1.6h-1.54zM372.95 536.08h1.36v1.33h-1.36zM384.34 541.06h0.95v0.95h-0.95zM414.32 541.7h1.58v1.46h-1.58zM377.48 544.06h1.03v0.9h-1.03zM384.25 535.92h1.35v1.42h-1.35zM402.51 542.24h1.11v1.03h-1.11zM381.61 550.4h1.05v1.06h-1.05zM377.44 519.81h0.93v1.05h-0.93zM392.58 529.71h1.27v1.3h-1.27zM396.1 521.22h0.91v0.81h-0.91zM389.92 527.27h1.52v1.59h-1.52zM414.92 539.38h1.38v1.41h-1.38zM389.64 533.37h1.34v1.14h-1.34zM406.61 520.72h1.48v1.5h-1.48zM417.47 529.33h1.13v1.1h-1.13zM404.85 528.58h1.57v1.85h-1.57zM404.28 549.29h1.11v1.11h-1.11zM376.1 550.41h0.96v0.89h-0.96zM368.34 511.95h1.21v1.06h-1.21zM366.28 515.5h1.33v1.58h-1.33zM376.49 515.54h1.45v1.63h-1.45zM401.09 540.72h0.97v0.92h-0.97zM396.08 533.62h1.24v1.38h-1.24zM404.55 510.42h0.93v0.78h-0.93zM390.7 526.01h1.11v0.89h-1.11zM407.24 509.71h1.26v1.26h-1.26zM395.49 549.02h1.41v1.21h-1.41zM387.26 526.65h0.97v0.81h-0.97zM392.22 551.67h1.06v1.07h-1.06zM385.11 522.91h1.01v0.96h-1.01zM392.87 544.16h0.96v0.89h-0.96zM395.84 511.79h1.39v1.45h-1.39zM403.86 515.14h1.07v1.17h-1.07zM382.85 529.51h1.11v1.17h-1.11zM411.93 543.83h1.03v0.91h-1.03zM378.03 546.89h1.49v1.4h-1.49zM384.52 529.02h1.07v1.23h-1.07zM377.65 524.52h1.17v1.03h-1.17zM373.31 528h1.21v1.08h-1.21zM413.6 516.79h1.52v1.3h-1.52zM410.08 527.65h1.12v1.23h-1.12zM421.77 545.92h1.09v1.07h-1.09zM396.3 519.81h1.1v1.26h-1.1zM413.8 531.58h0.99v1.16h-0.99zM383.13 536.04h1.33v1.3h-1.33zM411.4 550.21h1.27v1.49h-1.27zM408.62 522.87h1.07v1.08h-1.07zM394.21 524.46h1.21v1.01h-1.21zM406.92 518.35h1.2v1.16h-1.2zM390.12 509.47h1.06v0.86h-1.06zM401.73 511.31h1.56v1.84h-1.56zM385.85 542.31h1.23v1.44h-1.23zM400.84 543.69h0.99v0.86h-0.99zM394.29 539.59h1.19v1.42h-1.19zM397.51 548.89h0.98v1.13h-0.98zM401.25 529.07h1.48v1.49h-1.48zM374.84 545.16h1.24v1.47h-1.24zM380.06 535.71h1.52v1.67h-1.52zM400 518.11h1.36v1.18h-1.36zM365.68 542.94h1.11v1.32h-1.11zM373.77 533.53h1.21v1.04h-1.21zM404.76 540.58h1.42v1.18h-1.42zM421.79 512.44h1.55v1.62h-1.55zM373.35 510.89h1.01v0.85h-1.01zM409.88 545.96h1.01v0.81h-1.01zM393.56 550.4h0.9v0.77h-0.9zM414.68 551.89h1.45v1.6h-1.45zM373.96 544.62h0.93v1h-0.93zM408 528.16h1.53v1.54h-1.53zM369.63 519.38h1.5v1.36h-1.5zM421.25 537.43h1.31v1.48h-1.31zM387.43 515.51h1.22v1.28h-1.22zM396.89 537.45h0.96v1.14h-0.96zM384.54 517.72h1.26v1.18h-1.26zM418.65 549.57h0.92v0.89h-0.92zM383.99 546.72h1.11v1.09h-1.11zM409.61 515.68h1.56v1.5h-1.56zM377.35 544.41h1.39v1.46h-1.39zM398.77 541.34h1.52v1.81h-1.52zM398.12 511.26h1.28v1.36h-1.28zM379.28 544.72h1.15v1.16h-1.15zM419.89 525.13h1.47v1.74h-1.47zM421.95 542.35h1.5v1.47h-1.5zM381.15 525.9h1.21v1.22h-1.21zM386.96 551.86h1.33v1.16h-1.33zM364.51 543.97h1.14v0.94h-1.14zM422.22 529.29h1.01v1.12h-1.01zM404.89 533.45h1.36v1.52h-1.36zM414.06 528.39h1.26v1.03h-1.26zM401.6 546.38h0.9v0.82h-0.9zM397.76 539.99h1.25v1.23h-1.25zM403.89 512.58h0.96v0.77h-0.96zM380.54 524.03h1.15v1.16h-1.15zM367.54 545.04h1.29v1.16h-1.29zM417.18 531.68h0.96v0.94h-0.96zM419.57 541.43h1.25v1.06h-1.25zM372.31 520.68h1.12v1.04h-1.12zM367.39 535.21h1.33v1.14h-1.33zM364.44 515.85h1.43v1.45h-1.43zM411.36 538.45h1.28v1.46h-1.28zM374.23 516.3h1.5v1.33h-1.5zM375.9 541.3h0.97v0.99h-0.97zM399.84 539.98h1.25v1.23h-1.25zM416.95 517.5h0.97v1.15h-0.97zM402.81 529.46h1.47v1.33h-1.47zM374.34 515.38h1.18v1.37h-1.18zM403.94 549.79h1.15v1.37h-1.15zM388.92 533.63h1.27v1.29h-1.27zM410.82 546.26h1.4v1.49h-1.4zM402.06 539.28h1.12v1.04h-1.12zM415.81 526.62h0.93v1.03h-0.93zM399.84 523.26h1.59v1.46h-1.59zM417.33 535.51h1.2v1.16h-1.2zM392.84 519.45h1.2v1.03h-1.2zM418.54 519.11h0.91v0.84h-0.91zM386.88 542.64h1.46v1.21h-1.46zM411.59 541.74h1.01v1.14h-1.01zM400 535.86h1.05v1.14h-1.05zM414.35 542.64h1.05v1.16h-1.05zM386.04 529.3h1.44v1.62h-1.44zM409.68 517.41h1.08v1.23h-1.08zM387.44 536.14h1.42v1.47h-1.42zM411.64 531.73h0.91v0.79h-0.91zM407.18 517.77h1.12v1.2h-1.12zM400.67 533.31h1.06v1.02h-1.06zM390.44 550.32h1.25v1.24h-1.25zM402.75 533.49h1.48v1.6h-1.48zM367.03 534.12h1.48v1.24h-1.48zM369.6 533.43h1.46v1.36h-1.46zM393.39 549.51h1.28v1.52h-1.28zM394.74 513.53h1.44v1.66h-1.44zM409.83 549.13h0.91v0.89h-0.91zM382.31 527.15h1.59v1.61h-1.59zM384.31 547.21h1.4v1.36h-1.4zM392.51 516.11h1.52v1.57h-1.52zM404.88 527.48h1.51v1.59h-1.51zM414.85 512.09h1.37v1.57h-1.37zM418.45 530.7h1.02v0.91h-1.02zM383.15 533.16h1.33v1.22h-1.33zM395 538.3h1.53v1.24h-1.53zM402.47 549.11h0.92v1.01h-0.92zM413.31 544.19h0.94v1.04h-0.94zM381.23 526.08h1.42v1.49h-1.42zM383.62 525.12h1.35v1.16h-1.35zM396.26 523.95h1.31v1.37h-1.31zM421.9 511.86h1.17v1.34h-1.17zM399.96 515.05h0.92v1.03h-0.92zM396.91 541.47h1.41v1.21h-1.41zM405.66 529.21h1.29v1.13h-1.29zM378.9 512.39h1.47v1.4h-1.47zM381.06 529.02h1.45v1.22h-1.45zM365.32 514.44h1.42v1.7h-1.42zM409.97 546.03h1.44v1.49h-1.44zM390.91 517.64h1.49v1.37h-1.49zM368.85 515.13h0.95v0.99h-0.95zM417.43 550.95h1.26v1.22h-1.26zM383.53 512.83h1.43v1.24h-1.43zM378.29 509.56h0.92v0.85h-0.92zM396.36 526.82h1.2v0.97h-1.2zM416.81 516.71h1.53v1.66h-1.53zM395.29 538.59h0.92v1.06h-0.92zM408.57 520.07h1.09v1.23h-1.09zM375.9 547.35h0.96v0.89h-0.96zM421.14 545.3h1.27v1.38h-1.27zM417.91 531.75h1.55v1.65h-1.55zM407.69 532.21h1.35v1.51h-1.35zM368.85 541.84h1.16v1.31h-1.16zM396.79 520.91h1.5v1.65h-1.5zM370.7 537.19h1.11v1.17h-1.11zM388.43 528.97h0.9v0.82h-0.9zM420.03 528.38h1.56v1.28h-1.56zM418.34 537.85h1.16v1.11h-1.16zM402.57 539.6h1.45v1.21h-1.45zM374.85 551.99h1.42v1.56h-1.42z" fill="#986a56" fill-opacity="0.85"/>
<path d="M376.41 522.42h0.95v0.95h-0.95zM394.52 530.2h1.45v1.64h-1.45zM409.01 534.7h1.3v1.19h-1.3zM414.2 535.88h1.57v1.4h-1.57zM406.33 517.64h1.16v1.21h-1.16zM401.62 515.08h1.48v1.75h-1.48zM370.13 509.15h1.25v1.39h-1.25zM415.49 511.19h1.51v1.62h-1.51zM365.09 531.43h1.16v0.97h-1.16zM415.78 528.58h1.35v1.55h-1.35zM411.19 520.76h1.57v1.79h-1.57zM397.1 512.34h1.33v1.22h-1.33zM418.26 520.21h1.47v1.7h-1.47zM369.97 524.32h1.14v1.28h-1.14zM421.32 517.78h0.91v0.77h-0.91zM415.85 544.98h1.42v1.36h-1.42zM368.45 516.09h1.44v1.25h-1.44zM396.11 525.93h1.19v1.04h-1.19zM387.98 513.58h1.15v1.13h-1.15zM377.93 541.41h1.05v1.01h-1.05zM367.81 552.15h1.24v1.18h-1.24zM393.43 528.61h1.52v1.61h-1.52zM367.91 519.05h1.3v1.09h-1.3zM415.99 515.62h1.33v1.07h-1.33zM376.6 541.31h1.02v0.93h-1.02zM415.48 547.46h1.39v1.44h-1.39zM409.06 552.25h1.38v1.48h-1.38zM374.88 526.06h1.3v1.41h-1.3zM410.9 531.59h1.53v1.74h-1.53zM393 514.43h0.93v1.05h-0.93zM414.59 529.12h1.08v1h-1.08zM404.06 518.98h1.34v1.52h-1.34zM364.05 544.64h1.57v1.72h-1.57zM375 543.4h1.33v1.25h-1.33zM409.8 540.07h1.06v0.87h-1.06zM398.57 521.66h1.47v1.39h-1.47zM410.33 518.12h1.56v1.32h-1.56zM376.45 512.8h1.18v1.28h-1.18zM421.44 532.77h1.22v1.07h-1.22zM402.25 518.49h1.59v1.71h-1.59zM412.46 549.45h1.43v1.48h-1.43zM368.66 512.56h1v0.82h-1zM382.72 522.73h1.11v1.15h-1.11zM401.82 550.41h1.32v1.23h-1.32zM382.12 548.99h0.98v0.89h-0.98zM387.3 533.59h0.94v0.86h-0.94zM375.82 548.03h1.07v1.2h-1.07zM410.53 529.78h1.38v1.44h-1.38zM414.18 535.7h1.32v1.32h-1.32zM400.37 509.19h1.15v1.2h-1.15zM363.9 545.53h1.47v1.19h-1.47zM422.01 514.23h1.34v1.38h-1.34zM386.99 530.63h1.39v1.45h-1.39zM390.79 534.96h1.52v1.39h-1.52zM415.45 523.79h0.92v1.08h-0.92zM398.63 515.04h1.12v1.27h-1.12zM388.99 522.79h1.48v1.24h-1.48zM380.91 511.21h1.05v0.85h-1.05zM404.32 535.04h1.4v1.67h-1.4zM402.81 529.56h1.14v1.28h-1.14zM374.94 518.68h1.15v1.01h-1.15zM395.12 521.34h1.37v1.15h-1.37zM372.41 533.04h1.48v1.3h-1.48zM381.88 536.86h1.09v0.89h-1.09zM379.54 511.19h0.91v0.82h-0.91zM382.28 516.96h0.97v1.16h-0.97zM367.31 529.57h1.36v1.14h-1.36zM378.78 544.48h1.07v1.06h-1.07zM380.34 511.3h1.42v1.46h-1.42zM380.96 526.17h1.16v1.3h-1.16zM419.74 546.57h1.55v1.54h-1.55zM374.91 511.83h0.91v1.05h-0.91zM401.59 540.15h1.03v0.89h-1.03zM378.83 544.72h1.14v1.05h-1.14zM367.02 548.29h1.1v0.95h-1.1zM381.8 536.57h1.03v0.96h-1.03zM400.56 522.63h1.34v1.26h-1.34zM378.2 525.45h1.13v1.11h-1.13zM378.8 550.9h1.57v1.85h-1.57zM387.61 532.16h0.92v0.9h-0.92zM401.88 522.23h1.17v1.21h-1.17zM401.79 540.44h1.06v1.22h-1.06zM414 510.8h1.1v1.24h-1.1zM405.87 537.81h1.48v1.48h-1.48zM411.14 530.89h1.3v1.17h-1.3zM397.59 532.71h1.01v1.07h-1.01zM409.43 528.1h1.13v1.32h-1.13zM418.2 551.5h1.19v1.04h-1.19zM390.99 525.37h1.17v1.17h-1.17zM390.63 550.91h1.28v1.44h-1.28zM418.48 523.28h1.55v1.43h-1.55zM365.84 538.49h0.97v0.86h-0.97zM413.35 550.28h1.3v1.48h-1.3zM376.89 543.27h0.95v0.93h-0.95zM386.61 512.62h1.04v1.08h-1.04zM392.54 509.46h0.93v0.95h-0.93zM395.47 540.82h1.46v1.72h-1.46zM397.2 512.86h1.59v1.59h-1.59zM406.52 531.01h1.41v1.4h-1.41zM377.93 512.74h1.32v1.42h-1.32zM381.48 527.57h1.02v0.86h-1.02zM413.69 515.41h1.05v1.02h-1.05zM378.72 534.4h1.22v1.4h-1.22zM379.15 542.74h1.39v1.33h-1.39zM399.67 539h1.03v0.85h-1.03zM422.62 514.28h0.96v0.99h-0.96zM387.28 509.25h1.57v1.42h-1.57zM396.91 532.5h0.93v0.78h-0.93zM403.58 540.17h1.26v1.07h-1.26zM366.38 511.89h1.59v1.4h-1.59zM410.49 516.08h1.05v0.92h-1.05zM378.26 525.58h1.31v1.47h-1.31zM401.07 533.82h1.25v1.12h-1.25zM385.27 529.25h1.48v1.34h-1.48zM370.54 519.53h0.97v1.14h-0.97zM405.42 530.02h1.13v1.06h-1.13zM413.76 539.88h1.32v1.27h-1.32zM380.64 512.84h1.57v1.75h-1.57zM376.5 550.59h1.51v1.33h-1.51zM374.66 549.15h1.16v1.14h-1.16zM391.17 520.64h1.28v1.4h-1.28zM387.06 525.12h1.56v1.27h-1.56zM375.56 549.29h1.09v1.27h-1.09zM390.81 530.25h1.08v0.99h-1.08zM380.94 551.58h1.09v1.26h-1.09zM389.95 533.43h1.01v1.13h-1.01zM364.68 521.96h1.09v1.19h-1.09zM386.34 547.97h1.6v1.48h-1.6zM384.76 522.47h1.19v1.39h-1.19zM391.02 552.2h1.04v1.07h-1.04zM402.49 532.57h1.05v0.97h-1.05zM374.32 509.83h0.92v1.09h-0.92zM396.5 538.62h1.19v1h-1.19zM384.75 528.52h1.27v1.32h-1.27zM388.12 549.54h1.39v1.16h-1.39zM390.37 525.59h1.16v0.95h-1.16zM421.48 525.83h1.22v1.3h-1.22zM370.57 510.51h1.34v1.08h-1.34zM418.71 510.01h1.3v1.3h-1.3zM382.3 528.04h0.91v0.89h-0.91zM404.26 544.07h1.56v1.71h-1.56zM408.12 536.52h1.42v1.25h-1.42zM381.81 510.22h1.39v1.46h-1.39zM397.68 551.92h1.28v1.33h-1.28zM418.32 514.95h1.35v1.38h-1.35zM395.69 525.43h1.11v1.17h-1.11zM370.05 513.02h1.03v0.94h-1.03zM396 542.61h1.28v1.34h-1.28zM414.95 549.69h1.59v1.79h-1.59zM373.1 529.06h1.25v1.5h-1.25zM396.56 519.06h1.46v1.33h-1.46zM404.73 526.55h1.52v1.27h-1.52zM420.87 529.43h1.37v1.38h-1.37zM409.62 513.17h0.99v0.99h-0.99zM379.18 519.02h0.94v0.84h-0.94zM369.69 545.57h1.47v1.42h-1.47zM391.71 529.24h1v0.95h-1zM365.68 547.04h1v0.93h-1zM384.76 545.01h1.03v1.19h-1.03zM417.51 510.24h1.01v0.95h-1.01zM365.12 537.42h0.95v1h-0.95zM414.52 525.29h1.52v1.66h-1.52zM416.29 542.84h1.1v1.14h-1.1zM382.96 547.24h1.06v1.03h-1.06z" fill="#ab8370" fill-opacity="0.85"/>
<path d="M384.65 516.28h0.93v1.01h-0.93zM395.21 544.57h1.24v1.28h-1.24zM402.94 546.07h0.96v0.93h-0.96zM414.23 514.83h1.59v1.31h-1.59zM394.61 523.39h1.25v1.25h-1.25zM389.15 549.82h1.58v1.32h-1.58zM421.2 518.27h1.4v1.39h-1.4zM385.9 514.07h1.44v1.26h-1.44zM364.12 545.06h1.53v1.24h-1.53zM420.86 519.8h1.59v1.51h-1.59zM389.87 520.19h1.43v1.31h-1.43zM400.69 535.23h1.41v1.46h-1.41zM390.9 533.5h1.37v1.35h-1.37zM408.54 549.97h1.57v1.54h-1.57zM390.12 545.69h1.48v1.69h-1.48zM410.76 528.83h1.59v1.73h-1.59zM389.82 532.56h1.38v1.46h-1.38zM395.27 527.48h1.33v1.38h-1.33zM389.65 538.2h0.98v0.98h-0.98zM419.27 531.46h1.53v1.56h-1.53zM412.08 527.81h1.29v1.24h-1.29zM396.7 529h1.38v1.39h-1.38zM372.44 526.3h1.14v1.3h-1.14zM384.97 541.39h0.96v1.05h-0.96zM403.18 551.22h1.42v1.36h-1.42zM405.41 535.73h1.37v1.57h-1.37zM372.89 539.94h1.56v1.58h-1.56zM404.72 513.4h1.32v1.45h-1.32zM400.41 543.81h1.48v1.23h-1.48zM371.17 540.49h1.03v1.03h-1.03zM366.2 532.99h1.52v1.36h-1.52zM371.89 515.69h1.33v1.29h-1.33zM411.45 529.1h1.53v1.46h-1.53zM372.42 530.23h1.29v1.52h-1.29zM391.75 539.64h1.04v1.21h-1.04zM384.65 542.66h1.03v1.03h-1.03zM386.29 532.14h0.96v0.8h-0.96zM385.3 529.89h1.38v1.48h-1.38zM417.15 521.64h1.41v1.37h-1.41zM414.12 546.46h0.97v1.03h-0.97zM404.01 515.18h1.11v1h-1.11zM414.97 518.5h1.04v0.85h-1.04zM371.66 532.44h1.55v1.32h-1.55zM387.41 513.13h1.45v1.6h-1.45zM379.33 518.22h1.56v1.78h-1.56zM391.75 536.35h1.34v1.44h-1.34zM377.57 533.72h1.23v1.14h-1.23zM422.25 543.2h1.46v1.55h-1.46zM403.06 545.4h1.58v1.59h-1.58zM404.09 523.11h1.37v1.61h-1.37zM402.6 529.9h0.92v1h-0.92zM413.23 550.8h1.49v1.75h-1.49zM412.51 532.22h1.11v0.96h-1.11zM387.83 544.83h0.99v1h-0.99zM402.71 515.94h1.1v1.03h-1.1zM401.01 510.11h1.52v1.26h-1.52zM365.03 547.04h1.55v1.61h-1.55zM392.63 531.88h1.59v1.28h-1.59zM413.82 515.48h1.21v1.15h-1.21zM414.79 517.49h1.22v1.36h-1.22zM406.63 549.5h1.18v1.28h-1.18zM414.71 547.45h1.02v1.17h-1.02zM374.49 539.45h1.52v1.68h-1.52zM369.53 527.86h1.14v0.91h-1.14zM398.22 516.05h1.59v1.63h-1.59zM395.26 517.8h1.11v1.06h-1.11zM412.17 513.41h1.38v1.52h-1.38zM392.63 519.85h1.52v1.6h-1.52zM374.84 550.3h1.54v1.64h-1.54zM393.34 542.95h1.34v1.5h-1.34zM390.48 535.29h1.46v1.69h-1.46zM420.65 531.7h1.2v1.36h-1.2zM385.02 521.81h1.26v1.22h-1.26zM412.84 510.5h1.33v1.18h-1.33zM386.86 516.4h1v1.19h-1zM421.99 542.12h1.32v1.08h-1.32zM368.64 512h1.51v1.54h-1.51zM412.56 531.47h1.32v1.29h-1.32zM416.39 547.99h0.97v0.98h-0.97zM421.59 515.57h1.07v1.18h-1.07zM394.51 521.06h1.26v1.21h-1.26zM405.65 521.53h1.08v1.29h-1.08zM395.56 522.86h1.4v1.2h-1.4zM376.33 541.89h1.06v1.08h-1.06zM412.38 545.82h1.17v0.96h-1.17zM388.37 512.74h1.04v0.91h-1.04zM364.21 539.54h1.59v1.88h-1.59zM409.44 525.53h1.5v1.7h-1.5zM386.11 510.12h1.45v1.34h-1.45zM370.1 531.56h1.45v1.67h-1.45zM391.33 522.35h0.96v0.96h-0.96zM393.89 525.86h1.15v1.33h-1.15zM412.94 511.54h1.39v1.24h-1.39zM382.63 512.62h1.45v1.72h-1.45zM385.39 527.51h1.46v1.42h-1.46zM414.54 524.78h1.42v1.68h-1.42zM396.13 515.99h1.34v1.26h-1.34zM399.26 531.04h1.32v1.58h-1.32zM400.39 525.06h0.92v0.74h-0.92zM386.25 510.65h1.34v1.41h-1.34zM407.37 539.21h0.96v0.93h-0.96zM411.67 547.35h1.36v1.33h-1.36zM372.47 528.55h1.15v1.21h-1.15zM419.01 549.96h1.38v1.24h-1.38zM419.66 531.82h1.14v1.1h-1.14zM371.52 545.3h1.5v1.53h-1.5zM379.23 514.63h1.47v1.67h-1.47zM373.23 511.11h1.11v1.28h-1.11zM373.63 518.12h1.09v1.04h-1.09zM395.69 549.55h1.58v1.56h-1.58zM396.87 511.91h1.35v1.32h-1.35zM388.79 535.02h1.35v1.54h-1.35zM397.19 523.37h1.04v0.93h-1.04zM367.63 546.65h1.09v1.31h-1.09zM396.22 513.8h1.31v1.27h-1.31zM367.2 518.48h1.29v1.14h-1.29zM411.9 519.41h1.35v1.34h-1.35zM402.24 521.12h1.01v1.03h-1.01zM377.4 509.8h1.56v1.49h-1.56zM402.78 534.23h1.41v1.29h-1.41zM402.88 549.59h1.13v1.24h-1.13zM366.88 511.35h1.39v1.51h-1.39zM388.04 513.03h1.25v1.45h-1.25zM420 542.51h0.91v1.02h-0.91zM367.63 521.58h1.51v1.64h-1.51zM411.38 541.5h1.31v1.21h-1.31zM406.59 545.18h1v1.07h-1zM390.77 519.31h1.39v1.3h-1.39zM379.58 546.34h1.15v1.29h-1.15zM380.86 533.75h0.91v0.83h-0.91zM400.03 513.01h1.6v1.9h-1.6zM407.65 533.41h1.11v0.9h-1.11zM365.74 518.73h0.93v0.92h-0.93zM375.07 548.55h0.93v0.83h-0.93zM399.12 523.45h1.36v1.56h-1.36zM412.11 548.47h1.44v1.55h-1.44zM416.46 527.84h1.11v1.18h-1.11zM408.81 529.14h1.39v1.42h-1.39zM415.6 529.31h1.3v1.37h-1.3zM417.73 538.72h1.05v1.17h-1.05zM394.08 537.87h0.91v0.81h-0.91zM383.98 516.39h1.41v1.31h-1.41zM410.21 541.37h1.35v1.12h-1.35zM367.99 543.44h1.32v1.54h-1.32zM398.1 519.3h1.22v1.35h-1.22zM393.59 516.01h1.57v1.59h-1.57zM366.02 517.18h1.17v1.36h-1.17zM395.22 533.35h1.56v1.32h-1.56zM409.73 518.95h1.56v1.85h-1.56zM410.19 528.42h1.14v1.1h-1.14zM376.08 520.99h0.91v0.74h-0.91zM418.1 515.84h1.4v1.35h-1.4zM398.29 551.15h1.34v1.37h-1.34zM383.89 522.3h1.56v1.47h-1.56zM376.58 531.72h1.57v1.57h-1.57zM405.34 531.85h1.51v1.78h-1.51z" fill="#84563f" fill-opacity="0.85"/>
<path d="M406.54 528.25h1.27v1.04h-1.27zM391.95 544.82h0.95v0.82h-0.95zM420.75 549.49h1.12v1.08h-1.12zM401.25 518.95h1.38v1.13h-1.38zM404.02 509.2h1.6v1.38h-1.6zM372.23 530.11h1.54v1.64h-1.54zM365.58 521.17h1.03v1.16h-1.03zM420.38 518.45h1.44v1.53h-1.44zM383.09 517.62h1.2v1.17h-1.2zM410.14 519.79h0.92v1.01h-0.92zM391.88 530.56h1.59v1.58h-1.59zM421.05 521.8h1.45v1.33h-1.45zM389.02 528.32h0.93v1.09h-0.93zM391.65 521.26h1.56v1.36h-1.56zM388.28 524.96h1.09v1.24h-1.09zM409.35 533.77h1.36v1.36h-1.36zM414.45 509.89h0.98v1.05h-0.98zM370.21 522.58h1.01v0.83h-1.01zM414.88 540.7h1.24v1.26h-1.24zM422.43 515.13h0.91v1.04h-0.91zM373.02 521.81h1.14v1.28h-1.14zM403.2 538.42h1.25v1.17h-1.25zM406.31 525.58h1.04v0.91h-1.04zM411.17 528.88h1.12v0.97h-1.12zM397.03 540.45h1.09v0.91h-1.09zM369.8 521.22h1.44v1.44h-1.44zM399.29 518.85h1.48v1.29h-1.48zM421.44 549.68h1.04v1.16h-1.04zM422.55 509.33h1.06v1.17h-1.06zM399.9 550.83h1.52v1.44h-1.52zM408.24 513.68h1.31v1.27h-1.31zM421.3 540.69h1.06v1.04h-1.06zM385.13 518.08h1.39v1.27h-1.39zM384.4 514.22h1.59v1.68h-1.59zM377.27 524.41h1.11v1h-1.11zM391.43 548.86h1.31v1.1h-1.31zM412.54 510.19h1.32v1.09h-1.32zM421.07 515.48h1.49v1.28h-1.49zM402.46 537.18h1.26v1.08h-1.26zM404.5 525.22h1.33v1.55h-1.33zM392.74 550.06h1.17v1.3h-1.17zM405.22 547.54h1.37v1.21h-1.37zM372.09 541.76h1.32v1.45h-1.32zM413.33 547.6h0.94v1.03h-0.94zM382.85 549.1h0.98v1.02h-0.98zM385.25 521.79h0.95v1.12h-0.95zM400.39 527.71h1.46v1.61h-1.46zM417.38 551.39h1.27v1.42h-1.27zM417.29 516.92h1.03v0.88h-1.03zM381.82 535.58h1.27v1.48h-1.27zM415.75 527.36h1.06v0.89h-1.06zM370.05 511.91h1.36v1.58h-1.36zM387.56 527.58h1.35v1.15h-1.35zM406.87 547.78h1.2v1.22h-1.2zM420.63 526.35h1.36v1.3h-1.36zM384.49 528.5h0.96v1.06h-0.96zM404.68 547.6h1.56v1.46h-1.56zM393.25 516.19h0.91v0.81h-0.91zM379.08 514.9h1.45v1.21h-1.45zM368.08 512.29h1.2v1.15h-1.2zM366.8 510.55h1.09v1.21h-1.09zM419.4 541.01h1.08v1.2h-1.08zM412.35 542.09h0.94v0.83h-0.94zM394.96 511.7h1.43v1.51h-1.43zM390.68 547.11h1.49v1.54h-1.49zM396.71 521.66h0.93v0.9h-0.93zM388.29 544.04h1.59v1.73h-1.59zM398.03 543.87h1.5v1.25h-1.5zM375.26 535.47h1.19v1.37h-1.19zM367.8 541.16h1.47v1.55h-1.47zM414.48 527.13h1v0.86h-1zM391.86 544.48h1.37v1.15h-1.37zM364.06 552.69h1.1v1h-1.1zM373.58 543.71h1.03v1.11h-1.03zM365.36 549.96h1.09v1.1h-1.09zM380.42 541.72h1.59v1.85h-1.59zM409.25 511.83h1.22v1.12h-1.22zM408.54 544.15h1.45v1.36h-1.45zM413.16 518.27h1.26v1.26h-1.26zM392.66 541.41h1.25v1.13h-1.25zM372.39 539.87h1.29v1.11h-1.29zM370.47 523.28h1.57v1.6h-1.57zM380.33 540.34h1.2v1.4h-1.2zM369.73 543.42h1.26v1.41h-1.26zM393.08 516.52h1.01v0.97h-1.01zM380.7 546.99h1.08v1.25h-1.08zM413.75 521.92h1.43v1.24h-1.43zM392.91 548.16h1.37v1.58h-1.37zM402.04 517.83h1.01v1.11h-1.01zM369.21 514.54h0.95v0.94h-0.95zM405.95 546.29h1.58v1.72h-1.58zM414.76 519.68h1.07v1.24h-1.07zM421.83 551.49h1.6v1.62h-1.6zM406.32 536.78h1.11v1.08h-1.11zM393.5 543.06h1.56v1.79h-1.56zM402.08 512.36h1.28v1.17h-1.28zM411.26 509.3h1.27v1.22h-1.27zM382.54 532.67h1.13v1.33h-1.13zM389.26 512.09h0.95v0.82h-0.95zM422.62 520.88h1.12v1.15h-1.12zM372.66 528.78h1.56v1.57h-1.56zM408.09 514.03h1.28v1.24h-1.28zM387.05 511.07h1.17v1.22h-1.17zM381.16 545.5h1.58v1.42h-1.58zM419.37 516.03h1.03v0.87h-1.03zM380.62 516.13h1.47v1.6h-1.47zM380.07 537.96h0.92v0.92h-0.92zM402.04 520.03h1.49v1.55h-1.49zM397.44 537.2h1.44v1.49h-1.44zM365.28 546.27h0.95v0.78h-0.95zM419.15 529.84h1.49v1.49h-1.49zM410.53 516.68h1.27v1.33h-1.27zM402.79 537.33h0.97v1.08h-0.97zM384.33 542.66h1.04v1.22h-1.04zM385.71 520.77h1.13v1.11h-1.13zM375.3 520.58h1.52v1.73h-1.52zM363.9 546.69h1.24v1.35h-1.24zM392.48 519.13h1.45v1.61h-1.45zM377.83 546.69h1.48v1.5h-1.48zM397.7 509.64h1.02v1.12h-1.02zM366.64 525.94h1.39v1.35h-1.39zM382.22 523.47h1.21v1.29h-1.21zM387.03 540.9h1.4v1.28h-1.4zM396.3 513.04h1.04v1.12h-1.04zM418.71 545.84h1.29v1.08h-1.29zM366.2 529.79h1.05v1.08h-1.05zM407.75 541.62h1.32v1.07h-1.32zM364.39 544.08h1.05v1.04h-1.05zM404.17 521.19h1.02v1.14h-1.02zM374.1 522.55h1.17v1.24h-1.17zM418.61 531.25h1.41v1.22h-1.41zM412.63 521.1h1.37v1.1h-1.37zM417.28 511.96h1.36v1.59h-1.36zM411.09 532.27h1.39v1.35h-1.39zM403.84 511.47h1.31v1.55h-1.31zM403.66 510.54h1.05v1.11h-1.05zM390.41 518.41h1.09v1.3h-1.09zM367.13 548.46h1.6v1.28h-1.6zM371.85 528.39h1.55v1.78h-1.55zM420.06 539.16h1.11v1.32h-1.11zM410.95 520.44h1.46v1.39h-1.46z" fill="#bc9a8a" fill-opacity="0.85"/>
<rect x="351.5" y="548.6" width="3.6" height="1.2" fill="#e0201a"/>
<rect x="416.6" y="548.8" width="3.8" height="1.2" fill="#e0201a"/>
<text x="10.2" y="580.59" font-size="11.8" font-weight="bold">I</text>
<text x="21.4" y="588.01" font-size="9.6" font-weight="bold">i</text>
<text x="201.2" y="588.41" font-size="9.6" font-weight="bold">ii</text>
<text x="299.3" y="588.21" font-size="9.6" font-weight="bold">iii</text>
<text x="89.3" y="578.25" font-size="6.9" text-anchor="middle" fill="#222" textLength="19.3" lengthAdjust="spacingAndGlyphs">8 days</text>
<text x="89.3" y="586.15" font-size="6.9" text-anchor="middle" fill="#222" textLength="31.5" lengthAdjust="spacingAndGlyphs">stimulation</text>
<text x="89.3" y="593.95" font-size="6.9" text-anchor="middle" fill="#222" textLength="52.9" lengthAdjust="spacingAndGlyphs">By anti-CD3/CD28</text>
<text x="89.3" y="601.45" font-size="6.9" text-anchor="middle" fill="#222" textLength="44.2" lengthAdjust="spacingAndGlyphs">antibody beads</text>
<text x="106.7" y="611.25" font-size="6.9" fill="#222" textLength="50.6" lengthAdjust="spacingAndGlyphs">Neutral condition</text>
<text x="104.8" y="618.85" font-size="6.9" fill="#222" textLength="53.9" lengthAdjust="spacingAndGlyphs">(without rmIL4 and</text>
<text x="103.5" y="626.75" font-size="6.9" fill="#222" textLength="56.5" lengthAdjust="spacingAndGlyphs">anti IFN-&#947; antibody)</text>
<text x="114.4" y="650.65" font-size="6.9" fill="#222" textLength="40.4" lengthAdjust="spacingAndGlyphs">TH2 condition</text>
<text x="105.4" y="658.65" font-size="6.9" fill="#222" textLength="57.1" lengthAdjust="spacingAndGlyphs">(with rmIL4 and anti</text>
<text x="111.9" y="665.95" font-size="6.9" fill="#222" textLength="44.8" lengthAdjust="spacingAndGlyphs">IFN-&#947; antibody)</text>
<text x="177.3" y="631.05" font-size="6.9" fill="#222" textLength="20.5" lengthAdjust="spacingAndGlyphs">GATA3</text>
<text x="172.1" y="639.05" font-size="6.9" fill="#222" textLength="30.8" lengthAdjust="spacingAndGlyphs">expression</text>
<text x="62.4" y="650.75" font-size="6.9" text-anchor="middle" fill="#222" textLength="32.8" lengthAdjust="spacingAndGlyphs">Naive T cell</text>
<polyline points="29,618.9 29,634.5 38.5,634.5" fill="none" stroke="#111" stroke-width="1.5" stroke-linejoin="round"/>
<line x1="37" y1="634.5" x2="37.9" y2="634.5" stroke="#111" stroke-width="1.3"/>
<polygon points="44.4,634.5 37.9,636.4 37.9,632.6" fill="#111"/>
<line x1="81.2" y1="632.9" x2="100.56" y2="619.12" stroke="#111" stroke-width="1.3"/>
<polygon points="104.8,616.1 101.84,620.91 99.29,617.32" fill="#111"/>
<line x1="81.2" y1="640.7" x2="98.3" y2="652.37" stroke="#111" stroke-width="1.3"/>
<polygon points="102.6,655.3 97.06,654.19 99.54,650.55" fill="#111"/>
<line x1="151" y1="632.4" x2="166.3" y2="632.4" stroke="#111" stroke-width="1.3"/>
<polygon points="171.5,632.4 166.3,634.6 166.3,630.2" fill="#111"/>
<path d="M57.4,600.9 C61.5,600.8 62,603.8 59,605.0 C56,606.2 53,606.0 51,605.6" fill="none" stroke="#c8a88e" stroke-width="0.9"/>
<path d="M15.8,598.9 C17,597.4 19.5,596.2 22.5,595.4 C26,594.6 29,595.4 32,595.0 C36,594.3 41,594.6 45,596.6 C48,598.2 50.2,601.5 51.6,604.6 C52.2,605.6 51.8,606.4 50.5,606.9 C48,608.2 45,609.0 41.5,609.2 C37.5,609.4 34,609.2 31,608.2 C27.5,606.8 24,604.6 20.5,602.2 C18.5,601.0 16.6,600.2 15.8,598.9 Z" fill="#46474b" stroke="none" stroke-width="1"/>
<ellipse cx="29.1" cy="597.0" rx="1.9" ry="2.5" fill="#c8a88e"/>
<ellipse cx="24.6" cy="593.8" rx="0.9" ry="1.3" fill="#c8a88e"/>
<circle cx="16.1" cy="599.0" r="0.8" fill="#d98f8a"/>
<path d="M29.5,607.8 L28.6,610.6 L31.8,610.9" fill="none" stroke="#c8a88e" stroke-width="1"/>
<path d="M44.5,608.8 L43.6,611.2 L41,612.0 M43.6,611.2 L46.6,611.0" fill="none" stroke="#c8a88e" stroke-width="1"/>
<defs><radialGradient id="ycell" cx="0.4" cy="0.35" r="0.65"><stop offset="0" stop-color="#fbf89a"/><stop offset="0.6" stop-color="#f0e836"/><stop offset="1" stop-color="#d9cc1c"/></radialGradient></defs>
<circle cx="56.3" cy="623.5" r="4.0" fill="url(#ycell)"/>
<circle cx="62.1" cy="626.4" r="4.0" fill="url(#ycell)"/>
<circle cx="67.9" cy="628.1" r="4.0" fill="url(#ycell)"/>
<circle cx="54.6" cy="629.3" r="4.0" fill="url(#ycell)"/>
<circle cx="60.9" cy="631" r="4.0" fill="url(#ycell)"/>
<circle cx="68.4" cy="633.3" r="4.0" fill="url(#ycell)"/>
<circle cx="70.7" cy="634.5" r="4.0" fill="url(#ycell)"/>
<circle cx="50.6" cy="633.3" r="4.0" fill="url(#ycell)"/>
<circle cx="56.9" cy="636.2" r="4.0" fill="url(#ycell)"/>
<circle cx="63.3" cy="638.5" r="4.0" fill="url(#ycell)"/>
<text x="224.4" y="583.78" font-size="7" fill="#222" textLength="50.2" lengthAdjust="spacingAndGlyphs">Neutral condition</text>
<text x="330.2" y="584.28" font-size="7" fill="#222" textLength="40.6" lengthAdjust="spacingAndGlyphs">TH2 condition</text>
<rect x="211.6" y="588" width="76.3" height="75.4" fill="none" stroke="#000" stroke-width="1.3"/>
<path d="M211.8,663.4 C214.5,663.3 224.83,663.12 228,662.8 C231.17,662.48 229.7,663.97 230.8,661.5 C231.9,659.03 233.48,654.08 234.6,648 C235.72,641.92 236.8,630.28 237.5,625 C238.2,619.72 238.25,616.63 238.8,616.3 C239.35,615.97 240.05,618.67 240.8,623 C241.55,627.33 242.25,636.83 243.3,642.3 C244.35,647.77 245.35,652.6 247.1,655.8 C248.85,659 251.98,660.33 253.8,661.5 C255.62,662.67 256.97,662.48 258,662.8 C259.03,663.12 259.67,663.3 260,663.4" fill="none" stroke="#c4c4c4" stroke-width="1" stroke-linejoin="round"/>
<path d="M211.8,663.4 C215.83,663.3 231.3,663.2 236,662.8 C240.7,662.4 238.3,661.85 240,661 C241.7,660.15 243.9,658.9 246.2,657.7 C248.5,656.5 251.25,654.75 253.8,653.8 C256.35,652.85 259.42,652.8 261.5,652 C263.58,651.2 265.17,649.33 266.3,649 C267.43,648.67 267.18,648.87 268.3,650 C269.42,651.13 271.25,653.77 273,655.8 C274.75,657.83 277.3,661.03 278.8,662.2 C280.3,663.37 280.53,662.6 282,662.8 C283.47,663 286.67,663.3 287.6,663.4" fill="none" stroke="#ee9a23" stroke-width="1.1" stroke-linejoin="round"/>
<path d="M211.8,663.4 C215.83,663.3 231.55,662.98 236,662.8 C240.45,662.62 236.48,663.47 238.5,662.3 C240.52,661.13 245.22,657.85 248.1,655.8 C250.98,653.75 253.72,651.6 255.8,650 C257.88,648.4 259.32,647.48 260.6,646.2 C261.88,644.92 262.55,643.12 263.5,642.3 C264.45,641.48 265.35,640.98 266.3,641.3 C267.25,641.62 268.08,642.12 269.2,644.2 C270.32,646.28 271.72,650.92 273,653.8 C274.28,656.68 275.73,660 276.9,661.5 C278.07,663 278.22,662.48 280,662.8 C281.78,663.12 286.33,663.3 287.6,663.4" fill="none" stroke="#2f4f94" stroke-width="1.2" stroke-linejoin="round"/>
<path d="M211.8,663.4 C215.5,663.3 229.3,663.12 234,662.8 C238.7,662.48 238,662.63 240,661.5 C242,660.37 244.25,658.75 246,656 C247.75,653.25 249.03,648.25 250.5,645 C251.97,641.75 253.63,637.17 254.8,636.5 C255.97,635.83 256.55,638.58 257.5,641 C258.45,643.42 259.5,647.92 260.5,651 C261.5,654.08 262.25,657.57 263.5,659.5 C264.75,661.43 263.98,661.95 268,662.6 C272.02,663.25 284.33,663.27 287.6,663.4" fill="none" stroke="#6a2f7a" stroke-width="1.2" stroke-linejoin="round"/>
<path d="M211.8,663.4 C215.17,663.3 228.03,662.95 232,662.8 C235.97,662.65 233.88,663.03 235.6,662.5 C237.32,661.97 240.53,661.35 242.3,659.6 C244.07,657.85 245.08,655.2 246.2,652 C247.32,648.8 247.88,643.45 249,640.4 C250.12,637.35 251.77,634.02 252.9,633.7 C254.03,633.38 254.83,635.78 255.8,638.5 C256.77,641.22 257.75,646.48 258.7,650 C259.65,653.52 260.28,657.5 261.5,659.6 C262.72,661.7 261.65,661.97 266,662.6 C270.35,663.23 284,663.27 287.6,663.4" fill="none" stroke="#b8133f" stroke-width="1.3" stroke-linejoin="round"/>
<path d="M211.8,663.4 C214.83,663.3 225.72,663.43 230,662.8 C234.28,662.17 235.62,663.02 237.5,659.6 C239.38,656.18 240.35,647.57 241.3,642.3 C242.25,637.03 242.55,632.8 243.2,628 C243.85,623.2 244.38,618.8 245.2,613.5 C246.02,608.2 247.37,599.57 248.1,596.2 C248.83,592.83 249.03,592.67 249.6,593.3 C250.17,593.93 250.8,596.63 251.5,600 C252.2,603.37 252.93,608.05 253.8,613.5 C254.67,618.95 255.73,626.62 256.7,632.7 C257.67,638.78 258.47,645.52 259.6,650 C260.73,654.48 262.1,657.5 263.5,659.6 C264.9,661.7 263.98,661.97 268,662.6 C272.02,663.23 284.33,663.27 287.6,663.4" fill="none" stroke="#5aa5e0" stroke-width="1.3" stroke-linejoin="round"/>
<text x="266" y="595.36" font-size="5.8" fill="#222" textLength="14.8" lengthAdjust="spacingAndGlyphs">Gata3</text>
<rect x="312.3" y="588.3" width="76" height="74.5" fill="none" stroke="#000" stroke-width="1.3"/>
<path d="M312.5,662.8 C315.42,662.7 326,662.58 330,662.2 C334,661.82 334.7,661.63 336.5,660.5 C338.3,659.37 339.22,659.07 340.8,655.4 C342.38,651.73 344.42,644.15 346,638.5 C347.58,632.85 348.88,626.25 350.3,621.5 C351.72,616.75 353.27,612.47 354.5,610 C355.73,607.53 356.63,605.83 357.7,606.7 C358.77,607.57 359.67,611.32 360.9,615.2 C362.13,619.08 363.52,624.37 365.1,630 C366.68,635.63 368.82,644.07 370.4,649 C371.98,653.93 373.33,657.4 374.6,659.6 C375.87,661.8 375.77,661.67 378,662.2 C380.23,662.73 386.33,662.7 388,662.8" fill="none" stroke="#c4c4c4" stroke-width="1" stroke-linejoin="round"/>
<path d="M312.5,662.8 C315.62,662.7 327.33,662.9 331.2,662.2 C335.07,661.5 334.03,660.3 335.7,658.6 C337.37,656.9 339.43,654.35 341.2,652 C342.97,649.65 344.63,647.17 346.3,644.5 C347.97,641.83 349.78,638.42 351.2,636 C352.62,633.58 353.72,632.33 354.8,630 C355.88,627.67 356.65,625.67 357.7,622 C358.75,618.33 359.87,611.95 361.1,608 C362.33,604.05 364,599.3 365.1,598.3 C366.2,597.3 366.78,598.38 367.7,602 C368.62,605.62 369.77,614 370.6,620 C371.43,626 372.02,632.67 372.7,638 C373.38,643.33 373.8,648.25 374.7,652 C375.6,655.75 377.02,658.8 378.1,660.5 C379.18,662.2 379.55,661.82 381.2,662.2 C382.85,662.58 386.87,662.7 388,662.8" fill="none" stroke="#6a2f7a" stroke-width="1.2" stroke-linejoin="round"/>
<path d="M312.5,662.8 C315.75,662.7 328,662.9 332,662.2 C336,661.5 334.83,660.3 336.5,658.6 C338.17,656.9 340.23,654.35 342,652 C343.77,649.65 345.43,647.17 347.1,644.5 C348.77,641.83 350.58,638.42 352,636 C353.42,633.58 354.52,632.33 355.6,630 C356.68,627.67 357.45,625.67 358.5,622 C359.55,618.33 360.62,611.78 361.9,608 C363.18,604.22 365.05,600.3 366.2,599.3 C367.35,598.3 367.93,598.55 368.8,602 C369.67,605.45 370.62,614 371.4,620 C372.18,626 372.82,632.67 373.5,638 C374.18,643.33 374.6,648.25 375.5,652 C376.4,655.75 377.82,658.8 378.9,660.5 C379.98,662.2 380.48,661.82 382,662.2 C383.52,662.58 387,662.7 388,662.8" fill="none" stroke="#b8133f" stroke-width="1.2" stroke-linejoin="round"/>
<path d="M312.5,662.8 C315.82,662.7 328.33,662.9 332.4,662.2 C336.47,661.5 335.23,660.3 336.9,658.6 C338.57,656.9 340.63,654.35 342.4,652 C344.17,649.65 345.83,647.17 347.5,644.5 C349.17,641.83 350.98,638.42 352.4,636 C353.82,633.58 354.92,632.33 356,630 C357.08,627.67 357.85,625.67 358.9,622 C359.95,618.33 360.98,611.83 362.3,608 C363.62,604.17 365.62,600 366.8,599 C367.98,598 368.57,598.5 369.4,602 C370.23,605.5 371.05,614 371.8,620 C372.55,626 373.22,632.67 373.9,638 C374.58,643.33 375,648.25 375.9,652 C376.8,655.75 378.22,658.8 379.3,660.5 C380.38,662.2 380.95,661.82 382.4,662.2 C383.85,662.58 387.07,662.7 388,662.8" fill="none" stroke="#2f4f94" stroke-width="1.2" stroke-linejoin="round"/>
<path d="M312.5,662.8 C315.92,662.7 328.83,662.9 333,662.2 C337.17,661.5 335.83,660.3 337.5,658.6 C339.17,656.9 341.23,654.35 343,652 C344.77,649.65 346.43,647.17 348.1,644.5 C349.77,641.83 351.58,638.42 353,636 C354.42,633.58 355.52,632.33 356.6,630 C357.68,627.67 358.45,625.67 359.5,622 C360.55,618.33 361.43,611.6 362.9,608 C364.37,604.4 366.97,601.4 368.3,600.4 C369.63,599.4 370.22,598.73 370.9,602 C371.58,605.27 371.8,614 372.4,620 C373,626 373.82,632.67 374.5,638 C375.18,643.33 375.6,648.25 376.5,652 C377.4,655.75 378.82,658.8 379.9,660.5 C380.98,662.2 381.65,661.82 383,662.2 C384.35,662.58 387.17,662.7 388,662.8" fill="none" stroke="#ee9a23" stroke-width="1.2" stroke-linejoin="round"/>
<path d="M312.5,662.8 C315.92,662.7 328.42,662.83 333,662.2 C337.58,661.57 338,660.83 340,659 C342,657.17 343.5,653.87 345,651.2 C346.5,648.53 347.58,645.83 349,643 C350.42,640.17 351.7,637.07 353.5,634.2 C355.3,631.33 358.22,627.38 359.8,625.8 C361.38,624.22 361.93,624.35 363,624.7 C364.07,625.05 364.97,625.6 366.2,627.9 C367.43,630.2 369,633.92 370.4,638.5 C371.8,643.08 373.18,651.45 374.6,655.4 C376.02,659.35 376.67,660.97 378.9,662.2 C381.13,663.43 386.48,662.7 388,662.8" fill="none" stroke="#5aa5e0" stroke-width="1.2" stroke-linejoin="round"/>
<text x="367.2" y="595.06" font-size="5.8" fill="#222" textLength="14.8" lengthAdjust="spacingAndGlyphs">Gata3</text>
<line x1="391" y1="604.9" x2="401" y2="604.9" stroke="#c4c4c4" stroke-width="1.3"/>
<text x="405.4" y="607.38" font-size="7" fill="#222" textLength="8.5" lengthAdjust="spacingAndGlyphs">WT</text>
<line x1="391" y1="613.4" x2="401" y2="613.4" stroke="#5aa5e0" stroke-width="1.3"/>
<text x="405.4" y="615.88" font-size="7" fill="#222" textLength="13.5" lengthAdjust="spacingAndGlyphs"><tspan font-style="italic">p53</tspan><tspan font-size="4.2" baseline-shift="super">-/-</tspan></text>
<line x1="391" y1="621.2" x2="401" y2="621.2" stroke="#6a2f7a" stroke-width="1.3"/>
<text x="405.4" y="623.69" font-size="7" fill="#222" textLength="15.5" lengthAdjust="spacingAndGlyphs">V-Del</text>
<line x1="391" y1="629.2" x2="401" y2="629.2" stroke="#b8133f" stroke-width="1.3"/>
<text x="405.4" y="631.69" font-size="7" fill="#222" textLength="15.5" lengthAdjust="spacingAndGlyphs">V-Fus</text>
<line x1="391" y1="636.9" x2="401" y2="636.9" stroke="#2f4f94" stroke-width="1.3"/>
<text x="405.4" y="639.38" font-size="7" fill="#222" textLength="33" lengthAdjust="spacingAndGlyphs"><tspan font-style="italic">p53</tspan><tspan font-size="4.2" baseline-shift="super">-/-</tspan> V-Del</text>
<line x1="391" y1="645.1" x2="401" y2="645.1" stroke="#ee9a23" stroke-width="1.3"/>
<text x="405.4" y="647.59" font-size="7" fill="#222" textLength="33" lengthAdjust="spacingAndGlyphs"><tspan font-style="italic">p53</tspan><tspan font-size="4.2" baseline-shift="super">-/-</tspan> V-Fus</text>
<rect x="0.5" y="0.5" width="519" height="673.8" fill="none" stroke="#000" stroke-width="1.1"/>
</svg></body></html>
